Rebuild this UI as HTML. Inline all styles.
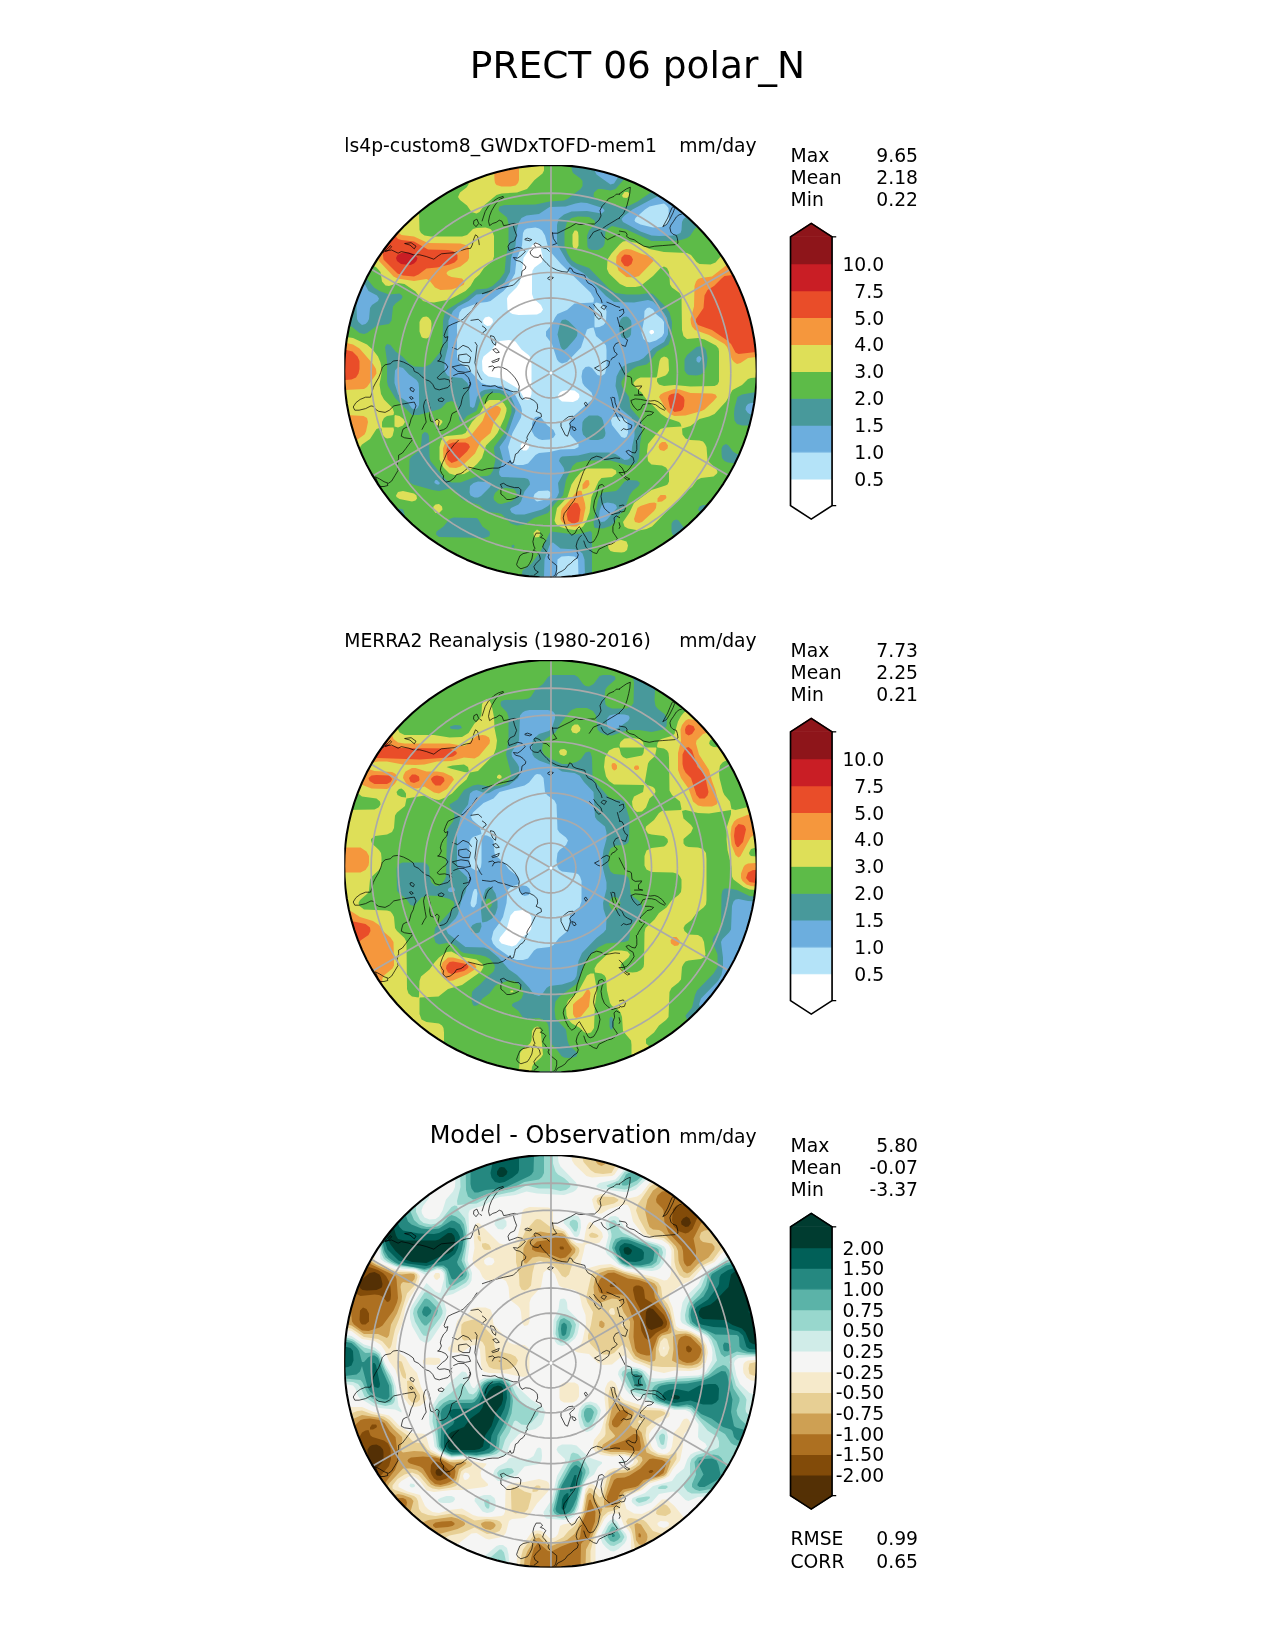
<!DOCTYPE html>
<html><head><meta charset="utf-8"><title>PRECT 06 polar_N</title>
<style>html,body{margin:0;padding:0;background:#fff;}svg{display:block;will-change:transform;}</style>
</head><body>
<svg width="1275" height="1650" viewBox="0 0 612 792" version="1.1"> <defs> <style type="text/css">*{stroke-linejoin: round; stroke-linecap: butt}</style> </defs> <g id="figure_1"> <g id="patch_1"> <path d="M 0 792 L 612 792 L 612 0 L 0 0 z " style="fill: #ffffff"/> </g> <g id="axes_1"> <defs><clipPath id="clipF0"><circle cx="550.48" cy="371.25" r="206.23"/></clipPath></defs><g transform="scale(0.48)"><g clip-path="url(#clipF0)"> <rect x="342.2" y="163.0" width="416.5" height="416.5" fill="#FFFFFF"/> <path fill="#B4E3F8" d="M346.5 166l409.5 0l0 410.5l-411 0l0-410.5l1.5 0zM535.5 242.5l-3 2.5l-9 13l-1.5 15.5l-2.5 9.5l-3 4.5l-8 8l-1.5 3l0.5 11l2.5 3l2.5 1.5l6 1l18.5-0.5l4-2l2-3l-2-4.5l-7.5-6.5l-1.5-4.5l0-19l0.5-4.5l2-3l7.5-5.5l1-4l-3-12.5l-2.5-3l-2 0zM485 317.5l-2 3l0.5 3l3.5 2.5l3.5-0.5l2.5-3.5l-0.5-3l-3.5-2.5l-4 1zM651 330l-1.5 1l0 2l2 1.5l2.5-1.5l0-1.5l-1-1.5l-2 0zM500 341l-3.5 2l-5 7l-8 6.5l-1.5 4.5l0.5 9.5l2 3l4 3l13 2l15.5 9.5l3 3l4.5 8l3.5 1l2-1.5l1.5-4.5l0-31.5l-0.5-4.5l-2.5-3l-7-5.5l-6-8l-6.5-1.5l-9 1zM562.5 391l-2.5 1.5l-2 3l0.5 3l3.5 3l11 0.5l4.5-2l2-3l-0.5-3l-4.5-3.5l-6-0.5l-6 1zM522.5 442.5l-2 3l0.5 3l2 2l3.5 0l2-2l1-3l-3-3.5l-4 0.5z"/> <path fill="#6CAEDE" d="M346.5 166l409.5 0l0 410.5l-177.5 0l-0.5-17l-3.5-3l-6-0.5l-7 0.5l-4 3l-1 17l-211.5 0l0-410.5l1.5 0zM656 205l-6.5 1.5l-4.5 3l-9.5 8.5l-1 2.5l1 1.5l5 2.5l12.5 3l9-0.5l4-2l2.5-3l0.5-3l-0.5-11l-2.5-3l-2-1.5l-8 1.5zM527 228.5l-2.5 1.5l-1.5 3l-1 12.5l-5.5 14l-1.5 14l-7 12.5l-4.5 5l-13 10l-3.5 1l-9 1l-16 6l-2.5 3.5l-2.5 12.5l0 31.5l2 5.5l8 6l14.5 15l5.5 2l14.5 1l7.5 3.5l6.5 6l5.5 11l1 4.5l-1 6.5l-8.5 15.5l-4.5 14l3 14l2.5 3l3.5 1l6 0l5-1.5l7.5-8.5l3.5-2l10.5-1l11-2.5l14-0.5l4-2l0-3l-8.5-9.5l-0.5-4.5l0-8l2.5-4.5l19.5-17.5l1.5-3l-1.5-4.5l-7-6.5l-2-3l-1-6.5l1-6l3-3.5l3.5-0.5l3 1.5l5.5 7l4 1l3.5-2.5l1.5-6l0-17.5l-0.5-4.5l-2.5-3l-7.5-6.5l-2.5-8.5l-3 0.5l-3.5 1.5l-6 18l-14 14.5l-5 1.5l-3-1.5l-2-2.5l-5-15.5l-6-8l0-4.5l5.5-6.5l3.5-7.5l2.5-3.5l9.5-4l7.5-6.5l19-1l0.5-4l-3.5-6l-29.5-28.5l-9.5-11l-3.5-6l-3-11.5l-3-5l-3-2l-3.5-1l-8.5 1zM594.5 303.5l0 23l0.5 1l4.5-0.5l4-2l2.5-3l0.5-11l-1.5-3l-3.5-4l-5-1.5l-2 1zM647 308l-2.5 3l-0.5 9.5l-2.5 12.5l2 6l3 2.5l3 1l6.5-2l6-4l2-3.5l0-8l0-3l-2-3l-6-5l-3-4.5l-3.5-2l-2.5 0.5zM612 417.5l-1 3l1 4.5l9.5 12l3 1l2-1l1.5-4l-0.5-11l-1-2l-3.5-2l-7.5-1.5l-3.5 1zM538.5 491l-4 3l-1 3l1.5 3l2 1.5l11-2.5l3.5-3.5l-0.5-3l-3-2l-9.5 0.5zM535.5 417l3.5-0.5l2 1l6 7.5l6.5 5l2 4.5l-2 3l-4 2l-7.5 0.5l-3.5-1l-4-3l-2.5-4.5l0-8l1.5-4.5l2-2z"/> <path fill="#48999B" d="M346.5 166l247.5 0l0.5 4.5l2 4l14 10l3.5-1l4.5-7l7.5-4.5l1.5-6l58 0l0 6l-2 4.5l-2.5 3l-6.5 3.5l-4.5 8l-17 7.5l-20.5 11l-8.5 6.5l-2.5 3l1.5 3l17.5 9.5l11 4l7.5 0.5l15.5-0.5l6-2.5l1-3l0.5-8l1.5-3l8.5-7l5-7l7.5-5.5l5-7l7.5-5.5l5-7l7.5-5.5l2-4l0-4.5l24.5 0l0 236.5l-5 0.5l-3 1l-2 2.5l-0.5 3l2 3l2 1.5l6.5 1l0 161.5l-171 0l-0.5-17l-2-6l-3-2.5l-3-1.5l-16-1l-7.5-6l-1.5 0.5l-2 2.5l-5 14l-0.5 17l-199 0l0-286.5l6.5 1l3 2l1.5 2.5l1 23.5l1.5 3l3.5 3l3.5-1l2-2l1.5-3l1-11l2-3l6-4l1-2.5l-2-3l-8.5-4.5l-3.5-6.5l-3-2l-17-1l0-115.5l1.5 0zM575.5 203.5l-10 3l-16 0.5l-10.5 7l-12.5 1.5l-5 2.5l-2.5 4l-2 6.5l-1.5 17l-4.5 12.5l-1 14l-5.5 10.5l-5 4.5l-6 4l-6.5 2.5l-10.5 1l-8 6.5l-10.5 5.5l-5 4.5l-4.5 9.5l-0.5 26.5l-3.5 14l0 9.5l1.5 3l2 2.5l3.5 1l10.5 1l5.5 5l1.5 4.5l1 19l3 1.5l1.5-1.5l2.5-9.5l4-5.5l3-1.5l6.5-1l9 0.5l5 2l6.5 5.5l3.5 8l1 6l-6 17.5l-3.5 9.5l-6.5 9l3.5 12.5l-4 12.5l0.5 3l2 2l23 1l3.5 1l1.5 2.5l0.5 3l-5.5 7l-3.5 10l-2.5 3l-7.5 3.5l-1 1.5l1.5 3l4 2l9 0l17.5-5l6-3.5l9-9l2-4.5l-1-9.5l5.5-9.5l1-3l-1-3l-4.5-6.5l1-3l2-1.5l16-1l12.5-3l18.5 0l6.5 1.5l9 6l3.5-0.5l2-1.5l1.5-3l0.5-8l2.5-11l0-12.5l-3-6l-10-8l-2-3l-1-9.5l-3-11l1-9.5l3-6l3.5-4l5-3l11-3l4.5-2.5l9.5-9.5l11-6.5l4-7.5l0-11l-1-5.5l-3-5l-11-11.5l-5-1.5l-14 2.5l-20-0.5l-8-6l-22-22.5l-12.5-7.5l-4.5-5l-10-17l0-19l1.5-6l5.5-4.5l7.5-3l15.5-0.5l14.5 2.5l3-2.5l-0.5-1.5l-1.5-1.5l-15.5-5l-6-0.5l-5.5 1zM698 356.5l-1.5 1.5l0 3l1.5 1.5l1.5 0l1.5-2.5l0.5-2l-2-2l-1.5 0.5zM397.5 367.5l-2.5 3l-0.5 8l0 4.5l3.5 11l2 3l7.5 5l4.5 6.5l3.5 1l2-1.5l1.5-3l0-17.5l-0.5-4.5l-2-3l-7.5-5.5l-6-6.5l-3.5-1l-2 0.5zM434.5 481.5l0 1.5l2.5 1.5l2 0l1-1.5l-3-3l-1.5 0l-1 1.5zM473.5 483l-3.5 3l-0.5 6.5l1 3l4 2l3.5 0l3-1.5l8.5-8.5l2-3l-0.5-1.5l-4-1l-9-0.5l-4.5 1.5zM603.5 503.5l-2 2l-2 5.5l-0.5 8l0.5 2l2 1l3-0.5l3-2.5l9.5-11l-1-3l-2.5-1.5l-6-1l-4 1zM623 317l3.5-0.5l2 1l2.5 3l0.5 3l-0.5 11l-1.5 2.5l-3 1.5l-3.5-0.5l-1.5-1l-2-5.5l0-9.5l1.5-3l2-2zM562 320l3.5-0.5l3 1.5l8 8l1 4l-0.5 3l-2.5 3.5l-7.5 8.5l-3 2l-2-1l-1.5-2.5l-3-12l2.5-11l2-3.5zM589 415.5l9 0l3.5 2l1.5 3l2.5 12.5l-0.5 3l-2 2.5l-5 1.5l-7.5 0l-3.5-1.5l-4-4l-1-4.5l0.5-8l2-3l4.5-3.5z"/> <path fill="#5DBB48" d="M346.5 166l225 0l0.5 4.5l1 2.5l7.5 5.5l2 2.5l0 5l-2 3l-12.5 9.5l-4 2l-14.5 1l-14 3l-31 0.5l-5 1.5l-1 3l0.5 1.5l8 6.5l1.5 6l0 20.5l-2.5 12.5l-1.5 16l-5 7l-7 6.5l-5.5 2.5l-10.5 1l-11 9l-19 11.5l-2 4l-1.5 6.5l-0.5 26.5l-2 4.5l-10 12.5l-6 3l-10.5-0.5l-5-3l-6.5-7l-7-5l-5-6.5l-3.5-1l-2 3l2 14l0 20.5l1 4.5l7.5 12.5l16.5 16.5l6.5 0l20-5.5l3-1.5l5-5.5l5-1.5l3 1.5l3 3.5l1 3.5l0.5 9.5l1.5 3l1.5 0l5-6l9.5-5l4.5-12.5l4.5-4.5l5-1l9 0l5 2.5l3 3l4 8l0 6l-7 20.5l-10.5 14l0 3l1.5 9.5l-2.5 11l-2.5 4l-3.5 1.5l-10.5 0.5l-16 6l-9 0l-5-2.5l-3.5-3.5l-12.5-15.5l-1-4.5l-0.5-20.5l-1.5-3l-3-1l-2.5 2.5l-1 11l-1 3.5l-2 2.5l-6.5 5l-2 3l-0.5 20.5l1.5 3l2.5 1.5l19.5 5.5l6.5 1l10.5-2.5l3.5 0.5l3 2l4.5 7l3.5 2.5l15.5 4.5l7.5 7l11 1l3.5 1l9.5 9.5l6 2l7.5-1l9.5-6.5l14-5l7-9.5l8-8l3-15.5l6.5-14l4-3.5l10.5-2l23.5 0l17.5 5l6-1l3-2l2-4.5l1-14l2-12.5l-0.5-9.5l-1.5-3l-9.5-11l-1.5-11l-6.5-9.5l-1-3l0-3l4-6.5l7-6l4.5-2.5l9.5-2l3-2.5l7.5-10.5l11.5-7l3-8.5l0.5-14l-2.5-9.5l-4-6l-12.5-12.5l-3.5-1l-10.5 1.5l-12.5 0l-11-1.5l-6.5-4.5l-20-20.5l-12.5-4.5l-5-3.5l-4-6.5l-3-8l0-14l2.5-9.5l4.5-4l6.5-1.5l11 0.5l5.5 3.5l0.5 1.5l-0.5 3l-5.5 5.5l-2 5.5l0.5 11l1.5 2l3 1l6 0l5-3l1.5-3l1-12.5l2.5-3l4-2.5l14.5 3.5l25 11.5l21.5 0l8-1l6-2l3-2l5-7.5l7-5l5.5-7.5l7-5l5.5-7.5l7-5l5.5-7.5l8-5.5l5-7l4-2.5l6.5-0.5l0 216.5l-14 2.5l-4.5 2.5l-3 11l-0.5 6l0.5 6.5l2.5 3.5l5 1.5l14 0l0 29l-19-0.5l-4-2.5l-4.5-6l-2.5-1.5l-3 1.5l-1.5 3l0 5l0.5 4.5l2.5 3l3.5 1.5l12.5 1.5l3 2l5.5 7.5l2 1.5l5 0.5l0 66.5l-6.5-0.5l-4-2.5l-5-7l-7.5-5.5l-5-7l-7.5-5.5l-7-8l-3-1l-7.5 0l-3.5 1.5l-1.5 3l1.5 2l6.5 4.5l5 7.5l7.5 5l5 7.5l7.5 5l5 7.5l7.5 5l4.5 7l3 2l5 0.5l0 13.5l-26.5 0l-0.5-4.5l-2-3l-6.5-5l-5-7l-7.5-5.5l-5-7l-7.5-5.5l-5-7l-7.5-5.5l-4.5-6l-2-1l-3 1l-2 3l0 8l1 3l8.5 6.5l5 7.5l7.5 5l5 7.5l7.5 5l2.5 4.5l0.5 6l-117 0l0-40.5l0-3l-1.5-2l-9.5 2.5l-6.5 1l-23-3l-2 1.5l-9 18.5l-9.5 12.5l-8.5 6.5l-1 6l-167 0l0.5-6l1.5-3l9-7l5-7l7.5-5.5l5-7l7.5-5.5l5-7l6.5-5l2-3l0.5-6.5l-1.5-4.5l-3.5-1l-2 1l-4.5 4.5l-7.5 5.5l-5 7l-7.5 5.5l-5 7l-7.5 5.5l-5 7l-4 2.5l-6.5 0.5l0-29l4.5-0.5l2.5-1.5l6-7.5l7.5-5.5l5-7l6.5-5l2-3l0.5-6.5l-1-6l-4-3l-29.5-0.5l0-154l6.5 1l8 6.5l4.5 1l3-1l9.5-7l12.5-2l2.5-3.5l1.5-14l2.5-3l6-4.5l1-2l-0.5-1.5l-2.5-2l-10.5 1l-9.5-3.5l-5.5-3.5l-6-7.5l-4-3l-19-1l0-110l1.5 0zM696.5 347l-9.5 8l-2.5 4.5l0 11l2 3l2 1.5l8 0.5l4.5-1l3.5-3.5l2-5l1-8l-1.5-8l-2.5-3l-2.5-1l-4.5 1zM628.5 480l-4 1.5l-6 7.5l-2.5 2l-13 1.5l-3 3l-2 4.5l-4.5 22l0.5 4.5l1 1.5l8 0.5l7.5-2.5l3-2.5l4.5-7.5l6.5-6.5l5-14l3-4.5l6-5l1.5-3l-3-2.5l-8.5-0.5zM453.5 517.5l-4 1.5l-6 7.5l-7 5l-0.5 3l3 2.5l45 1l5-1.5l1-2l-0.5-3l-7-5l-4.5-7.5l-1.5-1l-23-0.5zM511.5 545.5l0.5 2.5l2.5-1l-0.5-2.5l-2.5 1zM634 166l46.5 0l-0.5 4.5l-1.5 3l-8 6.5l-5 6.5l-3.5 2l-10.5 3.5l-14 9.5l-8 4l-5 1.5l-7.5-1l-17.5-5.5l-5.5-3.5l-0.5-1.5l0.5-3l4-3.5l3.5 0l9 1.5l5-1.5l7.5-8.5l7.5-5.5l2-3l0.5-6l1 0zM499.5 489l6.5-1l8 1l2.5 3.5l0 4.5l-4.5 4l-10.5 3l-3.5-0.5l-4-3.5l-0.5-3l1.5-4l4.5-4z"/> <path fill="#DEDF58" d="M346.5 166l35.5 0l0 4.5l2 4l7.5 5.5l5 7l7.5 5.5l5 7l8.5 7l1.5 4.5l0.5 19l1.5 3l3.5 2.5l6.5 1l31 0l5-1.5l6-6l3.5-1l9-0.5l5 1.5l2 2.5l1.5 4.5l0 20.5l-1.5 4.5l-8.5 7l-4.5 6.5l-5 4.5l-4 7l-5 5l-16 8.5l-15.5 3l-7.5-0.5l-3.5-1l-7.5-9.5l-11-7.5l-6.5-1l-9 3l-3.5-0.5l-3.5-4l-1.5-9.5l-4-4.5l-3.5-2l-28-0.5l0-99l1.5 0zM470 166l74 0l0 4.5l-1.5 3l-8 6.5l-7.5 9l-10 3.5l-15.5 1l-5 1.5l-12 10l-5 7l-3 1.5l-5-1.5l-4.5-6.5l-7-5.5l-2-3l2-4.5l6.5-5l2-3l0.5-18.5l1 0zM624.5 192l3.5 0l1.5 2l-1 3l-2 1l-3.5-0.5l-1-2l2.5-3.5zM751 228l5-0.5l0 150l-5 0.5l-3 1l-6 6l-9.5 5l-6.5 11.5l-11.5 12.5l-5.5 2.5l-9.5 2.5l-9 7l-8.5 2.5l0.5 6l3 4l5 1.5l9 0.5l3.5 1l2 2.5l1.5 3l1 12.5l2 3l7 6.5l1 3l-0.5 1.5l-3.5 3l-12.5 1.5l-4 2l-5 7l-7.5 5.5l-5.5 7.5l-7.5 6.5l-19.5 20l-5.5 2.5l-7.5 1.5l-11-2l-3.5-2l-1.5-4.5l6.5-9.5l4.5-9.5l17.5-13l14-4.5l2-1l1.5-3l0-9.5l-3-4.5l-4-2l-10.5-1l-3.5-3.5l-1-9.5l1-7.5l12.5-15l5-1.5l16-1l-1-3l-1.5-1.5l-12-4l-6-4l-7-7.5l-7.5-7l-5-7l-7-6.5l-1-3l1-1.5l2.5-2.5l3.5-1.5l15.5 0l1-1l2.5-15.5l1.5-3l3-1.5l3 1l1.5 2l0.5 11l-1.5 3l-2 2l-8.5 3l0 3l2 3l5 1.5l10.5-1l16 1.5l24-0.5l3-1.5l1.5-3l0-30l-0.5-3l-2.5-3l-11.5-6l-6.5-1.5l-11 1l-3.5-3l-1.5-6l-0.5-33l-2-4l-7.5-5.5l-2-3l-1-12.5l-2-4l-3-1.5l-3.5 1.5l-7.5 8l-12.5 10l-5 1l-9 0l-6.5-3l-11-10.5l-2-4.5l0.5-9.5l4-6l8.5-9.5l3-2.5l3.5-0.5l10.5 2l12.5 6l14.5 3l23 1l4 2l5.5 7l3 2l11 0.5l5-2l6-7l7.5-5.5l5.5-7.5l7.5-5.5l4.5-6.5l4.5-2.5zM574.5 230.5l2 0l1.5 1.5l0.5 4l0 9.5l-2 4l-2-0.5l-1.5-2l-0.5-3l0-9.5l2-4zM423 317l3.5-0.5l2 1l2.5 3l0.5 3l-0.5 11l-1.5 2.5l-3 1.5l-3.5-0.5l-1.5-1l-2-5.5l0-9.5l1.5-3l2-2zM346.5 337l6.5 1l14 6.5l6 5.5l5 6.5l2.5 6l1.5 8l-2.5 14l1.5 9.5l3 5.5l8.5 8.5l1.5 4.5l-0.5 2.5l-6.5 1l-3 2l-2 4l0 4.5l0.5 1l11 0l0.5 2.5l-1.5 6l-2 2l-3.5 0.5l-2-1l-2.5-3l-1-6l-2-0.5l-3 1l-6.5 10l-8 5.5l-6 8.5l-4.5 2.5l-6.5 0.5l0-119l1.5 0zM489 400l10.5 0l4.5 3.5l2.5 4.5l0 3l-2 7l-7 15l-3.5 4.5l-8 8l-4 12.5l-5 6l-8.5 7.5l-4.5 2.5l-9.5 1l-5-1.5l-6-6l-4-8l0-12.5l1.5-6l2-3.5l3.5-1.5l15.5-1.5l3.5-1.5l6.5-11l7.5-8l5.5-10.5l4-3.5zM395 415l4.5 1l4 3l1.5 3l-2 3.5l-5 2l-3.5-1l0-10.5l0.5-1zM439 419l3 1.5l0.5 1.5l-2 3l-1.5 1l-3.5-1.5l-1.5-2.5l1.5-2l3.5-1zM587 468.5l25 0l4 2l0.5 3l-4.5 3.5l-10.5 1l-3 3.5l-7 15.5l-2 15.5l-3.5 9.5l-3 4.5l-3.5 2.5l-5 1l-7.5-1l-6.5-2l-4.5-3l-1.5-3.5l2.5-12.5l10.5-11l4-12.5l4-6l5.5-6.5l6-3.5zM398 492l5-1l11 2.5l2.5 2l0.5 3l-1.5 2l-3.5 1l-12.5-2.5l-3-2l-0.5-1.5l2-3.5zM435.5 504.5l3.5-0.5l3 2.5l0.5 3l-3.5 3.5l-3.5 0l-2.5-3.5l0.5-3l2-2zM537 529.5l3 2l0 3l-1 2.5l-3.5 0.5l-1.5-1.5l-0.5-3l3.5-3.5zM614 540.5l7.5-0.5l5 1.5l1.5 4l-1 4.5l-2.5 2l-3 0.5l-7.5-0.5l-3.5-1l-2-2.5l-0.5-3l2-3l4-2z"/> <path fill="#F5973D" d="M495 166l24 0l0 14l-1 3l-2.5 2.5l-5 1l-9 0l-5-1.5l-1.5-2l-0.5-3l-0.5-14l1 0zM346.5 185.5l6.5 1l4.5 2.5l4.5 7.5l8 5l4.5 7.5l8 5l4.5 7.5l8 5l4 6.5l2.5 2l12.5 1.5l14 6.5l32.5 0.5l7 2l1.5 3l0 3l0 6.5l-1.5 3l-7 5.5l-11.5 4l-2 1.5l-0.5 1.5l1.5 2l3.5 1.5l10.5 1.5l2.5 3l-0.5 3l-3.5 2l-9 3l-11 0.5l-5.5-2.5l-5.5-7l-3-1.5l-12.5 2l-16.5-2.5l-4-2l-14.5-15.5l-1.5-4.5l-0.5-8l-1.5-3l-7.5-4.5l-5-8l-7.5-4.5l-4-7.5l-3.5-1.5l-3 0l0-34l1.5 0zM623 250l3.5-1l4.5 0.5l11 4.5l9 2.5l2.5 1.5l0 3l-14.5 15l-5 1.5l-7.5-0.5l-8-6.5l-2.5-8l0.5-6l3.5-4.5l3-2zM749.5 261l6.5-0.5l0 96.5l-8 1l-7.5 5l-3.5 1l-3-2l-2-2.5l-5-12.5l-2.5-3l-15.5-9l-14-5l-3-3.5l-1-3l-0.5-4.5l3.5-12.5l0.5-20.5l1.5-4.5l2-2.5l3-1l11-1.5l14-11l9.5-0.5l14-4zM346.5 343l6.5 1.5l6.5 4l13.5 15.5l3 5l0.5 4.5l-2 3l-7.5 10.5l-3 2l-19 1l0-47l1.5 0zM674.5 389l5 0.5l11 3.5l21.5 0.5l3.5 1l1.5 2.5l-3.5 4l-9 8.5l-3 1.5l-16 4.5l-11 0.5l-4.5-2l-3-3l-8-14l1.5-2.5l3.5-2l10.5-3.5zM490.5 406l7.5 0l2.5 2l0.5 1.5l-1.5 4.5l-5.5 8l-3.5 11l-9.5 8l-6 12.5l-11 10.5l-3.5 2.5l-4.5 1.5l-6.5-0.5l-3.5-3.5l-2.5-6l-0.5-9.5l2-5.5l4.5-3.5l16-1l5-2.5l12-15l4.5-12l3.5-3zM346.5 415l17 1l3.5 2l1 4l-2 9.5l-1.5 3l-7 5l-6 8l-6.5 1.5l0-34l1.5 0zM662 442l3.5 0l2.5 3.5l-0.5 3l-3.5 2.5l-4-1l-1.5-3l1-3l2.5-2zM585.5 480.5l1.5-0.5l2 0.5l0.5 4l-2.5 3.5l-4.5 1.5l0-5l3-4zM579.5 490.5l2 0.5l3.5 12.5l0.5 4.5l-1 4.5l-1.5 8l-2 3l-4.5 3l-5 0l-6-2l-3.5-2.5l-1.5-3l0.5-8l1.5-3l7.5-8l6.5-8l3-1.5zM660.5 495l5 0l1 2l-0.5 1.5l-4 3l-4.5 0.5l0-3.5l3-3.5zM649.5 503l5-0.5l2 1l-0.5 4.5l-2 3l-12 11l-3 1l-4-1l-1-3l3.5-11l3-2l9-3z"/> <path fill="#E94D29" d="M346.5 190.5l6.5 2l6 7.5l6.5 5l6 7.5l6.5 5l6 7.5l6.5 5l7.5 9l3.5 1l12.5 1.5l14 8l20 0.5l5 1l4.5 4l0 4.5l-3 3l-5 2l-12.5 3l-10.5 1l-8 6l-4.5 2l-11-1l-5.5-2l-14-14l-1.5-12.5l-2.5-4.5l-6.5-5l-6-8l-8-6l-4.5-6.5l-3-2l-6.5-0.5l0-24l1.5 0zM624.5 254.5l5 0.5l2 1.5l1.5 3l-1.5 4.5l-3.5 2.5l-3.5-0.5l-3.5-5l0.5-3.5l3-3zM753 265.5l3 0l0 52.5l-5.5 1l-1 1.5l0 1.5l1.5 2l5 0.5l0 27.5l-17.5 2l-3-1.5l-4.5-8.5l-3-3l-16-11l-14-5l-2-3l0-3l7.5-11l1-12.5l3-5.5l6.5-4l7.5-7.5l3-2.5l12.5-1.5l9.5-7l6.5-2zM346.5 350l6 1.5l5 5l2 4.5l0 8l-1 4.5l-2.5 4l-4.5 2l-6.5 0.5l0-30l1.5 0zM671.5 394l6.5-1l5.5 4l1 3l-0.5 6.5l-1.5 3l-2 1.5l-6 1l-4.5-4l-2-9.5l1-3l2.5-1.5zM453 442.5l12.5 0l3 1.5l1.5 3l-3 4.5l-10 9.5l-5.5 2l-4-3.5l-1-9.5l1.5-5.5l5-2zM574.5 502.5l3.5 1l2.5 6l-1.5 11l-1 1.5l-3.5 1.5l-3-0.5l-3.5-2.5l-1.5-6.5l2-6l6-5.5z"/> <path fill="#C91E25" d="M401.5 253l7.5-0.5l5 1.5l3.5 4l-1 3l-2.5 2.5l-3.5 1.5l-9.5-1l-4-3l-1-3l1.5-3l4-2z"/> </g><g clip-path="url(#clipF0)"><path fill="none" stroke="#000" stroke-width="0.7" stroke-linejoin="round" d="M382.9 252.7L386.7 249.4 390.5 245.6 391.6 246.9 387.8 250.7 385.1 251.6M385.1 251.0L391.6 250.0 398.1 253.2 401.3 251.6 408.9 253.2 413.3 254.8 419.7 254.8 426.2 256.5 433.8 259.2 438.1 255.9 441.4 253.8 447.9 253.2 454.4 252.7 460.9 250.5 466.3 248.9 470.6 248.3 472.2 245.1 473.9 238.6 475.5 234.8 477.7 236.4 478.7 240.8 479.3 245.1M404.6 243.5L411.1 242.7 416.0 246.2 414.3 248.9 410.0 245.1 404.6 243.5M473.9 220.7L476.9 219.1 478.7 223.4 476.0 226.7 473.5 224.0 473.9 220.7M479.5 224.0L482.0 225.6M482.0 221.3L485.2 211.5 488.5 206.1 493.9 200.7 498.2 198.0 503.1 196.4 503.6 197.5 499.3 199.6 495.0 205.0 491.7 210.5 489.6 215.9 488.5 221.3 489.6 225.6 492.8 223.4 496.1 222.4 499.3 220.2 502.0 221.3 503.6 225.6 506.9 225.1 511.2 224.0 514.5 223.4 517.7 224.5M513.4 225.6L514.5 229.9 516.6 235.4 514.5 240.8 510.1 242.9 508.0 246.2 509.0 250.5 513.4 248.9 517.7 247.3 522.0 248.3 525.3 251.6 520.9 255.9 517.7 258.1 513.4 257.5 515.5 260.2 519.9 261.3 523.1 263.5 525.8 266.7 525.3 268.9 522.0 271.1 521.5 275.4 519.9 278.6 516.6 281.9 513.4 285.1 509.0 286.2 503.6 287.3 499.3 288.4 495.0 289.5 488.5 291.6 482.0 293.8M549.6 251.6L546.9 248.9 542.6 247.8 540.4 245.1 537.2 243.5 535.0 242.9 533.9 244.6 535.6 246.2 532.9 248.9 530.1 251.6 530.7 254.3 533.9 257.0 538.3 257.5 540.4 254.8 541.0 257.0 543.7 260.2 546.9 263.5 549.6 266.2 552.3 267.8 556.7 270.0 562.1 271.6 567.5 272.2 569.7 267.8 571.8 268.9 572.9 271.6 576.1 273.2 580.5 274.3 584.8 275.4 585.9 279.7 588.1 283.0 592.4 285.1 595.6 288.4 596.7 292.7 598.9 296.0 601.0 299.2 602.1 303.0M552.3 232.1L553.4 238.6 556.7 243.5 552.3 245.1M552.3 233.2L557.7 233.2 564.2 229.9 570.7 226.7 576.1 223.4 579.4 224.5 583.7 224.5 590.2 224.0 594.5 224.0 598.9 220.2 601.0 215.9 600.0 210.5 602.1 206.1 605.4 202.9 608.6 198.6 614.0 196.4 616.2 194.2 620.0 194.2M589.1 238.6L593.5 232.1 598.9 229.9 602.1 228.9 606.5 225.6 611.9 222.4 617.3 219.1 620.0 218.0M601.0 232.1L603.2 236.4 607.5 239.7 611.9 237.5 616.2 235.4 620.0 234.3M524.7 239.1L527.4 238.1 531.8 239.7 529.6 240.8 524.7 239.7M547.5 278.1L550.2 276.5 553.4 277.6 550.7 280.3 547.5 278.6M619.0 194.2L623.3 191.0 626.6 188.8 630.3 187.2 629.8 193.1 628.7 198.6 627.1 205.0 625.5 209.4 623.3 213.7 619.0 218.0M619.0 231.0L625.5 232.1 627.1 234.3 626.6 236.4 629.8 238.6 634.1 239.7 638.5 242.9 643.9 246.2 649.3 247.3 654.7 246.2 662.3 245.6 668.8 245.1 675.3 244.6 678.0 242.9 677.4 238.6 676.3 235.4 673.1 234.3 670.9 232.1 669.9 227.8 670.9 225.1 673.6 221.3 676.3 217.0 679.1 214.8 681.8 214.2M662.8 226.7L664.4 224.0 667.7 218.0 669.9 212.6 672.0 207.8 673.1 206.7 674.7 208.3 673.1 212.6 669.9 219.1 666.6 224.5 662.8 226.7M382.9 366.9L385.1 364.8 390.5 363.7 393.2 361.0 398.1 360.4 403.5 362.1 408.9 364.8 413.3 368.0 414.3 371.3 418.7 373.4 421.9 376.7 426.2 379.9 429.5 381.0 432.7 384.3 434.9 388.6 439.2 389.9 443.6 388.6 447.9 387.5 450.6 384.3 449.5 381.0 452.2 377.8M382.4 366.9L380.8 372.4 378.6 377.8 375.4 383.2 373.2 387.5 371.6 394.0 370.5 397.2 365.6 397.2 360.2 399.4 355.9 402.7 353.2 407.0 354.8 410.2 359.1 410.2 365.6 408.6 371.0 405.9 373.7 406.4 375.4 409.2 378.6 411.3 385.1 412.4 389.4 410.2 393.8 405.9 399.2 404.8 404.6 403.7 410.0 402.7 414.3 402.1M414.3 402.1L416.0 405.9 414.3 410.2 413.3 414.6 411.1 418.9 410.0 423.2 408.9 426.5 405.7 427.6 403.0 429.2 401.9 433.0 401.3 436.2 404.6 437.8 410.0 438.6 413.3 438.9M421.9 429.7L424.1 425.4 426.2 422.1 425.2 416.7 424.1 410.2 423.5 405.9 424.6 401.6 426.2 399.4 428.4 401.6 429.5 405.9 430.6 410.2 429.5 415.6 430.6 421.1 433.8 422.1 437.1 418.9 439.2 421.1 438.1 426.5 437.1 429.7 439.2 430.8 443.6 429.7 446.8 427.6 447.9 425.4 450.1 421.1 451.1 416.7 452.2 413.5 456.5 411.3 458.7 409.2 460.9 404.8 462.0 399.4 463.0 396.2 465.2 392.9 467.4 390.8 469.5 387.5 470.6 384.3 469.5 382.1M477.1 302.5L471.7 310.7 467.4 315.0 463.0 319.3 458.7 321.5 452.2 324.2 447.9 326.4 445.7 331.2 444.1 335.6 445.2 337.7 447.9 336.6 446.8 341.0 443.6 344.2 441.4 348.5 440.3 352.9 441.4 356.1 439.2 360.4 437.6 361.0 441.4 361.7 445.7 363.7 447.9 366.9 445.7 370.2 442.5 372.4 439.2 375.6 437.1 377.8 439.2 379.4 444.6 378.8 449.0 379.9 452.2 382.1M470.6 320.4L478.2 319.3 482.0 322.6M452.2 347.5L457.6 349.6 463.0 345.3 468.5 347.5 471.7 351.8M458.7 355.0L466.3 354.0 470.6 357.2 469.5 362.6 463.0 362.6 458.7 360.4 458.7 355.0M452.2 366.9L460.9 364.8 468.5 365.9 470.6 371.3 465.2 372.4 457.6 371.3 452.2 366.9M453.3 375.6L458.7 373.4 464.1 373.4 468.5 377.8 470.6 383.2 468.5 387.5 463.0 388.6M474.9 342.0L477.1 345.3 476.0 354.0 474.9 362.6 477.1 371.3 480.4 377.8 482.0 379.9M410.0 388.0L412.2 387.5 414.3 389.7 413.3 391.8 410.5 390.2 410.0 388.0M409.5 397.2L411.6 396.7 413.3 398.3 411.1 399.4 409.5 397.2M438.1 399.4L441.4 397.8 444.1 399.4 442.5 401.6 438.7 401.0 438.1 399.4M482.0 325.8L485.2 328.0 486.3 330.1 483.1 332.3 482.0 334.5M490.6 335.6L493.9 336.6 496.1 341.0 495.5 345.3 492.8 343.1 490.6 337.7 490.6 335.6M492.8 349.6L496.1 348.5 499.3 352.3 496.1 352.9 492.8 349.6M491.7 361.5L499.3 358.3 498.2 361.0 492.8 362.6 491.7 361.5M488.5 366.9L492.8 365.9 495.0 368.0M492.3 371.3L493.9 368.0 498.2 366.9 502.5 367.5 506.9 369.6 511.2 373.4 515.0 377.8 517.7 382.1 519.3 386.4 518.8 389.7 518.8 391.8 519.9 396.2 522.0 399.4 525.3 397.8 529.6 398.3 533.9 400.5 537.2 403.7 537.7 408.1 536.1 411.3 538.3 412.4 541.0 413.5 541.5 416.7 539.3 417.8 537.2 418.9 535.0 422.1 532.9 426.5 530.7 430.8 528.5 434.0 526.9 437.3 527.4 440.0M482.0 385.3L486.3 385.9 490.6 386.4 495.0 385.6 498.2 387.5 503.6 388.6 506.9 389.7 510.1 390.8 513.4 391.8 518.8 391.8M492.8 391.8L488.5 395.1 486.3 399.4 485.2 403.7M561.0 423.2L564.2 420.0 568.6 416.7 572.9 416.2 574.5 418.9 571.8 421.1 569.7 423.2 570.7 426.5 569.7 429.7 568.6 433.0 567.5 436.2 565.3 435.1 563.2 430.8 561.0 426.5 561.0 423.2M571.8 426.5L575.1 427.6 576.1 429.7 574.0 430.8 572.4 428.6 571.8 426.5M584.3 403.2L585.9 402.1 587.5 404.8 585.9 406.4 584.3 403.2M594.5 368.0L598.9 365.9 602.1 362.6 606.5 360.4 609.7 361.5 608.6 365.9 604.3 369.1 601.0 371.3 597.8 370.2 594.5 368.0M589.1 306.3L593.5 310.7 595.6 316.1 598.9 319.3 602.1 317.2 601.0 312.8 596.7 308.5 593.5 304.2M601.0 307.4L603.2 305.2 606.5 306.3 604.3 309.6 601.0 307.4M606.5 302.0L611.9 304.2 616.2 306.3 620.0 307.4M617.3 317.2L618.4 321.5 620.0 326.9M620.0 342.0L615.7 343.7 613.5 347.5 614.6 351.8 617.3 354.0 615.1 356.7 611.9 358.3 610.8 360.4M610.8 397.2L611.9 401.6 612.9 405.9 614.0 410.2 616.2 414.6 618.4 418.9 620.0 421.1M611.9 397.2L614.6 397.8 615.1 402.7 617.3 408.1 620.0 410.2M619.0 310.7L623.3 309.0 623.9 312.8 621.1 316.1 619.0 317.2M619.0 325.8L622.2 326.9 623.9 330.1 623.3 334.5 625.5 338.8 627.6 339.9 626.6 343.1 625.5 346.4 622.2 345.3 619.0 343.1M619.0 362.6L621.1 366.9 623.3 371.3 625.5 375.6 629.8 376.7 631.4 377.8 632.0 384.3 635.2 386.4 641.7 385.9 640.6 388.0 638.5 389.7 638.5 394.0 642.8 395.1 634.1 395.1M630.9 400.5L635.2 398.9 640.6 399.4 646.0 400.5 650.4 401.0 654.7 400.5 657.9 401.6 662.3 404.8 665.5 409.2 664.4 410.2 660.1 408.1 655.8 404.8 651.5 403.7 647.1 403.7 642.8 404.8 640.6 409.2 637.4 410.2 634.1 407.0 632.0 403.7 630.9 400.5M645.0 411.3L649.3 411.3 653.6 412.4 651.5 414.6 647.1 415.6 643.9 418.9 640.6 422.1 639.5 426.5 641.7 427.6 643.9 425.4 644.4 428.6 642.8 430.8 640.6 434.0 638.5 437.3 637.4 440.0M619.0 413.5L622.2 416.7 624.4 421.1 627.6 423.2 632.0 425.4 630.9 428.6 626.6 429.7 623.3 428.6 621.1 430.8M412.2 440.0L408.9 444.3 405.7 448.7 402.4 453.0 398.6 455.2 398.6 458.4 397.0 464.9 398.1 470.3 394.9 475.7 391.6 481.1 388.4 483.3 384.0 481.7 379.7 479.0 375.4 476.8M375.4 476.8L378.6 484.4 380.8 486.5 384.0 486.5 387.8 485.5 387.3 483.3M458.7 440.0L454.4 444.3 450.1 449.7 446.8 453.0 444.6 458.4 442.5 462.7 440.9 467.1 440.3 470.3 441.9 473.6 443.6 475.7 443.0 479.0 445.7 482.2 450.1 481.1 454.4 477.9 456.5 474.6 460.9 473.6 464.1 471.4 466.3 469.2 468.5 467.1 472.8 468.1 477.1 469.2 482.0 470.3M526.4 440.0L525.3 444.3 523.1 447.6 519.9 449.7 517.7 453.0 515.5 454.1 514.5 458.4 513.4 462.7 511.2 463.3 510.1 460.6 509.0 462.7 506.9 463.3 503.6 466.0 498.2 468.1 492.8 468.1 487.4 468.7 482.0 470.3M500.4 484.4L503.6 483.3 506.9 485.5 510.1 486.5 514.5 487.6 518.8 487.6 520.9 489.8 520.4 494.1 518.8 496.3 514.5 498.4 510.1 499.5 506.9 499.5 503.6 496.3 500.9 494.1 500.9 489.8 502.0 487.6 500.4 484.4M620.0 458.4L615.1 457.9 609.7 458.9 604.3 459.5 601.0 457.3 596.7 456.2 591.3 458.4 589.1 461.6 585.9 467.1 583.7 471.4 581.6 476.8 579.4 483.3 577.2 489.8 576.1 496.3 574.0 500.6 570.7 504.9 567.5 509.3 564.2 513.6 563.2 517.9 565.3 525.5 568.6 532.0 571.8 535.2 575.1 533.1 577.2 528.8 579.4 526.6 582.6 532.0 585.9 537.4 588.1 541.7 590.2 542.8 593.5 541.7 595.6 538.5 597.8 534.2 598.9 529.8 600.0 524.4 598.9 520.1 596.7 515.8 594.5 511.4 593.5 507.1 594.5 500.6 596.7 495.2 597.8 489.8 598.9 485.5 602.1 484.4 604.3 486.5 602.1 490.9 601.0 496.3 602.1 502.8 604.3 508.2 607.5 511.4 611.9 514.7 615.1 513.6 620.0 512.5M620.0 517.9L616.2 515.8 614.0 517.9 614.6 522.3 612.9 526.6 612.9 532.0 615.1 535.2 617.3 538.5 615.1 541.7 611.9 543.9 607.5 545.0 603.2 547.2 598.9 549.3 596.7 553.6 593.5 552.6 590.2 550.4 588.1 549.3 585.9 547.2 584.8 543.9 583.7 540.7M581.6 535.2L579.4 537.4 577.2 541.7 576.1 546.1 577.2 549.3 577.2 552.6 578.3 554.7 577.2 558.0 574.0 560.1 570.7 563.4 567.5 565.6 565.3 568.8 562.1 571.0 557.7 573.1 555.6 576.4M536.1 533.1L540.4 533.1 542.6 535.2 540.4 537.4 543.7 538.5 545.8 540.7 543.7 543.9 542.6 547.2 544.8 549.3 546.9 552.6 549.1 554.7 548.0 556.9 549.1 559.1 551.3 561.2 556.7 565.6 556.7 569.9 555.6 574.2 553.4 576.4M536.1 533.1L533.9 537.4 532.9 541.7 533.9 546.1 535.0 548.2 533.4 550.4 536.1 551.5 539.3 554.7 540.4 559.1 538.3 561.2 536.1 563.4 533.9 566.6 535.0 569.9 538.3 572.0 533.9 575.3M517.7 561.2L519.9 555.8 523.1 553.6 527.4 552.6 530.7 551.5 532.9 553.6 531.8 559.1 529.6 563.4 527.4 566.6 524.2 567.7 520.9 568.8 517.7 566.6 516.6 564.5 517.7 561.2M636.3 440.0L636.8 444.3 636.8 449.7 635.2 453.0 632.0 452.4 628.7 450.3 626.0 451.4 628.7 454.6 633.1 457.3 634.1 461.6 632.0 464.9 629.8 468.1 626.6 471.4 623.3 472.5 619.0 472.5M619.0 464.9L622.2 468.1 624.4 472.5 625.5 476.8 629.8 479.0 627.6 480.0 624.4 477.9 621.1 474.6 619.0 472.5M619.0 506.0L623.3 504.9 625.5 508.2 624.4 511.4 621.1 512.0 619.0 510.4M619.0 522.3L620.1 526.6 619.0 528.8"/></g></g> <g id="patch_2"> <path d="M 264.23 277.2 C 290.48 277.2 315.66 266.76 334.22 248.20 C 352.79 229.63 363.22 204.45 363.22 178.2 C 363.22 151.94 352.79 126.76 334.22 108.19 C 315.66 89.63 290.48 79.2 264.23 79.2 C 237.97 79.2 212.79 89.63 194.23 108.19 C 175.67 126.76 165.24 151.94 165.24 178.2 C 165.24 204.45 175.67 229.63 194.23 248.20 C 212.79 266.76 237.97 277.2 264.23 277.2 L 264.23 277.2 z " clip-path="url(#p30380c0dd8)" style="fill: none"/> </g> <g id="line2d_1"> <path d="M 350.79 179.06 L 350.67 174.54 L 350.31 170.04 L 349.72 165.55 L 348.90 161.11 L 347.84 156.72 L 346.56 152.38 L 345.05 148.12 L 343.32 143.95 L 341.38 139.87 L 339.22 135.90 L 336.86 132.04 L 334.30 128.32 L 331.55 124.73 L 328.61 121.29 L 325.50 118.02 L 322.23 114.91 L 318.79 111.97 L 315.20 109.22 L 311.48 106.66 L 307.63 104.30 L 303.65 102.14 L 299.58 100.20 L 295.40 98.47 L 291.14 96.96 L 286.81 95.67 L 282.41 94.62 L 277.97 93.79 L 273.49 93.20 L 268.98 92.85 L 264.47 92.73 L 259.95 92.85 L 255.44 93.20 L 250.96 93.79 L 246.52 94.62 L 242.12 95.67 L 237.79 96.96 L 233.53 98.47 L 229.36 100.20 L 225.28 102.14 L 221.31 104.30 L 217.45 106.66 L 213.73 109.22 L 210.14 111.97 L 206.71 114.91 L 203.43 118.02 L 200.32 121.29 L 197.38 124.73 L 194.63 128.32 L 192.07 132.04 L 189.71 135.90 L 187.55 139.87 L 185.61 143.95 L 183.88 148.12 L 182.37 152.38 L 181.09 156.72 L 180.03 161.11 L 179.21 165.55 L 178.62 170.04 L 178.26 174.54 L 178.15 179.06 L 178.26 183.58 L 178.62 188.08 L 179.21 192.56 L 180.03 197.01 L 181.09 201.40 L 182.37 205.74 L 183.88 210.00 L 185.61 214.17 L 187.55 218.25 L 189.71 222.22 L 192.07 226.08 L 194.63 229.80 L 197.38 233.39 L 200.32 236.82 L 203.43 240.10 L 206.71 243.21 L 210.14 246.15 L 213.73 248.90 L 217.45 251.46 L 221.31 253.82 L 225.28 255.98 L 229.36 257.92 L 233.53 259.65 L 237.79 261.16 L 242.12 262.44 L 246.52 263.50 L 250.96 264.32 L 255.44 264.91 L 259.95 265.27 L 264.47 265.39 L 268.98 265.27 L 273.49 264.91 L 277.97 264.32 L 282.41 263.50 L 286.81 262.44 L 291.14 261.16 L 295.40 259.65 L 299.58 257.92 L 303.65 255.98 L 307.63 253.82 L 311.48 251.46 L 315.20 248.90 L 318.79 246.15 L 322.23 243.21 L 325.50 240.10 L 328.61 236.82 L 331.55 233.39 L 334.30 229.80 L 336.86 226.08 L 339.22 222.22 L 341.38 218.25 L 343.32 214.17 L 345.05 210.00 L 346.56 205.74 L 347.84 201.40 L 348.90 197.01 L 349.72 192.56 L 350.31 188.08 L 350.67 183.58 L 350.79 179.06 L 350.79 179.06 " clip-path="url(#p5b7d30ce52)" style="fill: none; stroke: #aaaaaa; stroke-width: 0.8; stroke-linecap: square"/> </g> <g id="line2d_2"> <path d="M 337.82 179.06 L 337.72 175.22 L 337.42 171.39 L 336.92 167.58 L 336.22 163.81 L 335.32 160.07 L 334.23 156.39 L 332.95 152.77 L 331.48 149.22 L 329.83 145.75 L 327.99 142.38 L 325.99 139.10 L 323.81 135.94 L 321.47 132.89 L 318.98 129.97 L 316.34 127.18 L 313.55 124.54 L 310.63 122.05 L 307.58 119.71 L 304.42 117.53 L 301.14 115.52 L 297.77 113.69 L 294.30 112.04 L 290.75 110.57 L 287.13 109.29 L 283.45 108.20 L 279.72 107.30 L 275.94 106.60 L 272.13 106.10 L 268.31 105.80 L 264.47 105.70 L 260.63 105.80 L 256.80 106.10 L 252.99 106.60 L 249.21 107.30 L 245.48 108.20 L 241.80 109.29 L 238.18 110.57 L 234.63 112.04 L 231.16 113.69 L 227.79 115.52 L 224.51 117.53 L 221.35 119.71 L 218.30 122.05 L 215.38 124.54 L 212.60 127.18 L 209.95 129.97 L 207.46 132.89 L 205.12 135.94 L 202.94 139.10 L 200.94 142.38 L 199.10 145.75 L 197.45 149.22 L 195.98 152.77 L 194.70 156.39 L 193.61 160.07 L 192.71 163.81 L 192.01 167.58 L 191.51 171.39 L 191.21 175.22 L 191.11 179.06 L 191.21 182.90 L 191.51 186.73 L 192.01 190.54 L 192.71 194.31 L 193.61 198.05 L 194.70 201.73 L 195.98 205.35 L 197.45 208.90 L 199.10 212.37 L 200.94 215.74 L 202.94 219.02 L 205.12 222.18 L 207.46 225.23 L 209.95 228.15 L 212.60 230.93 L 215.38 233.58 L 218.30 236.07 L 221.35 238.41 L 224.51 240.59 L 227.79 242.59 L 231.16 244.43 L 234.63 246.08 L 238.18 247.55 L 241.80 248.83 L 245.48 249.92 L 249.21 250.82 L 252.99 251.52 L 256.80 252.02 L 260.63 252.32 L 264.47 252.42 L 268.31 252.32 L 272.13 252.02 L 275.94 251.52 L 279.72 250.82 L 283.45 249.92 L 287.13 248.83 L 290.75 247.55 L 294.30 246.08 L 297.77 244.43 L 301.14 242.59 L 304.42 240.59 L 307.58 238.41 L 310.63 236.07 L 313.55 233.58 L 316.34 230.93 L 318.98 228.15 L 321.47 225.23 L 323.81 222.18 L 325.99 219.02 L 327.99 215.74 L 329.83 212.37 L 331.48 208.90 L 332.95 205.35 L 334.23 201.73 L 335.32 198.05 L 336.22 194.31 L 336.92 190.54 L 337.42 186.73 L 337.72 182.90 L 337.82 179.06 L 337.82 179.06 " clip-path="url(#p5b7d30ce52)" style="fill: none; stroke: #aaaaaa; stroke-width: 0.8; stroke-linecap: square"/> </g> <g id="line2d_3"> <path d="M 325.16 179.06 L 325.01 174.82 L 324.57 170.61 L 323.83 166.44 L 322.81 162.33 L 321.50 158.30 L 319.91 154.37 L 318.06 150.56 L 315.94 146.89 L 313.57 143.38 L 310.96 140.04 L 308.13 136.89 L 305.08 133.95 L 301.83 131.23 L 298.41 128.74 L 294.81 126.49 L 291.07 124.50 L 287.20 122.78 L 283.22 121.33 L 279.15 120.16 L 275.01 119.28 L 270.81 118.69 L 266.58 118.40 L 262.35 118.40 L 258.12 118.69 L 253.93 119.28 L 249.78 120.16 L 245.71 121.33 L 241.73 122.78 L 237.86 124.50 L 234.12 126.49 L 230.53 128.74 L 227.10 131.23 L 223.85 133.95 L 220.81 136.89 L 217.97 140.04 L 215.36 143.38 L 212.99 146.89 L 210.88 150.56 L 209.02 154.37 L 207.43 158.30 L 206.12 162.33 L 205.10 166.44 L 204.36 170.61 L 203.92 174.82 L 203.77 179.06 L 203.92 183.29 L 204.36 187.51 L 205.10 191.68 L 206.12 195.79 L 207.43 199.82 L 209.02 203.75 L 210.88 207.56 L 212.99 211.22 L 215.36 214.74 L 217.97 218.08 L 220.81 221.22 L 223.85 224.17 L 227.10 226.89 L 230.53 229.38 L 234.12 231.63 L 237.86 233.61 L 241.73 235.34 L 245.71 236.79 L 249.78 237.95 L 253.93 238.84 L 258.12 239.43 L 262.35 239.72 L 266.58 239.72 L 270.81 239.43 L 275.01 238.84 L 279.15 237.95 L 283.22 236.79 L 287.20 235.34 L 291.07 233.61 L 294.81 231.63 L 298.41 229.38 L 301.83 226.89 L 305.08 224.17 L 308.13 221.22 L 310.96 218.08 L 313.57 214.74 L 315.94 211.22 L 318.06 207.56 L 319.91 203.75 L 321.50 199.82 L 322.81 195.79 L 323.83 191.68 L 324.57 187.51 L 325.01 183.29 L 325.16 179.06 L 325.16 179.06 " clip-path="url(#p5b7d30ce52)" style="fill: none; stroke: #aaaaaa; stroke-width: 0.8; stroke-linecap: square"/> </g> <g id="line2d_4"> <path d="M 312.74 179.06 L 312.62 175.69 L 312.27 172.34 L 311.68 169.02 L 310.87 165.75 L 309.83 162.55 L 308.57 159.42 L 307.09 156.39 L 305.40 153.48 L 303.52 150.68 L 301.45 148.03 L 299.19 145.52 L 296.77 143.18 L 294.19 141.02 L 291.46 139.04 L 288.60 137.25 L 285.63 135.67 L 282.55 134.30 L 279.38 133.14 L 276.14 132.22 L 272.85 131.51 L 269.51 131.05 L 266.15 130.81 L 262.78 130.81 L 259.42 131.05 L 256.08 131.51 L 252.79 132.22 L 249.55 133.14 L 246.38 134.30 L 243.30 135.67 L 240.33 137.25 L 237.47 139.04 L 234.75 141.02 L 232.16 143.18 L 229.74 145.52 L 227.49 148.03 L 225.41 150.68 L 223.53 153.48 L 221.84 156.39 L 220.37 159.42 L 219.10 162.55 L 218.06 165.75 L 217.25 169.02 L 216.66 172.34 L 216.31 175.69 L 216.19 179.06 L 216.31 182.43 L 216.66 185.78 L 217.25 189.10 L 218.06 192.37 L 219.10 195.57 L 220.37 198.70 L 221.84 201.72 L 223.53 204.64 L 225.41 207.44 L 227.49 210.09 L 229.74 212.60 L 232.16 214.94 L 234.75 217.10 L 237.47 219.08 L 240.33 220.87 L 243.30 222.45 L 246.38 223.82 L 249.55 224.97 L 252.79 225.90 L 256.08 226.60 L 259.42 227.07 L 262.78 227.31 L 266.15 227.31 L 269.51 227.07 L 272.85 226.60 L 276.14 225.90 L 279.38 224.97 L 282.55 223.82 L 285.63 222.45 L 288.60 220.87 L 291.46 219.08 L 294.19 217.10 L 296.77 214.94 L 299.19 212.60 L 301.45 210.09 L 303.52 207.44 L 305.40 204.64 L 307.09 201.72 L 308.57 198.70 L 309.83 195.57 L 310.87 192.37 L 311.68 189.10 L 312.27 185.78 L 312.62 182.43 L 312.74 179.06 L 312.74 179.06 " clip-path="url(#p5b7d30ce52)" style="fill: none; stroke: #aaaaaa; stroke-width: 0.8; stroke-linecap: square"/> </g> <g id="line2d_5"> <path d="M 300.51 179.06 L 300.37 175.92 L 299.96 172.80 L 299.28 169.73 L 298.33 166.73 L 297.13 163.83 L 295.68 161.04 L 293.99 158.38 L 292.08 155.89 L 289.95 153.57 L 287.63 151.45 L 285.14 149.53 L 282.49 147.84 L 279.70 146.39 L 276.79 145.19 L 273.79 144.24 L 270.72 143.56 L 267.61 143.15 L 264.47 143.01 L 261.32 143.15 L 258.21 143.56 L 255.14 144.24 L 252.14 145.19 L 249.23 146.39 L 246.44 147.84 L 243.79 149.53 L 241.30 151.45 L 238.98 153.57 L 236.86 155.89 L 234.94 158.38 L 233.25 161.04 L 231.80 163.83 L 230.60 166.73 L 229.65 169.73 L 228.97 172.80 L 228.56 175.92 L 228.42 179.06 L 228.56 182.20 L 228.97 185.32 L 229.65 188.39 L 230.60 191.39 L 231.80 194.29 L 233.25 197.08 L 234.94 199.73 L 236.86 202.23 L 238.98 204.55 L 241.30 206.67 L 243.79 208.59 L 246.44 210.28 L 249.23 211.73 L 252.14 212.93 L 255.14 213.88 L 258.21 214.56 L 261.32 214.97 L 264.47 215.10 L 267.61 214.97 L 270.72 214.56 L 273.79 213.88 L 276.79 212.93 L 279.70 211.73 L 282.49 210.28 L 285.14 208.59 L 287.63 206.67 L 289.95 204.55 L 292.08 202.23 L 293.99 199.73 L 295.68 197.08 L 297.13 194.29 L 298.33 191.39 L 299.28 188.39 L 299.96 185.32 L 300.37 182.20 L 300.51 179.06 L 300.51 179.06 " clip-path="url(#p5b7d30ce52)" style="fill: none; stroke: #aaaaaa; stroke-width: 0.8; stroke-linecap: square"/> </g> <g id="line2d_6"> <path d="M 288.42 179.06 L 288.29 176.56 L 287.89 174.08 L 287.25 171.66 L 286.35 169.32 L 285.21 167.08 L 283.84 164.98 L 282.27 163.03 L 280.49 161.26 L 278.54 159.68 L 276.44 158.31 L 274.21 157.18 L 271.87 156.28 L 269.45 155.63 L 266.97 155.24 L 264.47 155.11 L 261.96 155.24 L 259.49 155.63 L 257.06 156.28 L 254.72 157.18 L 252.49 158.31 L 250.39 159.68 L 248.44 161.26 L 246.67 163.03 L 245.09 164.98 L 243.72 167.08 L 242.58 169.32 L 241.69 171.66 L 241.04 174.08 L 240.65 176.56 L 240.51 179.06 L 240.65 181.56 L 241.04 184.04 L 241.69 186.46 L 242.58 188.80 L 243.72 191.04 L 245.09 193.14 L 246.67 195.09 L 248.44 196.86 L 250.39 198.44 L 252.49 199.80 L 254.72 200.94 L 257.06 201.84 L 259.49 202.49 L 261.96 202.88 L 264.47 203.01 L 266.97 202.88 L 269.45 202.49 L 271.87 201.84 L 274.21 200.94 L 276.44 199.80 L 278.54 198.44 L 280.49 196.86 L 282.27 195.09 L 283.84 193.14 L 285.21 191.04 L 286.35 188.80 L 287.25 186.46 L 287.89 184.04 L 288.29 181.56 L 288.42 179.06 L 288.42 179.06 " clip-path="url(#p5b7d30ce52)" style="fill: none; stroke: #aaaaaa; stroke-width: 0.8; stroke-linecap: square"/> </g> <g id="line2d_7"> <path d="M 276.42 179.06 L 276.30 177.40 L 275.96 175.76 L 275.39 174.20 L 274.60 172.72 L 273.62 171.38 L 272.46 170.18 L 271.15 169.15 L 269.71 168.31 L 268.16 167.69 L 266.54 167.29 L 264.88 167.11 L 263.22 167.17 L 261.57 167.46 L 259.99 167.98 L 258.49 168.71 L 257.11 169.64 L 255.87 170.75 L 254.80 172.03 L 253.91 173.45 L 253.23 174.97 L 252.77 176.57 L 252.54 178.23 L 252.54 179.89 L 252.77 181.54 L 253.23 183.15 L 253.91 184.67 L 254.80 186.09 L 255.87 187.36 L 257.11 188.48 L 258.49 189.41 L 259.99 190.14 L 261.57 190.66 L 263.22 190.95 L 264.88 191.01 L 266.54 190.83 L 268.16 190.43 L 269.71 189.80 L 271.15 188.97 L 272.46 187.94 L 273.62 186.74 L 274.60 185.39 L 275.39 183.92 L 275.96 182.35 L 276.30 180.72 L 276.42 179.06 L 276.42 179.06 " clip-path="url(#p5b7d30ce52)" style="fill: none; stroke: #aaaaaa; stroke-width: 0.8; stroke-linecap: square"/> </g> <g id="line2d_8"> <path d="M 264.47 179.83 L 264.47 283.01 " clip-path="url(#p5b7d30ce52)" style="fill: none; stroke: #aaaaaa; stroke-width: 0.8"/> </g> <g id="line2d_9"> <path d="M 265.13 179.44 L 354.48 231.03 " clip-path="url(#p5b7d30ce52)" style="fill: none; stroke: #aaaaaa; stroke-width: 0.8"/> </g> <g id="line2d_10"> <path d="M 265.13 178.68 L 354.48 127.08 " clip-path="url(#p5b7d30ce52)" style="fill: none; stroke: #aaaaaa; stroke-width: 0.8"/> </g> <g id="line2d_11"> <path d="M 264.47 178.29 L 264.47 75.11 " clip-path="url(#p5b7d30ce52)" style="fill: none; stroke: #aaaaaa; stroke-width: 0.8"/> </g> <g id="line2d_12"> <path d="M 263.80 178.68 L 174.45 127.08 " clip-path="url(#p5b7d30ce52)" style="fill: none; stroke: #aaaaaa; stroke-width: 0.8"/> </g> <g id="line2d_13"> <path d="M 263.80 179.44 L 174.45 231.03 " clip-path="url(#p5b7d30ce52)" style="fill: none; stroke: #aaaaaa; stroke-width: 0.8"/> </g> <g id="line2d_14"> <path d="M 363.22 178.2 L 363.08 173.01 L 362.67 167.85 L 362.00 162.71 L 361.05 157.61 L 359.84 152.57 L 358.37 147.60 L 356.64 142.72 L 354.66 137.93 L 352.43 133.25 L 349.95 128.7 L 347.25 124.28 L 344.31 120.00 L 341.16 115.89 L 337.79 111.95 L 334.22 108.19 L 330.46 104.62 L 326.52 101.26 L 322.41 98.10 L 318.14 95.17 L 313.72 92.46 L 309.17 89.99 L 304.49 87.75 L 299.70 85.77 L 294.82 84.04 L 289.85 82.57 L 284.81 81.36 L 279.71 80.41 L 274.57 79.74 L 269.41 79.33 L 264.23 79.2 L 259.05 79.33 L 253.88 79.74 L 248.74 80.41 L 243.64 81.36 L 238.61 82.57 L 233.64 84.04 L 228.75 85.77 L 223.96 87.75 L 219.29 89.99 L 214.73 92.46 L 210.31 95.17 L 206.04 98.10 L 201.93 101.26 L 197.99 104.62 L 194.23 108.19 L 190.66 111.95 L 187.30 115.89 L 184.14 120.00 L 181.21 124.28 L 178.50 128.7 L 176.02 133.25 L 173.79 137.93 L 171.81 142.72 L 170.08 147.60 L 168.61 152.57 L 167.40 157.61 L 166.45 162.71 L 165.78 167.85 L 165.37 173.01 L 165.24 178.2 L 165.37 183.38 L 165.78 188.54 L 166.45 193.68 L 167.40 198.78 L 168.61 203.82 L 170.08 208.79 L 171.81 213.67 L 173.79 218.46 L 176.02 223.14 L 178.50 227.7 L 181.21 232.11 L 184.14 236.39 L 187.30 240.50 L 190.66 244.44 L 194.23 248.20 L 197.99 251.77 L 201.93 255.13 L 206.04 258.29 L 210.31 261.22 L 214.73 263.93 L 219.29 266.40 L 223.96 268.64 L 228.75 270.62 L 233.64 272.35 L 238.61 273.82 L 243.64 275.03 L 248.74 275.98 L 253.88 276.65 L 259.05 277.06 L 264.23 277.2 L 269.41 277.06 L 274.57 276.65 L 279.71 275.98 L 284.81 275.03 L 289.85 273.82 L 294.82 272.35 L 299.70 270.62 L 304.49 268.64 L 309.17 266.40 L 313.72 263.93 L 318.14 261.22 L 322.41 258.29 L 326.52 255.13 L 330.46 251.77 L 334.22 248.20 L 337.79 244.44 L 341.16 240.50 L 344.31 236.39 L 347.25 232.11 L 349.95 227.7 L 352.43 223.14 L 354.66 218.46 L 356.64 213.67 L 358.37 208.79 L 359.84 203.82 L 361.05 198.78 L 362.00 193.68 L 362.67 188.54 L 363.08 183.38 L 363.22 178.2 L 363.22 178.2 " clip-path="url(#p30380c0dd8)" style="fill: none; stroke: #000000; stroke-linecap: square"/> </g> <g id="patch_3"> <path d="M 264.47 179.68 C 264.63 179.68 264.79 179.62 264.91 179.50 C 265.02 179.38 265.09 179.22 265.09 179.06 C 265.09 178.89 265.02 178.73 264.91 178.62 C 264.79 178.50 264.63 178.44 264.47 178.44 C 264.30 178.44 264.14 178.50 264.02 178.62 C 263.91 178.73 263.84 178.89 263.84 179.06 C 263.84 179.22 263.91 179.38 264.02 179.50 C 264.14 179.62 264.30 179.68 264.47 179.68 z " clip-path="url(#p30380c0dd8)" style="fill: #ffffff"/> </g> <g id="text_1"> <text style="font-size: 9px; font-family: 'DejaVu Sans', 'Liberation Sans', sans-serif; text-anchor: start" x="165.24" y="73.2" transform="rotate(-0 165.24 73.2)">ls4p-custom8_GWDxTOFD-mem1</text> </g> <g id="text_2"> <text style="font-size: 9px; font-family: 'DejaVu Sans', 'Liberation Sans', sans-serif; text-anchor: end" x="363.22" y="73.2" transform="rotate(-0 363.22 73.2)">mm/day</text> </g> </g> <g id="axes_2"> <g id="patch_4"> <path d="M 379.44 242.71 L 399.39 242.71 L 399.39 113.68 L 379.44 113.68 z " style="fill: #ffffff; stroke: #ffffff; stroke-width: 0.6"/> </g> <g id="patch_5"> <path d="M 379.44 242.71 L 389.41 249.16 L 399.39 242.71 z" style="fill: #ffffff; stroke: #ffffff; stroke-width: 0.6"/> </g> <g id="patch_6"> <path d="M 379.44 113.68 L 389.41 107.23 L 399.39 113.68 z" style="fill: #8e151a; stroke: #8e151a; stroke-width: 0.6"/> </g> <g id="QuadMesh_1"> <path d="M 379.44 242.71 L 399.39 242.71 L 399.39 229.80 L 379.44 229.80 L 379.44 242.71 " clip-path="url(#p6d5c730205)" style="fill: #ffffff; stroke: #ffffff; stroke-width: 0.6"/> <path d="M 379.44 229.80 L 399.39 229.80 L 399.39 216.90 L 379.44 216.90 L 379.44 229.80 " clip-path="url(#p6d5c730205)" style="fill: #b4e3f8; stroke: #b4e3f8; stroke-width: 0.6"/> <path d="M 379.44 216.90 L 399.39 216.90 L 399.39 204.00 L 379.44 204.00 L 379.44 216.90 " clip-path="url(#p6d5c730205)" style="fill: #6caede; stroke: #6caede; stroke-width: 0.6"/> <path d="M 379.44 204.00 L 399.39 204.00 L 399.39 191.10 L 379.44 191.10 L 379.44 204.00 " clip-path="url(#p6d5c730205)" style="fill: #48999b; stroke: #48999b; stroke-width: 0.6"/> <path d="M 379.44 191.10 L 399.39 191.10 L 399.39 178.2 L 379.44 178.2 L 379.44 191.10 " clip-path="url(#p6d5c730205)" style="fill: #5dbb48; stroke: #5dbb48; stroke-width: 0.6"/> <path d="M 379.44 178.2 L 399.39 178.2 L 399.39 165.29 L 379.44 165.29 L 379.44 178.2 " clip-path="url(#p6d5c730205)" style="fill: #dedf58; stroke: #dedf58; stroke-width: 0.6"/> <path d="M 379.44 165.29 L 399.39 165.29 L 399.39 152.39 L 379.44 152.39 L 379.44 165.29 " clip-path="url(#p6d5c730205)" style="fill: #f5973d; stroke: #f5973d; stroke-width: 0.6"/> <path d="M 379.44 152.39 L 399.39 152.39 L 399.39 139.49 L 379.44 139.49 L 379.44 152.39 " clip-path="url(#p6d5c730205)" style="fill: #e94d29; stroke: #e94d29; stroke-width: 0.6"/> <path d="M 379.44 139.49 L 399.39 139.49 L 399.39 126.59 L 379.44 126.59 L 379.44 139.49 " clip-path="url(#p6d5c730205)" style="fill: #c91e25; stroke: #c91e25; stroke-width: 0.6"/> <path d="M 379.44 126.59 L 399.39 126.59 L 399.39 113.68 L 379.44 113.68 L 379.44 126.59 " clip-path="url(#p6d5c730205)" style="fill: #8e151a; stroke: #8e151a; stroke-width: 0.6"/> </g> <g id="matplotlib.axis_1"/> <g id="matplotlib.axis_2"> <g id="ytick_1"> <g id="line2d_15"/> <g id="text_3"> <text style="font-size: 9px; font-family: 'DejaVu Sans', 'Liberation Sans', sans-serif; text-anchor: end" x="424.39" y="233.22" transform="rotate(-0 424.39 233.22)"> 0.5</text> </g> </g> <g id="ytick_2"> <g id="line2d_16"/> <g id="text_4"> <text style="font-size: 9px; font-family: 'DejaVu Sans', 'Liberation Sans', sans-serif; text-anchor: end" x="424.39" y="220.32" transform="rotate(-0 424.39 220.32)"> 1.0</text> </g> </g> <g id="ytick_3"> <g id="line2d_17"/> <g id="text_5"> <text style="font-size: 9px; font-family: 'DejaVu Sans', 'Liberation Sans', sans-serif; text-anchor: end" x="424.39" y="207.42" transform="rotate(-0 424.39 207.42)"> 1.5</text> </g> </g> <g id="ytick_4"> <g id="line2d_18"/> <g id="text_6"> <text style="font-size: 9px; font-family: 'DejaVu Sans', 'Liberation Sans', sans-serif; text-anchor: end" x="424.39" y="194.52" transform="rotate(-0 424.39 194.52)"> 2.0</text> </g> </g> <g id="ytick_5"> <g id="line2d_19"/> <g id="text_7"> <text style="font-size: 9px; font-family: 'DejaVu Sans', 'Liberation Sans', sans-serif; text-anchor: end" x="424.39" y="181.61" transform="rotate(-0 424.39 181.61)"> 3.0</text> </g> </g> <g id="ytick_6"> <g id="line2d_20"/> <g id="text_8"> <text style="font-size: 9px; font-family: 'DejaVu Sans', 'Liberation Sans', sans-serif; text-anchor: end" x="424.39" y="168.71" transform="rotate(-0 424.39 168.71)"> 4.0</text> </g> </g> <g id="ytick_7"> <g id="line2d_21"/> <g id="text_9"> <text style="font-size: 9px; font-family: 'DejaVu Sans', 'Liberation Sans', sans-serif; text-anchor: end" x="424.39" y="155.81" transform="rotate(-0 424.39 155.81)"> 5.0</text> </g> </g> <g id="ytick_8"> <g id="line2d_22"/> <g id="text_10"> <text style="font-size: 9px; font-family: 'DejaVu Sans', 'Liberation Sans', sans-serif; text-anchor: end" x="424.39" y="142.91" transform="rotate(-0 424.39 142.91)"> 7.5</text> </g> </g> <g id="ytick_9"> <g id="line2d_23"/> <g id="text_11"> <text style="font-size: 9px; font-family: 'DejaVu Sans', 'Liberation Sans', sans-serif; text-anchor: end" x="424.39" y="130.00" transform="rotate(-0 424.39 130.00)">10.0</text> </g> </g> <g id="ytick_10"> <g id="line2d_24"> <defs> <path id="m7389b9bb77" d="M 0 0 L 2 0 " style="stroke: #000000; stroke-width: 0.6"/> </defs> <g> <use href="#m7389b9bb77" x="399.39" y="242.71" style="stroke: #000000; stroke-width: 0.6"/> </g> </g> </g> <g id="ytick_11"> <g id="line2d_25"> <g> <use href="#m7389b9bb77" x="399.39" y="113.68" style="stroke: #000000; stroke-width: 0.6"/> </g> </g> </g> </g> <g id="LineCollection_1"/> <g id="patch_7"> <path d="M 379.44 242.71 L 389.41 249.16 L 399.39 242.71 L 399.39 113.68 L 389.41 107.23 L 379.44 113.68 L 379.44 242.71 z " style="fill: none; stroke: #000000; stroke-width: 0.8; stroke-linejoin: miter; stroke-linecap: square"/> </g> </g> <g id="axes_3"> <defs><clipPath id="clipF1"><circle cx="550.48" cy="866.25" r="206.23"/></clipPath></defs><g transform="scale(0.48)"><g clip-path="url(#clipF1)"> <rect x="342.2" y="658.0" width="416.5" height="416.5" fill="#FFFFFF"/> <path fill="#B4E3F8" d="M346.5 661l409.5 0l0 410.5l-411 0l0-410.5l1.5 0zM514.5 911l-4 4.5l-4 14l-6.5 8l-1 3l2.5 3l10.5 3l4-1.5l6-7.5l6.5-5l2.5-3l0.5-3l0-9.5l-3-4.5l-5.5-2.5l-8.5 1z"/> <path fill="#6CAEDE" d="M346.5 661l409.5 0l0 410.5l-411 0l0-410.5l1.5 0zM535 775l-6 7.5l-4.5 3l-25 6.5l-6 6.5l-10 4.5l-10.5 9.5l-2 4.5l1.5 3l7.5 6.5l1.5 7.5l-8.5 3l-2 2l-1.5 3l0 20.5l2 5.5l5 3l3-1.5l1.5-2.5l0.5-4.5l0-26.5l1-1l4.5 0.5l4 2l2.5 3l1 12.5l1.5 3l8 6.5l5 7l7 5.5l2.5 3l0.5 6l-8.5 3l-3 3.5l-1 12.5l-3.5 14l-2.5 4.5l-7 9.5l-2 8l1.5 4.5l3.5 4l15.5 11l5 1.5l6 0l5-1.5l6-8l3-2l12.5-1.5l4-2l5.5-7l8.5-7l1.5-3l1-12.5l2-3l7.5-5.5l2-5.5l0-20.5l-1.5-4.5l-2-2.5l-3.5-1l-12.5-1.5l-3-2l-1.5-2.5l-1-6l1-8l2-3l6.5-5l2-4.5l-2-3l-6.5-5l-2-3l-1-25l-2-4l-7.5-5.5l-2-3l-1.5-14l-3-3.5l-3.5-0.5l-2 1zM474.5 889l-1.5 3l-2.5 11l0.5 3l2 1.5l1.5-0.5l2-3.5l1-10l-1-4.5l-2 0zM520 885l6.5 1l3 2.5l1 3.5l-2 3l-4 1l-3-1.5l-2-4l0-4.5l0.5-1z"/> <path fill="#48999B" d="M346.5 661l409.5 0l0 240.5l-8-0.5l-9.5-2l-3 0.5l-2 2l-1.5 4.5l-1 23.5l-2 3l-6.5 6.5l-1.5 3l2 15.5l0 9.5l-1.5 8l-3.5 6l-17 17.5l-2 6l2 4.5l8 10.5l7.5 5.5l5 7l7.5 5.5l5.5 7.5l7.5 5.5l4.5 6.5l3.5 2l6 1l0 11.5l-411 0l0-410.5l1.5 0zM525 711l-2.5 1.5l-2.5 3l-1 25l-1.5 3l-4.5 6.5l-1.5 3l0.5 3.5l5.5 7.5l1.5 3l0 8l-1 3l-9 7l-14 4.5l-6 3.5l-3.5 0.5l-9-3.5l-3.5 1l-3 2.5l-2 11l-6 8l-5 18.5l0 33l2 5.5l8 7.5l1 4l-2.5 11l-4 8l-3.5 14l-2.5 4.5l-8 8l-1.5 3l2 4l17.5 13.5l18.5 0.5l5 2l9.5 8l10.5 12l8 5.5l6 6l6 6.5l5 7l5 1.5l3-1.5l4.5-6.5l3-2l12.5-1.5l9.5-3l3-2l2-3.5l2-15l3.5-8l14.5-15l7-5.5l2.5-3l0.5-11l-3-9.5l-0.5-6l3.5-14l0-6.5l-3.5-14l-0.5-11l1-7.5l3-11l0-6.5l-1.5-6l-8-6.5l-2-3l-1.5-25l-9.5-10l-4.5-6.5l-5-2.5l-12.5-1.5l-9.5-6l-13.5-5l-4.5-3l-2-3l-1-9.5l2-6l5.5-5l9.5-3l3-2l3.5-10.5l0-4.5l-2-2.5l-5-1.5l-18.5 0l-4.5 1zM609.5 715.5l-2.5 3l0 6.5l1 3l4 2l6-2l10-7l1.5-2.5l0-1.5l-1-1.5l-4-1l-9-0.5l-6 1.5zM450 887.5l-2 1.5l0 2l1.5 1l4 0l1.5-1.5l-0.5-2l-1.5-1.5l-3 0.5zM489 887l3 1l3.5 5.5l2 8l0 6l-2 6.5l-3.5 4.5l-5 3l-4.5 1l-0.5-1l-1-10.5l0.5-9.5l4-12l3.5-2.5zM476.5 923l4.5-0.5l0.5 4l-2 5.5l-1.5 1l-3.5 0.5l-3.5-2.5l-0.5-3l2-3l4-2z"/> <path fill="#5DBB48" d="M346.5 661l275 0l0 4.5l1.5 3l6.5 4l3 3.5l1.5 6.5l-0.5 20.5l-2.5 3.5l-4.5 2l-14.5 0l-4.5-2l-2-2l-1-8l1-7.5l2.5-3l7.5-6.5l-0.5-3l-4.5-1.5l-7.5 0l-3.5 1l-6 8l-4.5 2.5l-3.5-0.5l-2.5-2l-5-7l-3.5-2l-23 0l-3.5 2l-5 7l-7.5 5.5l-4.5 7l-2.5 2l-5.5 1l-18.5 0.5l-3 1l-1 2l0.5 3l6 6.5l1.5 4.5l0 22l-2.5 15.5l5 19l-1 6l-4 4l-6.5 2l-10.5 1l-11-2l-5 1l-9 4.5l-6.5 9.5l-8 5l0 1.5l4.5 6.5l0.5 4.5l-1.5 4.5l-6 8l-1 47l-2 4.5l-3 3l-2 1.5l-3.5 0.5l-4-3.5l-1.5-4.5l-1-11l-2-3l-2.5-1.5l-22 0l-4.5 2l-1.5 4l0.5 22l2 3l7 5l4.5 6.5l3.5 1l7.5-8.5l6.5-2l11 0.5l10.5 3l4 2.5l1 3l-2 4.5l-17.5 19l-1 9.5l1.5 5l3.5 2l7.5-1.5l5 0.5l4.5 2.5l5 5.5l3 1.5l15.5 2l6 1.5l4.5 2.5l4 5l1 3l-1.5 4.5l-7.5 6.5l-5.5 6l-6 5l-2.5 3l-0.5 8l1.5 5l1.5 1l3.5-1l4.5-6.5l7-5l5.5-7.5l3-2l11-3.5l5 0.5l3 1.5l4.5 5l2 6l-2 5l-3 2.5l-5 2l-1.5 1.5l0 1.5l6.5 5l4 6l2 2l14.5-1l6 2.5l2.5 3l1 3l1 12.5l1.5 4.5l5 5l5.5 7.5l2.5 1.5l4.5 0.5l4.5-0.5l3.5-1l1-3.5l-8.5-8l-1.5-4.5l-1.5-11l-10.5-11l-1-9.5l1-7.5l4-5l17-12.5l2.5-4.5l5.5-17l3.5-5l10-10l8-4l18.5-1.5l4-1.5l1-3l1-11l2.5-3l6-4.5l2.5-3.5l0.5-9.5l-2.5-4.5l-6.5-5l-2.5-3l-1-12.5l-1.5-4l-3.5-2l-10.5-1l-3.5-2.5l-2-6l0-11l2-6l5-3l9-0.5l3.5-2l1-2.5l0.5-22l-5-16.5l-3-2l-7.5-0.5l-5-2l-14.5-16.5l-2-4.5l-0.5-19l-1.5-5l-1.5-1l-3.5 1l-4.5 6.5l-4.5 3l-8 2l-6.5 0l-14-6.5l-4-3l-2-4.5l1-8l2.5-3l10-6.5l5-9l8.5-11l2.5-2.5l5-2l10.5 0l6 3l3 4.5l1.5 14l3 3l5.5 2.5l6 0.5l16-5.5l11 0l12.5 2l11.5-2.5l3.5-3l0.5-8l-2.5-4.5l-6.5-5l-2.5-3l-1-6l0.5-9.5l2.5-4.5l8-5.5l5-7l7.5-5.5l1-2.5l0.5-4.5l76.5 0l0 235.5l-6.5-0.5l-12.5-6l-7.5-1.5l-5 0l-2 2l-1 4.5l-0.5 31.5l-1 3l-6.5 7.5l-1 3.5l0.5 3l4.5 11l0 12.5l-4 6.5l-16.5 17l-2 4.5l-3 12.5l-6.5 8l1 3l7 5l4.5 7l7.5 5.5l5 7l7.5 5.5l5 7l8 5.5l2.5 4.5l0.5 6l-389 0l0-410.5l1.5 0zM455 725l-5 1.5l0 1.5l1.5 1l7 0.5l3.5-1.5l-1.5-2.5l-5.5-0.5zM609.5 1018.5l0 8l1 3l1.5 0l1.5-3l0-6.5l-1.5-3l-1.5 0l-1 1.5zM612 897.5l2-0.5l3 0.5l2.5 2.5l1 3l-1 4.5l-4 3l-3.5-0.5l-3-5l0.5-3.5l2.5-4zM487 899l2-0.5l1.5 1l1.5 3.5l-0.5 3l-2.5 3l-2 0l-1.5-3l0-4l1.5-3z"/> <path fill="#DEDF58" d="M732.5 661l23.5 0l0 40l-5 0.5l-2 1.5l-4 6l-8.5 6.5l-5.5 7.5l-7 5l-5.5 7.5l-8.5 5l-1 3l1.5 2l3 1.5l8 0.5l4.5-1l3.5-2l5-7l7.5-5.5l5-7l4-2l5-0.5l0 37.5l-26.5 0l-4.5 1l-2.5 1.5l-2.5 3l-1 6l0.5 6.5l3.5 14l1.5 3l5.5 6.5l1.5 7.5l4 1l12.5-3l8-0.5l0 41l-5 1.5l-2 4l0.5 1.5l1.5 1.5l5 0.5l0 33.5l-6.5-0.5l-6-2.5l-10-7.5l-1.5-3l-0.5-9.5l-4-17l-1-11l0.5-12.5l4-12.5l0-4l-22 3.5l-11-0.5l-12.5-3l-3.5 1l1.5 7.5l7.5 6.5l2 3l-2 4.5l-7.5 6.5l0 4.5l2 2.5l3 1l9.5 0.5l5 1.5l3 4l0.5 6l0 41l-0.5 4.5l-2.5 3l-7 5.5l-5 7l-6.5 5l-1.5 3l1 3l4 3.5l9.5 0.5l4 2.5l2 4.5l1.5 12.5l-1 2.5l-3.5 2l-12.5 1.5l-3 1l-2 2.5l-1.5 3l-1 12.5l-2.5 3l-7 5.5l-2 4l-1 25l-2.5 3l-7 5.5l-5 7l-8 6.5l0 4.5l7.5 6.5l2.5 3l0.5 18.5l-25 0l0-26.5l-0.5-4.5l-8-9.5l-1-14l-1.5-4.5l-3-3.5l-5.5-3l-2-3l-3-12.5l-1-12.5l-1.5-2.5l-3-2l-6.5-1l-0.5-4l2.5-4.5l12-11.5l5-2l7.5 0l6 1l2.5 3l-1.5 3l-7.5 6.5l-0.5 3l2 3l4 2l6 0.5l4.5-0.5l4-2l2.5-3l0.5-3l0.5-31.5l1-4.5l9-8.5l4.5-6.5l7.5-5.5l5-7l7-5.5l2.5-3l0.5-4.5l0-8l-1.5-3l-2-2.5l-5-1.5l-21.5-0.5l-5-2.5l-2-4l0-9.5l2-5.5l5-2.5l12.5-1.5l2-1.5l2-3l-0.5-3l-3.5-3l-12.5-1.5l-3.5-1l-2.5-4l0.5-3l8-6.5l5-7l3-2l19-1l0.5-1l-1.5-7.5l-8-6.5l-2.5-4.5l-0.5-33l-0.5-4.5l-1.5-2.5l-3-2l-6.5-1l-0.5-1l0.5-3l1.5-3l2.5-1.5l10-3l3-2l3.5-12.5l3-5.5l3-3.5l8-5.5l5-7l7.5-5.5l5-7l7.5-5.5l5-7l7.5-5.5l2-4l0-4.5l1 0zM346.5 681.5l5 0.5l4.5 2.5l6 8.5l8 5.5l4.5 7l8 5.5l4.5 7l8 5.5l4.5 9l5 2.5l29.5 0l15.5 2.5l12.5-0.5l6.5-4l6-9.5l5.5-5l1.5-4.5l0.5-9.5l2-4l3-1.5l2 0.5l2.5 5l2.5 12.5l0.5 11l2.5 12.5l-1 8l-2.5 6.5l-15.5 16l-8 1.5l-3.5 7l-7.5 6.5l-7 7.5l-5.5 3.5l-7.5 3l-3.5-0.5l-11-4l-18 3l-1.5 7.5l-8 6.5l-2 3l-1 12.5l-2 4l-5 2.5l-12 1.5l-4 3l0 1.5l1 3l7 6.5l2 3l0.5 4.5l0 8l-2 4l-7.5 7l-2 3l-1 11l-1.5 3l-7.5 6.5l-1.5 3l1 3l4.5 3.5l23 1l3.5 1l2 2.5l1.5 3l1 11l2 3l7.5 7l2 4l0.5 47l1.5 4.5l3.5 3l6.5 1l0.5-1l0.5-15.5l1.5-4.5l8.5-7l5-7l4.5-5l7.5-5.5l5-0.5l9 5l16 3l6 4.5l1 3l-2.5 4.5l-19 13.5l-14 4l-9.5 7.5l-18.5 1l-0.5 1l0 15.5l2 5.5l5 2.5l12.5 1.5l3 2l1.5 2.5l0.5 4.5l0 39l-99 0l0-261.5l29.5-0.5l4-2l2-3l-0.5-3l-3.5-3l-14.5-2l-9-7l-8-1l0-107l1.5 0zM452.5 765.5l-6 1.5l4 1.5l13.5 3.5l4.5 0.5l0.5-1l-1-4.5l-4-2.5l-11.5 1zM399 789l-2.5 3l1 3l4 2l4.5 0.5l0-4l-2-3l-2.5-2l-2.5 0.5zM574.5 724.5l3.5 0l2.5 3.5l-0.5 3l-3.5 2.5l-4-1l-1.5-3l1-3l2.5-2zM624.5 738.5l8-0.5l7 1l3.5 3l1 4.5l-0.5 1l-23.5 0l-0.5-2.5l1-3l4-3.5zM614 748l4.5-0.5l1 1l1.5 6l2 2.5l3.5 1.5l15.5-3l1.5-2.5l0.5-4.5l1-1l11 0l0.5 1l-1.5 7.5l-5.5 5l-1.5 2.5l-3.5 20.5l8.5 3l2 2l0.5 3l-2 3l-4 3.5l-3.5 9l-4 4l-5 0.5l-3-2.5l-1.5-3.5l-0.5-4.5l2-5l9-4.5l1-6l-0.5-1l-29.5-0.5l-5-3.5l-3-4.5l-2-9.5l1-9.5l4-7l5-2.5zM560.5 749.5l3.5-0.5l2 1l1 1.5l-0.5 3l-2.5 1.5l-4-1.5l-1-3l1.5-2zM498 775l1.5-0.5l2 1.5l0 2l-2 1l-2.5-1l0-1.5l1-1.5zM590.5 973.5l3.5 0l3 17l-2 14l-1 23.5l-3 4.5l-4 1l-3-1.5l-4-4l-8-4.5l-3.5-3.5l-2-4.5l-0.5-8l1-4.5l1.5-3l9.5-8l9-16.5l3.5-2zM510.5 990.5l2.5 0l0.5 1.5l-3 0.5l0-2zM534 1028l3-1.5l2 0.5l1.5 2.5l2.5 25l-2 3l-7.5 6.5l-1.5 3l-0.5 4.5l-12.5 0l1-18.5l2-3l8-6.5l1.5-3l0.5-9.5l2-3z"/> <path fill="#F5973D" d="M751 673l5-0.5l0 21.5l-6.5 0.5l-4.5 2.5l-5.5 7.5l-7 5l-5.5 7.5l-7 5l-6.5 8.5l-10.5 3.5l-6.5 6.5l-0.5 3l3 11l10 15.5l3 11l3.5 9.5l2.5 11l-1.5 3l-4.5 2l-9 0l-5-1l-5-4l-4.5-13l-7.5-10.5l-3-8l0-17l3-12.5l-0.5-11l1.5-4.5l3.5-4.5l3-1.5l11 2l4-1l6-7.5l7.5-5.5l5-7l7.5-5.5l5-7l7.5-5.5l4.5-6.5l4.5-2.5zM346.5 688.5l3 0.5l2.5 1.5l4 6l8 5.5l6 8.5l7 5l5.5 7.5l6.5 4l1.5 2.5l3 9.5l4.5 3.5l6.5 1l45 0l14.5 2.5l3-1.5l9.5-8.5l6-1l3 0.5l3.5 2l1 3l-0.5 3l-10.5 12.5l-4.5 2.5l-10.5-1l-12.5 3.5l-14.5 0.5l-12.5 3l-9 0.5l-12.5-0.5l-16-3l-9 0l-5 1l-4.5 3l0 2.5l1.5 1.5l4.5 1.5l17.5 1l3 1.5l2.5 3l0 3l-2.5 4l-3 3l-5 2.5l-15.5-0.5l-14-5.5l-12.5-1.5l0-93l1.5 0zM612 763.5l2-0.5l1.5 0.5l1.5 2l0 3l-1.5 1.5l-1.5 0.5l-2-2l-0.5-3l0.5-2zM635.5 765.5l2.5 0l1 1.5l0 2l-2 1l-1.5 0l-1.5-1.5l0-1.5l1.5-1.5zM412 768l3.5 0l11 3.5l10.5 0l6.5 1l8.5 4l2 3l-7 9.5l-8 4.5l-5-1l-9.5-6l-7.5 2l-5-0.5l-5.5-4l-3.5-6l0.5-3l2-3.5l6.5-3.5zM751 813.5l5 0l0 21.5l-3 0.5l-2.5 2l-10 18.5l-2 1.5l-3-2.5l-4-10l-1-11l1-7.5l2.5-5l3-2.5l14-5.5zM346.5 847.5l14 0l6 4l2.5 4.5l0 6.5l-0.5 3l-3 4.5l-5 2.5l-15.5 0l0-25l1.5 0zM748 863.5l8-0.5l0 23.5l-5-0.5l-4.5-1.5l-4-3.5l-1.5-3l0-4.5l2.5-6.5l1.5-2l3-1.5zM346.5 910l5 1.5l8.5 5.5l13 4l6 4l5 7l6.5 5.5l3 4.5l0.5 19l0 4.5l-1.5 3l-8 6.5l-2 3l-1 12.5l-2 4l-8 6l-5 7l-7.5 5.5l-5.5 7l-4 2l-4.5 0.5l0-112.5l1.5 0zM673 937l3.5 0l3 3.5l0 3l-1.5 2l-3.5 0.5l-3.5-2.5l-0.5-3l2.5-3.5zM448 957.5l5 0l17 4.5l4.5 2l2 3l-2.5 3l-7 4.5l-14 6l-5 0.5l-3-1.5l-2.5-3l-2-8l2-6l5.5-5zM587 989.5l2 0l1.5 3.5l-1.5 13.5l-8 10l-4.5 1.5l-2-1l-1.5-3l0-9.5l3-3l6.5-5l4.5-7z"/> <path fill="#E94D29" d="M346.5 707l5 0.5l4.5 2.5l4.5 7l8 5.5l4.5 7l8 5.5l4.5 7l5 3.5l12.5 2.5l46.5 0.5l6.5 3l1 1.5l-1 1.5l-3 2l-5 1l-28 2l-42-1.5l-6.5 0.5l-11 4l-15.5 0.5l0-56l1.5 0zM688.5 724.5l5 1.5l1.5 3.5l-3 4.5l-3.5 1.5l-3-2l-0.5-4l1-3l2.5-2zM685.5 748l3-1l3.5 3l5.5 17l5.5 5.5l2.5 5.5l3 14l-1 3.5l-3 3l-5 0l-3-3.5l-5.5-17l-5.5-5.5l-2-4l-1-4.5l0-9.5l3-6.5zM376.5 775l12.5 0.5l2.5 2.5l0.5 1.5l-1.5 2.5l-3.5 2l-12.5 0l-5-3l-1-3l3-2.5l5-0.5zM412 774.5l3.5 0l3.5 2l0.5 3l-0.5 1.5l-5 2l-3.5-1l-1.5-4l3-3.5zM434 776l3-0.5l5 1l2 1.5l0.5 3l-4 4.5l-5 0l-3-3l-1.5-3l0.5-1.5l2.5-2zM738.5 824l5 1l1.5 1.5l1 3l-3 12.5l-4.5 5l-1.5 0l-2-3.5l-1-7.5l1-8l3.5-4zM753 870l3 0l0 13l-6.5-1l-3.5-4l2-5.5l5-2.5zM346.5 920l19 4l4.5 3.5l0.5 3.5l-2 4l-8 5.5l-5.5 8l-3.5 1.5l-6.5 0.5l0-30.5l1.5 0zM449.5 962l3.5-0.5l11 2l4 2l0.5 1.5l-1 1.5l-3.5 2.5l-12.5 3l-3.5-1.5l-2-4l0.5-3l3-3.5z"/> </g><g clip-path="url(#clipF1)"><path fill="none" stroke="#000" stroke-width="0.7" stroke-linejoin="round" d="M382.9 747.7L386.7 744.4 390.5 740.6 391.6 741.9 387.8 745.7 385.1 746.6M385.1 746.0L391.6 745.0 398.1 748.2 401.3 746.6 408.9 748.2 413.3 749.8 419.7 749.8 426.2 751.5 433.8 754.2 438.1 750.9 441.4 748.8 447.9 748.2 454.4 747.7 460.9 745.5 466.3 743.9 470.6 743.3 472.2 740.1 473.9 733.6 475.5 729.8 477.7 731.4 478.7 735.8 479.3 740.1M404.6 738.5L411.1 737.7 416.0 741.2 414.3 743.9 410.0 740.1 404.6 738.5M473.9 715.7L476.9 714.1 478.7 718.4 476.0 721.7 473.5 719.0 473.9 715.7M479.5 719.0L482.0 720.6M482.0 716.3L485.2 706.5 488.5 701.1 493.9 695.7 498.2 693.0 503.1 691.4 503.6 692.5 499.3 694.6 495.0 700.0 491.7 705.5 489.6 710.9 488.5 716.3 489.6 720.6 492.8 718.4 496.1 717.4 499.3 715.2 502.0 716.3 503.6 720.6 506.9 720.1 511.2 719.0 514.5 718.4 517.7 719.5M513.4 720.6L514.5 724.9 516.6 730.4 514.5 735.8 510.1 737.9 508.0 741.2 509.0 745.5 513.4 743.9 517.7 742.3 522.0 743.3 525.3 746.6 520.9 750.9 517.7 753.1 513.4 752.5 515.5 755.2 519.9 756.3 523.1 758.5 525.8 761.7 525.3 763.9 522.0 766.1 521.5 770.4 519.9 773.6 516.6 776.9 513.4 780.1 509.0 781.2 503.6 782.3 499.3 783.4 495.0 784.5 488.5 786.6 482.0 788.8M549.6 746.6L546.9 743.9 542.6 742.8 540.4 740.1 537.2 738.5 535.0 737.9 533.9 739.6 535.6 741.2 532.9 743.9 530.1 746.6 530.7 749.3 533.9 752.0 538.3 752.5 540.4 749.8 541.0 752.0 543.7 755.2 546.9 758.5 549.6 761.2 552.3 762.8 556.7 765.0 562.1 766.6 567.5 767.2 569.7 762.8 571.8 763.9 572.9 766.6 576.1 768.2 580.5 769.3 584.8 770.4 585.9 774.7 588.1 778.0 592.4 780.1 595.6 783.4 596.7 787.7 598.9 791.0 601.0 794.2 602.1 798.0M552.3 727.1L553.4 733.6 556.7 738.5 552.3 740.1M552.3 728.2L557.7 728.2 564.2 724.9 570.7 721.7 576.1 718.4 579.4 719.5 583.7 719.5 590.2 719.0 594.5 719.0 598.9 715.2 601.0 710.9 600.0 705.5 602.1 701.1 605.4 697.9 608.6 693.6 614.0 691.4 616.2 689.2 620.0 689.2M589.1 733.6L593.5 727.1 598.9 724.9 602.1 723.9 606.5 720.6 611.9 717.4 617.3 714.1 620.0 713.0M601.0 727.1L603.2 731.4 607.5 734.7 611.9 732.5 616.2 730.4 620.0 729.3M524.7 734.1L527.4 733.1 531.8 734.7 529.6 735.8 524.7 734.7M547.5 773.1L550.2 771.5 553.4 772.6 550.7 775.3 547.5 773.6M619.0 689.2L623.3 686.0 626.6 683.8 630.3 682.2 629.8 688.1 628.7 693.6 627.1 700.0 625.5 704.4 623.3 708.7 619.0 713.0M619.0 726.0L625.5 727.1 627.1 729.3 626.6 731.4 629.8 733.6 634.1 734.7 638.5 737.9 643.9 741.2 649.3 742.3 654.7 741.2 662.3 740.6 668.8 740.1 675.3 739.6 678.0 737.9 677.4 733.6 676.3 730.4 673.1 729.3 670.9 727.1 669.9 722.8 670.9 720.1 673.6 716.3 676.3 712.0 679.1 709.8 681.8 709.2M662.8 721.7L664.4 719.0 667.7 713.0 669.9 707.6 672.0 702.8 673.1 701.7 674.7 703.3 673.1 707.6 669.9 714.1 666.6 719.5 662.8 721.7M382.9 861.9L385.1 859.8 390.5 858.7 393.2 856.0 398.1 855.4 403.5 857.1 408.9 859.8 413.3 863.0 414.3 866.3 418.7 868.4 421.9 871.7 426.2 874.9 429.5 876.0 432.7 879.3 434.9 883.6 439.2 884.9 443.6 883.6 447.9 882.5 450.6 879.3 449.5 876.0 452.2 872.8M382.4 861.9L380.8 867.4 378.6 872.8 375.4 878.2 373.2 882.5 371.6 889.0 370.5 892.2 365.6 892.2 360.2 894.4 355.9 897.7 353.2 902.0 354.8 905.2 359.1 905.2 365.6 903.6 371.0 900.9 373.7 901.4 375.4 904.2 378.6 906.3 385.1 907.4 389.4 905.2 393.8 900.9 399.2 899.8 404.6 898.7 410.0 897.7 414.3 897.1M414.3 897.1L416.0 900.9 414.3 905.2 413.3 909.6 411.1 913.9 410.0 918.2 408.9 921.5 405.7 922.6 403.0 924.2 401.9 928.0 401.3 931.2 404.6 932.8 410.0 933.6 413.3 933.9M421.9 924.7L424.1 920.4 426.2 917.1 425.2 911.7 424.1 905.2 423.5 900.9 424.6 896.6 426.2 894.4 428.4 896.6 429.5 900.9 430.6 905.2 429.5 910.6 430.6 916.1 433.8 917.1 437.1 913.9 439.2 916.1 438.1 921.5 437.1 924.7 439.2 925.8 443.6 924.7 446.8 922.6 447.9 920.4 450.1 916.1 451.1 911.7 452.2 908.5 456.5 906.3 458.7 904.2 460.9 899.8 462.0 894.4 463.0 891.2 465.2 887.9 467.4 885.8 469.5 882.5 470.6 879.3 469.5 877.1M477.1 797.5L471.7 805.7 467.4 810.0 463.0 814.3 458.7 816.5 452.2 819.2 447.9 821.4 445.7 826.2 444.1 830.6 445.2 832.7 447.9 831.6 446.8 836.0 443.6 839.2 441.4 843.5 440.3 847.9 441.4 851.1 439.2 855.4 437.6 856.0 441.4 856.7 445.7 858.7 447.9 861.9 445.7 865.2 442.5 867.4 439.2 870.6 437.1 872.8 439.2 874.4 444.6 873.8 449.0 874.9 452.2 877.1M470.6 815.4L478.2 814.3 482.0 817.6M452.2 842.5L457.6 844.6 463.0 840.3 468.5 842.5 471.7 846.8M458.7 850.0L466.3 849.0 470.6 852.2 469.5 857.6 463.0 857.6 458.7 855.4 458.7 850.0M452.2 861.9L460.9 859.8 468.5 860.9 470.6 866.3 465.2 867.4 457.6 866.3 452.2 861.9M453.3 870.6L458.7 868.4 464.1 868.4 468.5 872.8 470.6 878.2 468.5 882.5 463.0 883.6M474.9 837.0L477.1 840.3 476.0 849.0 474.9 857.6 477.1 866.3 480.4 872.8 482.0 874.9M410.0 883.0L412.2 882.5 414.3 884.7 413.3 886.8 410.5 885.2 410.0 883.0M409.5 892.2L411.6 891.7 413.3 893.3 411.1 894.4 409.5 892.2M438.1 894.4L441.4 892.8 444.1 894.4 442.5 896.6 438.7 896.0 438.1 894.4M482.0 820.8L485.2 823.0 486.3 825.1 483.1 827.3 482.0 829.5M490.6 830.6L493.9 831.6 496.1 836.0 495.5 840.3 492.8 838.1 490.6 832.7 490.6 830.6M492.8 844.6L496.1 843.5 499.3 847.3 496.1 847.9 492.8 844.6M491.7 856.5L499.3 853.3 498.2 856.0 492.8 857.6 491.7 856.5M488.5 861.9L492.8 860.9 495.0 863.0M492.3 866.3L493.9 863.0 498.2 861.9 502.5 862.5 506.9 864.6 511.2 868.4 515.0 872.8 517.7 877.1 519.3 881.4 518.8 884.7 518.8 886.8 519.9 891.2 522.0 894.4 525.3 892.8 529.6 893.3 533.9 895.5 537.2 898.7 537.7 903.1 536.1 906.3 538.3 907.4 541.0 908.5 541.5 911.7 539.3 912.8 537.2 913.9 535.0 917.1 532.9 921.5 530.7 925.8 528.5 929.0 526.9 932.3 527.4 935.0M482.0 880.3L486.3 880.9 490.6 881.4 495.0 880.6 498.2 882.5 503.6 883.6 506.9 884.7 510.1 885.8 513.4 886.8 518.8 886.8M492.8 886.8L488.5 890.1 486.3 894.4 485.2 898.7M561.0 918.2L564.2 915.0 568.6 911.7 572.9 911.2 574.5 913.9 571.8 916.1 569.7 918.2 570.7 921.5 569.7 924.7 568.6 928.0 567.5 931.2 565.3 930.1 563.2 925.8 561.0 921.5 561.0 918.2M571.8 921.5L575.1 922.6 576.1 924.7 574.0 925.8 572.4 923.6 571.8 921.5M584.3 898.2L585.9 897.1 587.5 899.8 585.9 901.4 584.3 898.2M594.5 863.0L598.9 860.9 602.1 857.6 606.5 855.4 609.7 856.5 608.6 860.9 604.3 864.1 601.0 866.3 597.8 865.2 594.5 863.0M589.1 801.3L593.5 805.7 595.6 811.1 598.9 814.3 602.1 812.2 601.0 807.8 596.7 803.5 593.5 799.2M601.0 802.4L603.2 800.2 606.5 801.3 604.3 804.6 601.0 802.4M606.5 797.0L611.9 799.2 616.2 801.3 620.0 802.4M617.3 812.2L618.4 816.5 620.0 821.9M620.0 837.0L615.7 838.7 613.5 842.5 614.6 846.8 617.3 849.0 615.1 851.7 611.9 853.3 610.8 855.4M610.8 892.2L611.9 896.6 612.9 900.9 614.0 905.2 616.2 909.6 618.4 913.9 620.0 916.1M611.9 892.2L614.6 892.8 615.1 897.7 617.3 903.1 620.0 905.2M619.0 805.7L623.3 804.0 623.9 807.8 621.1 811.1 619.0 812.2M619.0 820.8L622.2 821.9 623.9 825.1 623.3 829.5 625.5 833.8 627.6 834.9 626.6 838.1 625.5 841.4 622.2 840.3 619.0 838.1M619.0 857.6L621.1 861.9 623.3 866.3 625.5 870.6 629.8 871.7 631.4 872.8 632.0 879.3 635.2 881.4 641.7 880.9 640.6 883.0 638.5 884.7 638.5 889.0 642.8 890.1 634.1 890.1M630.9 895.5L635.2 893.9 640.6 894.4 646.0 895.5 650.4 896.0 654.7 895.5 657.9 896.6 662.3 899.8 665.5 904.2 664.4 905.2 660.1 903.1 655.8 899.8 651.5 898.7 647.1 898.7 642.8 899.8 640.6 904.2 637.4 905.2 634.1 902.0 632.0 898.7 630.9 895.5M645.0 906.3L649.3 906.3 653.6 907.4 651.5 909.6 647.1 910.6 643.9 913.9 640.6 917.1 639.5 921.5 641.7 922.6 643.9 920.4 644.4 923.6 642.8 925.8 640.6 929.0 638.5 932.3 637.4 935.0M619.0 908.5L622.2 911.7 624.4 916.1 627.6 918.2 632.0 920.4 630.9 923.6 626.6 924.7 623.3 923.6 621.1 925.8M412.2 935.0L408.9 939.3 405.7 943.7 402.4 948.0 398.6 950.2 398.6 953.4 397.0 959.9 398.1 965.3 394.9 970.7 391.6 976.1 388.4 978.3 384.0 976.7 379.7 974.0 375.4 971.8M375.4 971.8L378.6 979.4 380.8 981.5 384.0 981.5 387.8 980.5 387.3 978.3M458.7 935.0L454.4 939.3 450.1 944.7 446.8 948.0 444.6 953.4 442.5 957.7 440.9 962.1 440.3 965.3 441.9 968.6 443.6 970.7 443.0 974.0 445.7 977.2 450.1 976.1 454.4 972.9 456.5 969.6 460.9 968.6 464.1 966.4 466.3 964.2 468.5 962.1 472.8 963.1 477.1 964.2 482.0 965.3M526.4 935.0L525.3 939.3 523.1 942.6 519.9 944.7 517.7 948.0 515.5 949.1 514.5 953.4 513.4 957.7 511.2 958.3 510.1 955.6 509.0 957.7 506.9 958.3 503.6 961.0 498.2 963.1 492.8 963.1 487.4 963.7 482.0 965.3M500.4 979.4L503.6 978.3 506.9 980.5 510.1 981.5 514.5 982.6 518.8 982.6 520.9 984.8 520.4 989.1 518.8 991.3 514.5 993.4 510.1 994.5 506.9 994.5 503.6 991.3 500.9 989.1 500.9 984.8 502.0 982.6 500.4 979.4M620.0 953.4L615.1 952.9 609.7 953.9 604.3 954.5 601.0 952.3 596.7 951.2 591.3 953.4 589.1 956.6 585.9 962.1 583.7 966.4 581.6 971.8 579.4 978.3 577.2 984.8 576.1 991.3 574.0 995.6 570.7 999.9 567.5 1004.3 564.2 1008.6 563.2 1012.9 565.3 1020.5 568.6 1027.0 571.8 1030.2 575.1 1028.1 577.2 1023.8 579.4 1021.6 582.6 1027.0 585.9 1032.4 588.1 1036.7 590.2 1037.8 593.5 1036.7 595.6 1033.5 597.8 1029.2 598.9 1024.8 600.0 1019.4 598.9 1015.1 596.7 1010.8 594.5 1006.4 593.5 1002.1 594.5 995.6 596.7 990.2 597.8 984.8 598.9 980.5 602.1 979.4 604.3 981.5 602.1 985.9 601.0 991.3 602.1 997.8 604.3 1003.2 607.5 1006.4 611.9 1009.7 615.1 1008.6 620.0 1007.5M620.0 1012.9L616.2 1010.8 614.0 1012.9 614.6 1017.3 612.9 1021.6 612.9 1027.0 615.1 1030.2 617.3 1033.5 615.1 1036.7 611.9 1038.9 607.5 1040.0 603.2 1042.2 598.9 1044.3 596.7 1048.6 593.5 1047.6 590.2 1045.4 588.1 1044.3 585.9 1042.2 584.8 1038.9 583.7 1035.7M581.6 1030.2L579.4 1032.4 577.2 1036.7 576.1 1041.1 577.2 1044.3 577.2 1047.6 578.3 1049.7 577.2 1053.0 574.0 1055.1 570.7 1058.4 567.5 1060.6 565.3 1063.8 562.1 1066.0 557.7 1068.1 555.6 1071.4M536.1 1028.1L540.4 1028.1 542.6 1030.2 540.4 1032.4 543.7 1033.5 545.8 1035.7 543.7 1038.9 542.6 1042.2 544.8 1044.3 546.9 1047.6 549.1 1049.7 548.0 1051.9 549.1 1054.1 551.3 1056.2 556.7 1060.6 556.7 1064.9 555.6 1069.2 553.4 1071.4M536.1 1028.1L533.9 1032.4 532.9 1036.7 533.9 1041.1 535.0 1043.2 533.4 1045.4 536.1 1046.5 539.3 1049.7 540.4 1054.1 538.3 1056.2 536.1 1058.4 533.9 1061.6 535.0 1064.9 538.3 1067.0 533.9 1070.3M517.7 1056.2L519.9 1050.8 523.1 1048.6 527.4 1047.6 530.7 1046.5 532.9 1048.6 531.8 1054.1 529.6 1058.4 527.4 1061.6 524.2 1062.7 520.9 1063.8 517.7 1061.6 516.6 1059.5 517.7 1056.2M636.3 935.0L636.8 939.3 636.8 944.7 635.2 948.0 632.0 947.4 628.7 945.3 626.0 946.4 628.7 949.6 633.1 952.3 634.1 956.6 632.0 959.9 629.8 963.1 626.6 966.4 623.3 967.5 619.0 967.5M619.0 959.9L622.2 963.1 624.4 967.5 625.5 971.8 629.8 974.0 627.6 975.0 624.4 972.9 621.1 969.6 619.0 967.5M619.0 1001.0L623.3 999.9 625.5 1003.2 624.4 1006.4 621.1 1007.0 619.0 1005.4M619.0 1017.3L620.1 1021.6 619.0 1023.8"/></g></g> <g id="patch_8"> <path d="M 264.23 514.8 C 290.48 514.8 315.66 504.36 334.22 485.80 C 352.79 467.23 363.22 442.05 363.22 415.8 C 363.22 389.54 352.79 364.36 334.22 345.79 C 315.66 327.23 290.48 316.8 264.23 316.8 C 237.97 316.8 212.79 327.23 194.23 345.79 C 175.67 364.36 165.24 389.54 165.24 415.8 C 165.24 442.05 175.67 467.23 194.23 485.80 C 212.79 504.36 237.97 514.8 264.23 514.8 L 264.23 514.8 z " clip-path="url(#p254148b0d5)" style="fill: none"/> </g> <g id="line2d_26"> <path d="M 350.79 416.66 L 350.67 412.14 L 350.31 407.64 L 349.72 403.15 L 348.90 398.71 L 347.84 394.32 L 346.56 389.98 L 345.05 385.72 L 343.32 381.55 L 341.38 377.47 L 339.22 373.50 L 336.86 369.64 L 334.30 365.92 L 331.55 362.33 L 328.61 358.89 L 325.50 355.62 L 322.23 352.51 L 318.79 349.57 L 315.20 346.82 L 311.48 344.26 L 307.63 341.90 L 303.65 339.74 L 299.58 337.80 L 295.40 336.07 L 291.14 334.56 L 286.81 333.27 L 282.41 332.22 L 277.97 331.39 L 273.49 330.80 L 268.98 330.45 L 264.47 330.33 L 259.95 330.45 L 255.44 330.80 L 250.96 331.39 L 246.52 332.22 L 242.12 333.27 L 237.79 334.56 L 233.53 336.07 L 229.36 337.80 L 225.28 339.74 L 221.31 341.90 L 217.45 344.26 L 213.73 346.82 L 210.14 349.57 L 206.71 352.51 L 203.43 355.62 L 200.32 358.89 L 197.38 362.33 L 194.63 365.92 L 192.07 369.64 L 189.71 373.50 L 187.55 377.47 L 185.61 381.55 L 183.88 385.72 L 182.37 389.98 L 181.09 394.32 L 180.03 398.71 L 179.21 403.15 L 178.62 407.64 L 178.26 412.14 L 178.15 416.66 L 178.26 421.18 L 178.62 425.68 L 179.21 430.16 L 180.03 434.61 L 181.09 439.00 L 182.37 443.34 L 183.88 447.60 L 185.61 451.77 L 187.55 455.85 L 189.71 459.82 L 192.07 463.68 L 194.63 467.40 L 197.38 470.99 L 200.32 474.42 L 203.43 477.70 L 206.71 480.81 L 210.14 483.75 L 213.73 486.50 L 217.45 489.06 L 221.31 491.42 L 225.28 493.58 L 229.36 495.52 L 233.53 497.25 L 237.79 498.76 L 242.12 500.04 L 246.52 501.10 L 250.96 501.92 L 255.44 502.51 L 259.95 502.87 L 264.47 502.99 L 268.98 502.87 L 273.49 502.51 L 277.97 501.92 L 282.41 501.10 L 286.81 500.04 L 291.14 498.76 L 295.40 497.25 L 299.58 495.52 L 303.65 493.58 L 307.63 491.42 L 311.48 489.06 L 315.20 486.50 L 318.79 483.75 L 322.23 480.81 L 325.50 477.70 L 328.61 474.42 L 331.55 470.99 L 334.30 467.40 L 336.86 463.68 L 339.22 459.82 L 341.38 455.85 L 343.32 451.77 L 345.05 447.60 L 346.56 443.34 L 347.84 439.00 L 348.90 434.61 L 349.72 430.16 L 350.31 425.68 L 350.67 421.18 L 350.79 416.66 L 350.79 416.66 " clip-path="url(#pfb6401b332)" style="fill: none; stroke: #aaaaaa; stroke-width: 0.8; stroke-linecap: square"/> </g> <g id="line2d_27"> <path d="M 337.82 416.66 L 337.72 412.82 L 337.42 408.99 L 336.92 405.18 L 336.22 401.41 L 335.32 397.67 L 334.23 393.99 L 332.95 390.37 L 331.48 386.82 L 329.83 383.35 L 327.99 379.98 L 325.99 376.70 L 323.81 373.54 L 321.47 370.49 L 318.98 367.57 L 316.34 364.78 L 313.55 362.14 L 310.63 359.65 L 307.58 357.31 L 304.42 355.13 L 301.14 353.12 L 297.77 351.29 L 294.30 349.64 L 290.75 348.17 L 287.13 346.89 L 283.45 345.80 L 279.72 344.90 L 275.94 344.20 L 272.13 343.70 L 268.31 343.40 L 264.47 343.30 L 260.63 343.40 L 256.80 343.70 L 252.99 344.20 L 249.21 344.90 L 245.48 345.80 L 241.80 346.89 L 238.18 348.17 L 234.63 349.64 L 231.16 351.29 L 227.79 353.12 L 224.51 355.13 L 221.35 357.31 L 218.30 359.65 L 215.38 362.14 L 212.60 364.78 L 209.95 367.57 L 207.46 370.49 L 205.12 373.54 L 202.94 376.70 L 200.94 379.98 L 199.10 383.35 L 197.45 386.82 L 195.98 390.37 L 194.70 393.99 L 193.61 397.67 L 192.71 401.41 L 192.01 405.18 L 191.51 408.99 L 191.21 412.82 L 191.11 416.66 L 191.21 420.50 L 191.51 424.33 L 192.01 428.14 L 192.71 431.91 L 193.61 435.65 L 194.70 439.33 L 195.98 442.95 L 197.45 446.50 L 199.10 449.97 L 200.94 453.34 L 202.94 456.62 L 205.12 459.78 L 207.46 462.83 L 209.95 465.75 L 212.60 468.53 L 215.38 471.18 L 218.30 473.67 L 221.35 476.01 L 224.51 478.19 L 227.79 480.19 L 231.16 482.03 L 234.63 483.68 L 238.18 485.15 L 241.80 486.43 L 245.48 487.52 L 249.21 488.42 L 252.99 489.12 L 256.80 489.62 L 260.63 489.92 L 264.47 490.02 L 268.31 489.92 L 272.13 489.62 L 275.94 489.12 L 279.72 488.42 L 283.45 487.52 L 287.13 486.43 L 290.75 485.15 L 294.30 483.68 L 297.77 482.03 L 301.14 480.19 L 304.42 478.19 L 307.58 476.01 L 310.63 473.67 L 313.55 471.18 L 316.34 468.53 L 318.98 465.75 L 321.47 462.83 L 323.81 459.78 L 325.99 456.62 L 327.99 453.34 L 329.83 449.97 L 331.48 446.50 L 332.95 442.95 L 334.23 439.33 L 335.32 435.65 L 336.22 431.91 L 336.92 428.14 L 337.42 424.33 L 337.72 420.50 L 337.82 416.66 L 337.82 416.66 " clip-path="url(#pfb6401b332)" style="fill: none; stroke: #aaaaaa; stroke-width: 0.8; stroke-linecap: square"/> </g> <g id="line2d_28"> <path d="M 325.16 416.66 L 325.01 412.42 L 324.57 408.21 L 323.83 404.04 L 322.81 399.93 L 321.50 395.90 L 319.91 391.97 L 318.06 388.16 L 315.94 384.49 L 313.57 380.98 L 310.96 377.64 L 308.13 374.49 L 305.08 371.55 L 301.83 368.83 L 298.41 366.34 L 294.81 364.09 L 291.07 362.10 L 287.20 360.38 L 283.22 358.93 L 279.15 357.76 L 275.01 356.88 L 270.81 356.29 L 266.58 356.00 L 262.35 356.00 L 258.12 356.29 L 253.93 356.88 L 249.78 357.76 L 245.71 358.93 L 241.73 360.38 L 237.86 362.10 L 234.12 364.09 L 230.53 366.34 L 227.10 368.83 L 223.85 371.55 L 220.81 374.49 L 217.97 377.64 L 215.36 380.98 L 212.99 384.49 L 210.88 388.16 L 209.02 391.97 L 207.43 395.90 L 206.12 399.93 L 205.10 404.04 L 204.36 408.21 L 203.92 412.42 L 203.77 416.66 L 203.92 420.89 L 204.36 425.11 L 205.10 429.28 L 206.12 433.39 L 207.43 437.42 L 209.02 441.35 L 210.88 445.16 L 212.99 448.82 L 215.36 452.34 L 217.97 455.68 L 220.81 458.82 L 223.85 461.77 L 227.10 464.49 L 230.53 466.98 L 234.12 469.23 L 237.86 471.21 L 241.73 472.94 L 245.71 474.39 L 249.78 475.55 L 253.93 476.44 L 258.12 477.03 L 262.35 477.32 L 266.58 477.32 L 270.81 477.03 L 275.01 476.44 L 279.15 475.55 L 283.22 474.39 L 287.20 472.94 L 291.07 471.21 L 294.81 469.23 L 298.41 466.98 L 301.83 464.49 L 305.08 461.77 L 308.13 458.82 L 310.96 455.68 L 313.57 452.34 L 315.94 448.82 L 318.06 445.16 L 319.91 441.35 L 321.50 437.42 L 322.81 433.39 L 323.83 429.28 L 324.57 425.11 L 325.01 420.89 L 325.16 416.66 L 325.16 416.66 " clip-path="url(#pfb6401b332)" style="fill: none; stroke: #aaaaaa; stroke-width: 0.8; stroke-linecap: square"/> </g> <g id="line2d_29"> <path d="M 312.74 416.66 L 312.62 413.29 L 312.27 409.94 L 311.68 406.62 L 310.87 403.35 L 309.83 400.15 L 308.57 397.02 L 307.09 393.99 L 305.40 391.08 L 303.52 388.28 L 301.45 385.63 L 299.19 383.12 L 296.77 380.78 L 294.19 378.62 L 291.46 376.64 L 288.60 374.85 L 285.63 373.27 L 282.55 371.90 L 279.38 370.74 L 276.14 369.82 L 272.85 369.11 L 269.51 368.65 L 266.15 368.41 L 262.78 368.41 L 259.42 368.65 L 256.08 369.11 L 252.79 369.82 L 249.55 370.74 L 246.38 371.90 L 243.30 373.27 L 240.33 374.85 L 237.47 376.64 L 234.75 378.62 L 232.16 380.78 L 229.74 383.12 L 227.49 385.63 L 225.41 388.28 L 223.53 391.08 L 221.84 393.99 L 220.37 397.02 L 219.10 400.15 L 218.06 403.35 L 217.25 406.62 L 216.66 409.94 L 216.31 413.29 L 216.19 416.66 L 216.31 420.03 L 216.66 423.38 L 217.25 426.70 L 218.06 429.97 L 219.10 433.17 L 220.37 436.30 L 221.84 439.32 L 223.53 442.24 L 225.41 445.04 L 227.49 447.69 L 229.74 450.20 L 232.16 452.54 L 234.75 454.70 L 237.47 456.68 L 240.33 458.47 L 243.30 460.05 L 246.38 461.42 L 249.55 462.57 L 252.79 463.50 L 256.08 464.20 L 259.42 464.67 L 262.78 464.91 L 266.15 464.91 L 269.51 464.67 L 272.85 464.20 L 276.14 463.50 L 279.38 462.57 L 282.55 461.42 L 285.63 460.05 L 288.60 458.47 L 291.46 456.68 L 294.19 454.70 L 296.77 452.54 L 299.19 450.20 L 301.45 447.69 L 303.52 445.04 L 305.40 442.24 L 307.09 439.32 L 308.57 436.30 L 309.83 433.17 L 310.87 429.97 L 311.68 426.70 L 312.27 423.38 L 312.62 420.03 L 312.74 416.66 L 312.74 416.66 " clip-path="url(#pfb6401b332)" style="fill: none; stroke: #aaaaaa; stroke-width: 0.8; stroke-linecap: square"/> </g> <g id="line2d_30"> <path d="M 300.51 416.66 L 300.37 413.52 L 299.96 410.40 L 299.28 407.33 L 298.33 404.33 L 297.13 401.43 L 295.68 398.64 L 293.99 395.98 L 292.08 393.49 L 289.95 391.17 L 287.63 389.05 L 285.14 387.13 L 282.49 385.44 L 279.70 383.99 L 276.79 382.79 L 273.79 381.84 L 270.72 381.16 L 267.61 380.75 L 264.47 380.61 L 261.32 380.75 L 258.21 381.16 L 255.14 381.84 L 252.14 382.79 L 249.23 383.99 L 246.44 385.44 L 243.79 387.13 L 241.30 389.05 L 238.98 391.17 L 236.86 393.49 L 234.94 395.98 L 233.25 398.64 L 231.80 401.43 L 230.60 404.33 L 229.65 407.33 L 228.97 410.40 L 228.56 413.52 L 228.42 416.66 L 228.56 419.80 L 228.97 422.92 L 229.65 425.99 L 230.60 428.99 L 231.80 431.89 L 233.25 434.68 L 234.94 437.33 L 236.86 439.83 L 238.98 442.15 L 241.30 444.27 L 243.79 446.19 L 246.44 447.88 L 249.23 449.33 L 252.14 450.53 L 255.14 451.48 L 258.21 452.16 L 261.32 452.57 L 264.47 452.70 L 267.61 452.57 L 270.72 452.16 L 273.79 451.48 L 276.79 450.53 L 279.70 449.33 L 282.49 447.88 L 285.14 446.19 L 287.63 444.27 L 289.95 442.15 L 292.08 439.83 L 293.99 437.33 L 295.68 434.68 L 297.13 431.89 L 298.33 428.99 L 299.28 425.99 L 299.96 422.92 L 300.37 419.80 L 300.51 416.66 L 300.51 416.66 " clip-path="url(#pfb6401b332)" style="fill: none; stroke: #aaaaaa; stroke-width: 0.8; stroke-linecap: square"/> </g> <g id="line2d_31"> <path d="M 288.42 416.66 L 288.29 414.16 L 287.89 411.68 L 287.25 409.26 L 286.35 406.92 L 285.21 404.68 L 283.84 402.58 L 282.27 400.63 L 280.49 398.86 L 278.54 397.28 L 276.44 395.91 L 274.21 394.78 L 271.87 393.88 L 269.45 393.23 L 266.97 392.84 L 264.47 392.71 L 261.96 392.84 L 259.49 393.23 L 257.06 393.88 L 254.72 394.78 L 252.49 395.91 L 250.39 397.28 L 248.44 398.86 L 246.67 400.63 L 245.09 402.58 L 243.72 404.68 L 242.58 406.92 L 241.69 409.26 L 241.04 411.68 L 240.65 414.16 L 240.51 416.66 L 240.65 419.16 L 241.04 421.64 L 241.69 424.06 L 242.58 426.40 L 243.72 428.64 L 245.09 430.74 L 246.67 432.69 L 248.44 434.46 L 250.39 436.04 L 252.49 437.40 L 254.72 438.54 L 257.06 439.44 L 259.49 440.09 L 261.96 440.48 L 264.47 440.61 L 266.97 440.48 L 269.45 440.09 L 271.87 439.44 L 274.21 438.54 L 276.44 437.40 L 278.54 436.04 L 280.49 434.46 L 282.27 432.69 L 283.84 430.74 L 285.21 428.64 L 286.35 426.40 L 287.25 424.06 L 287.89 421.64 L 288.29 419.16 L 288.42 416.66 L 288.42 416.66 " clip-path="url(#pfb6401b332)" style="fill: none; stroke: #aaaaaa; stroke-width: 0.8; stroke-linecap: square"/> </g> <g id="line2d_32"> <path d="M 276.42 416.66 L 276.30 415.00 L 275.96 413.36 L 275.39 411.80 L 274.60 410.32 L 273.62 408.98 L 272.46 407.78 L 271.15 406.75 L 269.71 405.91 L 268.16 405.29 L 266.54 404.89 L 264.88 404.71 L 263.22 404.77 L 261.57 405.06 L 259.99 405.58 L 258.49 406.31 L 257.11 407.24 L 255.87 408.35 L 254.80 409.63 L 253.91 411.05 L 253.23 412.57 L 252.77 414.17 L 252.54 415.83 L 252.54 417.49 L 252.77 419.14 L 253.23 420.75 L 253.91 422.27 L 254.80 423.69 L 255.87 424.96 L 257.11 426.08 L 258.49 427.01 L 259.99 427.74 L 261.57 428.26 L 263.22 428.55 L 264.88 428.61 L 266.54 428.43 L 268.16 428.03 L 269.71 427.40 L 271.15 426.57 L 272.46 425.54 L 273.62 424.34 L 274.60 422.99 L 275.39 421.52 L 275.96 419.95 L 276.30 418.32 L 276.42 416.66 L 276.42 416.66 " clip-path="url(#pfb6401b332)" style="fill: none; stroke: #aaaaaa; stroke-width: 0.8; stroke-linecap: square"/> </g> <g id="line2d_33"> <path d="M 264.47 417.43 L 264.47 520.61 " clip-path="url(#pfb6401b332)" style="fill: none; stroke: #aaaaaa; stroke-width: 0.8"/> </g> <g id="line2d_34"> <path d="M 265.13 417.04 L 354.48 468.63 " clip-path="url(#pfb6401b332)" style="fill: none; stroke: #aaaaaa; stroke-width: 0.8"/> </g> <g id="line2d_35"> <path d="M 265.13 416.28 L 354.48 364.68 " clip-path="url(#pfb6401b332)" style="fill: none; stroke: #aaaaaa; stroke-width: 0.8"/> </g> <g id="line2d_36"> <path d="M 264.47 415.89 L 264.47 312.71 " clip-path="url(#pfb6401b332)" style="fill: none; stroke: #aaaaaa; stroke-width: 0.8"/> </g> <g id="line2d_37"> <path d="M 263.80 416.28 L 174.45 364.68 " clip-path="url(#pfb6401b332)" style="fill: none; stroke: #aaaaaa; stroke-width: 0.8"/> </g> <g id="line2d_38"> <path d="M 263.80 417.04 L 174.45 468.63 " clip-path="url(#pfb6401b332)" style="fill: none; stroke: #aaaaaa; stroke-width: 0.8"/> </g> <g id="line2d_39"> <path d="M 363.22 415.8 L 363.08 410.61 L 362.67 405.45 L 362.00 400.31 L 361.05 395.21 L 359.84 390.17 L 358.37 385.20 L 356.64 380.32 L 354.66 375.53 L 352.43 370.85 L 349.95 366.3 L 347.25 361.88 L 344.31 357.60 L 341.16 353.49 L 337.79 349.55 L 334.22 345.79 L 330.46 342.22 L 326.52 338.86 L 322.41 335.70 L 318.14 332.77 L 313.72 330.06 L 309.17 327.59 L 304.49 325.35 L 299.70 323.37 L 294.82 321.64 L 289.85 320.17 L 284.81 318.96 L 279.71 318.01 L 274.57 317.34 L 269.41 316.93 L 264.23 316.8 L 259.05 316.93 L 253.88 317.34 L 248.74 318.01 L 243.64 318.96 L 238.61 320.17 L 233.64 321.64 L 228.75 323.37 L 223.96 325.35 L 219.29 327.59 L 214.73 330.06 L 210.31 332.77 L 206.04 335.70 L 201.93 338.86 L 197.99 342.22 L 194.23 345.79 L 190.66 349.55 L 187.30 353.49 L 184.14 357.60 L 181.21 361.88 L 178.50 366.3 L 176.02 370.85 L 173.79 375.53 L 171.81 380.32 L 170.08 385.20 L 168.61 390.17 L 167.40 395.21 L 166.45 400.31 L 165.78 405.45 L 165.37 410.61 L 165.24 415.8 L 165.37 420.98 L 165.78 426.14 L 166.45 431.28 L 167.40 436.38 L 168.61 441.42 L 170.08 446.39 L 171.81 451.27 L 173.79 456.06 L 176.02 460.74 L 178.50 465.3 L 181.21 469.71 L 184.14 473.99 L 187.30 478.10 L 190.66 482.04 L 194.23 485.80 L 197.99 489.37 L 201.93 492.73 L 206.04 495.89 L 210.31 498.82 L 214.73 501.53 L 219.29 504.00 L 223.96 506.24 L 228.75 508.22 L 233.64 509.95 L 238.61 511.42 L 243.64 512.63 L 248.74 513.58 L 253.88 514.25 L 259.05 514.66 L 264.23 514.8 L 269.41 514.66 L 274.57 514.25 L 279.71 513.58 L 284.81 512.63 L 289.85 511.42 L 294.82 509.95 L 299.70 508.22 L 304.49 506.24 L 309.17 504.00 L 313.72 501.53 L 318.14 498.82 L 322.41 495.89 L 326.52 492.73 L 330.46 489.37 L 334.22 485.80 L 337.79 482.04 L 341.16 478.10 L 344.31 473.99 L 347.25 469.71 L 349.95 465.3 L 352.43 460.74 L 354.66 456.06 L 356.64 451.27 L 358.37 446.39 L 359.84 441.42 L 361.05 436.38 L 362.00 431.28 L 362.67 426.14 L 363.08 420.98 L 363.22 415.8 L 363.22 415.8 " clip-path="url(#p254148b0d5)" style="fill: none; stroke: #000000; stroke-linecap: square"/> </g> <g id="patch_9"> <path d="M 264.47 417.28 C 264.63 417.28 264.79 417.22 264.91 417.10 C 265.02 416.98 265.09 416.82 265.09 416.66 C 265.09 416.49 265.02 416.33 264.91 416.22 C 264.79 416.10 264.63 416.04 264.47 416.04 C 264.30 416.04 264.14 416.10 264.02 416.22 C 263.91 416.33 263.84 416.49 263.84 416.66 C 263.84 416.82 263.91 416.98 264.02 417.10 C 264.14 417.22 264.30 417.28 264.47 417.28 z " clip-path="url(#p254148b0d5)" style="fill: #ffffff"/> </g> <g id="text_12"> <text style="font-size: 9px; font-family: 'DejaVu Sans', 'Liberation Sans', sans-serif; text-anchor: start" x="165.24" y="310.8" transform="rotate(-0 165.24 310.8)">MERRA2 Reanalysis (1980-2016)</text> </g> <g id="text_13"> <text style="font-size: 9px; font-family: 'DejaVu Sans', 'Liberation Sans', sans-serif; text-anchor: end" x="363.22" y="310.8" transform="rotate(-0 363.22 310.8)">mm/day</text> </g> </g> <g id="axes_4"> <g id="patch_10"> <path d="M 379.44 480.31 L 399.39 480.31 L 399.39 351.28 L 379.44 351.28 z " style="fill: #ffffff; stroke: #ffffff; stroke-width: 0.6"/> </g> <g id="patch_11"> <path d="M 379.44 480.31 L 389.41 486.76 L 399.39 480.31 z" style="fill: #ffffff; stroke: #ffffff; stroke-width: 0.6"/> </g> <g id="patch_12"> <path d="M 379.44 351.28 L 389.41 344.83 L 399.39 351.28 z" style="fill: #8e151a; stroke: #8e151a; stroke-width: 0.6"/> </g> <g id="QuadMesh_2"> <path d="M 379.44 480.31 L 399.39 480.31 L 399.39 467.40 L 379.44 467.40 L 379.44 480.31 " clip-path="url(#p558d03f585)" style="fill: #ffffff; stroke: #ffffff; stroke-width: 0.6"/> <path d="M 379.44 467.40 L 399.39 467.40 L 399.39 454.50 L 379.44 454.50 L 379.44 467.40 " clip-path="url(#p558d03f585)" style="fill: #b4e3f8; stroke: #b4e3f8; stroke-width: 0.6"/> <path d="M 379.44 454.50 L 399.39 454.50 L 399.39 441.60 L 379.44 441.60 L 379.44 454.50 " clip-path="url(#p558d03f585)" style="fill: #6caede; stroke: #6caede; stroke-width: 0.6"/> <path d="M 379.44 441.60 L 399.39 441.60 L 399.39 428.70 L 379.44 428.70 L 379.44 441.60 " clip-path="url(#p558d03f585)" style="fill: #48999b; stroke: #48999b; stroke-width: 0.6"/> <path d="M 379.44 428.70 L 399.39 428.70 L 399.39 415.8 L 379.44 415.8 L 379.44 428.70 " clip-path="url(#p558d03f585)" style="fill: #5dbb48; stroke: #5dbb48; stroke-width: 0.6"/> <path d="M 379.44 415.8 L 399.39 415.8 L 399.39 402.89 L 379.44 402.89 L 379.44 415.8 " clip-path="url(#p558d03f585)" style="fill: #dedf58; stroke: #dedf58; stroke-width: 0.6"/> <path d="M 379.44 402.89 L 399.39 402.89 L 399.39 389.99 L 379.44 389.99 L 379.44 402.89 " clip-path="url(#p558d03f585)" style="fill: #f5973d; stroke: #f5973d; stroke-width: 0.6"/> <path d="M 379.44 389.99 L 399.39 389.99 L 399.39 377.09 L 379.44 377.09 L 379.44 389.99 " clip-path="url(#p558d03f585)" style="fill: #e94d29; stroke: #e94d29; stroke-width: 0.6"/> <path d="M 379.44 377.09 L 399.39 377.09 L 399.39 364.19 L 379.44 364.19 L 379.44 377.09 " clip-path="url(#p558d03f585)" style="fill: #c91e25; stroke: #c91e25; stroke-width: 0.6"/> <path d="M 379.44 364.19 L 399.39 364.19 L 399.39 351.28 L 379.44 351.28 L 379.44 364.19 " clip-path="url(#p558d03f585)" style="fill: #8e151a; stroke: #8e151a; stroke-width: 0.6"/> </g> <g id="matplotlib.axis_3"/> <g id="matplotlib.axis_4"> <g id="ytick_12"> <g id="line2d_40"/> <g id="text_14"> <text style="font-size: 9px; font-family: 'DejaVu Sans', 'Liberation Sans', sans-serif; text-anchor: end" x="424.39" y="470.82" transform="rotate(-0 424.39 470.82)"> 0.5</text> </g> </g> <g id="ytick_13"> <g id="line2d_41"/> <g id="text_15"> <text style="font-size: 9px; font-family: 'DejaVu Sans', 'Liberation Sans', sans-serif; text-anchor: end" x="424.39" y="457.92" transform="rotate(-0 424.39 457.92)"> 1.0</text> </g> </g> <g id="ytick_14"> <g id="line2d_42"/> <g id="text_16"> <text style="font-size: 9px; font-family: 'DejaVu Sans', 'Liberation Sans', sans-serif; text-anchor: end" x="424.39" y="445.02" transform="rotate(-0 424.39 445.02)"> 1.5</text> </g> </g> <g id="ytick_15"> <g id="line2d_43"/> <g id="text_17"> <text style="font-size: 9px; font-family: 'DejaVu Sans', 'Liberation Sans', sans-serif; text-anchor: end" x="424.39" y="432.12" transform="rotate(-0 424.39 432.12)"> 2.0</text> </g> </g> <g id="ytick_16"> <g id="line2d_44"/> <g id="text_18"> <text style="font-size: 9px; font-family: 'DejaVu Sans', 'Liberation Sans', sans-serif; text-anchor: end" x="424.39" y="419.21" transform="rotate(-0 424.39 419.21)"> 3.0</text> </g> </g> <g id="ytick_17"> <g id="line2d_45"/> <g id="text_19"> <text style="font-size: 9px; font-family: 'DejaVu Sans', 'Liberation Sans', sans-serif; text-anchor: end" x="424.39" y="406.31" transform="rotate(-0 424.39 406.31)"> 4.0</text> </g> </g> <g id="ytick_18"> <g id="line2d_46"/> <g id="text_20"> <text style="font-size: 9px; font-family: 'DejaVu Sans', 'Liberation Sans', sans-serif; text-anchor: end" x="424.39" y="393.41" transform="rotate(-0 424.39 393.41)"> 5.0</text> </g> </g> <g id="ytick_19"> <g id="line2d_47"/> <g id="text_21"> <text style="font-size: 9px; font-family: 'DejaVu Sans', 'Liberation Sans', sans-serif; text-anchor: end" x="424.39" y="380.51" transform="rotate(-0 424.39 380.51)"> 7.5</text> </g> </g> <g id="ytick_20"> <g id="line2d_48"/> <g id="text_22"> <text style="font-size: 9px; font-family: 'DejaVu Sans', 'Liberation Sans', sans-serif; text-anchor: end" x="424.39" y="367.60" transform="rotate(-0 424.39 367.60)">10.0</text> </g> </g> <g id="ytick_21"> <g id="line2d_49"> <g> <use href="#m7389b9bb77" x="399.39" y="480.31" style="stroke: #000000; stroke-width: 0.6"/> </g> </g> </g> <g id="ytick_22"> <g id="line2d_50"> <g> <use href="#m7389b9bb77" x="399.39" y="351.28" style="stroke: #000000; stroke-width: 0.6"/> </g> </g> </g> </g> <g id="LineCollection_2"/> <g id="patch_13"> <path d="M 379.44 480.31 L 389.41 486.76 L 399.39 480.31 L 399.39 351.28 L 389.41 344.83 L 379.44 351.28 L 379.44 480.31 z " style="fill: none; stroke: #000000; stroke-width: 0.8; stroke-linejoin: miter; stroke-linecap: square"/> </g> </g> <g id="axes_5"> <defs><clipPath id="clipF2"><circle cx="550.48" cy="1361.25" r="206.23"/></clipPath></defs><g transform="scale(0.48)"><g clip-path="url(#clipF2)"> <rect x="342.2" y="1153.0" width="416.5" height="416.5" fill="#543005"/> <path fill="#824b09" d="M346.5 1156l409.5 0l0 410.5l-411 0l0-410.5l1.5 0zM686.5 1216.5l-3.5 2l-2 3l0.5 3l4 2.5l3-0.5l2.5-3.5l-1.5-4.5l-3-2zM369.5 1273l-9.5 8l-1 4.5l1.5 3l2 1.5l4.5 0.5l9.5-0.5l4.5-2l1-1l0.5-3l-1.5-6.5l-1.5-3l-5-2.5l-5 1zM647.5 1309l-1.5 3l-0.5 8l0.5 4.5l2 4l3.5 1.5l10.5-4l1.5-3l-1.5-3.5l-9-10.5l-3.5-1l-2 1zM372 1445l-2.5 1.5l-2 3l0 11l2.5 6l4.5 2l4-2l4-4.5l1-3l0-6.5l-0.5-3l-2.5-3l-4-2l-4.5 0.5zM438.5 1468.5l-2.5 1.5l-0.5 3l1.5 2.5l3.5 0.5l2-1.5l0.5-1.5l-1.5-3l-3-1.5z"/> <path fill="#ad7021" d="M346.5 1156l385 0l0 4.5l-2 4l-8 6l-5 7l-7.5 5.5l-5 7l-7.5 5.5l-5.5 7l-4 2l-10.5 1l-3.5 3.5l-1 11l1.5 6l4.5 5l7.5 2.5l3-1l4-3.5l4.5-10.5l6-6.5l4-6l6.5-5l6.5-8.5l6-4l6.5-8.5l8-5.5l4.5-7l4.5-2.5l6.5-0.5l0 402l-411 0l0-52.5l6.5-2l5.5-8l7-4.5l5.5-8l7-4.5l4-11l8.5-10l2-7l-0.5-10.5l-2.5-5l-4-3l-11.5-3.5l-2-1.5l-2-5.5l-3 0.5l-3.5 2l-4.5 8l-2.5 3l-3.5 1.5l-6.5 0.5l0-165.5l4.5 1l2 1.5l3.5 9l2.5 3l3 1.5l14-1.5l4.5 0.5l3.5 1.5l4.5 5.5l2-0.5l1.5-2l0.5-4.5l-0.5-8l-1-4.5l-3.5-6.5l-3-3l-5-3l-10.5-3.5l-3.5-5l-3.5-2l-15.5 0l0-103.5l1.5 0zM560 1246.5l-0.5 1.5l1 1.5l3 0l0.5-1.5l-1-1.5l-3 0zM611.5 1282.5l-2 3l1 1.5l5 0l1-1.5l-0.5-1.5l-2-2l-2.5 0.5zM636 1285.5l-2.5 1.5l-0.5 3l2 9.5l5 9.5l0.5 15.5l1 6.5l3.5 7l3 2l1.5-0.5l6.5-6.5l9.5-5.5l1.5-3l0-3l-3-6.5l-7-7.5l-4-4l-8-5l-1-8.5l-1.5-3l-3.5-1.5l-3 0zM363 1307.5l-3 3l-0.5 9.5l1 3l1.5 1.5l3.5 0l3.5-3l0-8l-2.5-4.5l-3.5-1.5zM686.5 1346.5l-0.5 1.5l0.5 3l2 1.5l2-0.5l1.5-2.5l-0.5-1.5l-3-2.5l-2 1zM372 1424.5l-2 3l0 2l3 0l3.5-2l0.5-1.5l-1-1.5l-4 0zM433 1462l-2 3l-0.5 6.5l1 3l2.5 4l3 2l3.5 0l6-2l3-2.5l1-1.5l-0.5-3l-8-8l-5-2l-4 0.5zM650.5 1470l-2 1.5l1 1.5l2 0l2-1.5l-1-1.5l-2 0z"/> <path fill="#cea053" d="M346.5 1156l358 0l-0.5 4.5l-1 2.5l-8 5.5l-5 7.5l-7.5 5l-4.5 7l-3.5 2l-12.5 1.5l-4.5 4l-1.5 4l0.5 3l5.5 5.5l1.5 2.5l1 12.5l4 9.5l13 14l1.5 4.5l0.5 9.5l1 3l2.5 3l3.5-1l5.5-6.5l0-8l-2.5-12.5l7.5-15l8-5l4.5-8l8-4.5l4.5-8l8-4.5l4.5-8l8-4.5l3.5-6.5l2-1.5l4-0.5l0 394l-175.5 0l0.5-22.5l1.5-2l4.5-2.5l2-2l6-16l0.5-9.5l-5-12.5l-1.5 0.5l-2.5 12l-4.5 11l-2 14l-2 3l-17 6.5l-9.5 5l-3.5-0.5l-7.5-6.5l-3.5-0.5l-3 4l-1 3l-2.5 9.5l-1 6l-174 0l0.5-6l2-3l8-6.5l5.5-7.5l7-5l5.5-7.5l7-5l5.5-7.5l7-5l2-3l1.5-8l-1-3l-3-1.5l-5 0l-6 6l-6.5 4.5l-5 6.5l-7.5 6l-5 6.5l-7.5 6l-6 8l-3 1.5l-6.5 1l0-24.5l6.5-0.5l3-1.5l7-8.5l7-5l5.5-7.5l7-5l5.5-10.5l8.5-11l3.5-9.5l-3-23.5l-6-6l-5-8l-5-3l-9.5-1.5l-6 0.5l-3.5 1l-6 5.5l-3.5 10l-2.5 1.5l-3.5 0.5l0-130.5l3 0.5l3 3l1 11l2 3l8 6l6.5 0.5l11-3.5l3-2l11-15l3.5-8l1-4.5l-1.5-19l-1-3l-24-11.5l-7.5-9l-5-1l-14 0l0-98.5l1.5 0zM559.5 1235.5l-11.5 4.5l-11 1.5l-5 5l0 3l3.5 2l14 2.5l11 4.5l5-1l5-5l1.5-3l-8-12.5l-4.5-1.5zM608 1273l-5 3l-3.5 4l-2 5.5l1 4.5l1 2.5l3.5 2l18.5 0l3.5 2l9 25l-0.5 15.5l1.5 11l2 4l3.5 2l6 1.5l3 0l2-2l6-16.5l3-3l7-3l2-3.5l0.5-6l-3-8l-12-15.5l-2-11l-3-3l-11-4l-11-1.5l-14-6l-6 0.5zM681 1337l-2.5 3l-1 6.5l0.5 7.5l1 5l3.5 2.5l4.5 1.5l5-0.5l4-2l3-3l2-5l0.5-3l-1.5-3l-9.5-9.5l-5-1.5l-4.5 1.5zM620 1410.5l-3 2.5l-5 8l0 3.5l2 2.5l3 0.5l2-1.5l9-11l0-3l-1.5-1.5l-3.5-0.5l-3 0.5zM633.5 1434l-9 6.5l-12.5 4.5l-2 1.5l0 1.5l4 1.5l25 1.5l1.5-1.5l0.5-3l-1.5-9.5l-2.5-3l-3.5 0zM411 1457.5l-2.5 1.5l-1 1.5l0.5 1.5l2 1.5l10 3l3 2l6.5 10.5l5.5 5l5.5 1l6-1.5l5-2.5l3-3.5l1-6l-1-4.5l-14-8l-5-1.5l-12.5-1l-12 1zM649.5 1459l-9 9.5l-11 7l-5 2l-7.5 0.5l-3 2l-7 16.5l0 4.5l2 2.5l3 1l3.5-1l1.5-2.5l3-8.5l3-3l12.5-2.5l3-1.5l5-5.5l15.5-4l4.5-3l2.5-8l-0.5-3l-3.5-2l-9-1.5l-3.5 0.5zM442 1521.5l-6.5 1l-2.5 2l0 1.5l2.5 2l12.5-1l4.5-1l2-1.5l0-1.5l-3-2l-9.5 0.5zM638.5 1534l0 3l2 0.5l0.5-2l-0.5-1.5l-1.5-1l-0.5 1z"/> <path fill="#e7cf94" d="M346.5 1156l248 0l1.5 6l2 2.5l3.5 1.5l3-1.5l1.5-2.5l0.5-6l81 0l-0.5 7.5l-2 5l-2.5 2.5l-6.5 3.5l-4.5 8l-3 1.5l-10.5 3l-5 3.5l-5.5 9l-2.5 11l2.5 11l2 5.5l3.5 2.5l6 0.5l3 1.5l14 15l2 4.5l0.5 9.5l1 3.5l4 7.5l3.5 2l3.5-1.5l7.5-8l10.5-6.5l6-8l0-3l-2.5-3l-9-1.5l-2.5-2l-1-3l1.5-4.5l3.5-2l7.5-1l3.5-1l6.5-8.5l7.5-5.5l5-7l7.5-5.5l5-7l4-2l5-0.5l0 374l-170.5 0l0.5-17l4.5-8.5l12-32l-4.5-4.5l-4.5-8.5l-3-3l-1.5 0l-2 2.5l-3 18l-6.5 15.5l-3 5l-7.5 6l-15.5 6l-5-1.5l-7.5-7l-3.5 1l-8 12.5l-3 8l-0.5 7.5l-117 0l0-4.5l2-4l8-6l5-7l12-9.5l23.5-6.5l6-3l1.5-1.5l0-1.5l-1.5-1.5l-6-3l-6-1.5l-23 3l-7.5 3l-4.5 4.5l-7.5 5.5l-5 7l-7.5 5.5l-5 7l-7.5 5.5l-2 4l0 4.5l-21 0l1.5-6l7.5-5l5-7.5l7.5-5l5-7.5l7.5-5l5-7.5l7.5-5l2.5-4.5l3.5-12.5l-2.5-3l-8-3l-5-1l-4.5 1.5l-12.5 8.5l-4.5 7.5l-8 5l-4.5 7.5l-8 5l-3.5 6.5l-3 2l-4.5 1l0-15.5l9.5-0.5l4.5-2.5l4.5-8l8-4.5l4.5-8l8-5l5-11l14-15l7.5 0l6.5 1.5l4.5 3l9.5 11.5l4.5 2l5 0.5l9-2l5-2.5l2-3.5l2.5-10l7.5-5.5l-1-1.5l-3.5-0.5l-7.5 1l-5-0.5l-10.5-5l-9.5-2.5l-6.5-3l-9-0.5l-11 1.5l-1.5-1l-1-3.5l2-8l-0.5-3l-8.5-8l-6.5-7.5l-6-3.5l-19-3l-12.5 5.5l-4.5 0.5l0-97l6.5 1.5l12.5 8.5l14 0l9 4l2-2.5l2-11l6-11l4.5-12.5l0.5-4.5l-1.5-9.5l0.5-3l2-2l6 1l3-1l2.5-3l0.5-3l-1-2l-3.5-0.5l-9 1l-3.5-0.5l-21.5-9l-5-3l-3.5-6l-4-3.5l-19-0.5l0-96l1.5 0zM536 1232.5l-8 7.5l-4.5 8l-0.5 11l1.5 4.5l2 0l6-6l6.5-1l9 1.5l12.5 6l3.5 0.5l11-12l0.5-3l-0.5-1.5l-5-5l-4.5-7.5l-3.5-2.5l-14 0l-7.5-1.5l-4.5 1zM608 1270l-8.5 3l-4 4.5l-2 9.5l1 11l2 3l3 2l12.5-4.5l5 0.5l2.5 2l4 11l6.5 9.5l0 4.5l-1.5 11l4 14l3 5l5 3l9 3l5-1l1-2l0.5-11l3-9.5l3-3l8-2l1.5-1l0-3.5l0-7.5l-1.5-6.5l-4-7.5l-7.5-9.5l-1.5-11l-2.5-3.5l-6.5-3l-20-5.5l-14-5l-6 0zM599.5 1321.5l-0.5 4.5l2.5 2l1.5 0l1.5-2l0-3l-3-2.5l-2 1zM679.5 1334l-5 1l-1.5 1.5l0.5 13l-1.5 11l5.5 3l8 2l6.5 0l6-2l3-3l2.5-8l0-4.5l-2.5-4.5l-4.5-5l-6-4l-5-1l-6 0.5zM498.5 1360.5l0.5 1.5l3 0l-0.5-2l-3 0.5zM613 1402.5l-4.5 22l1 4.5l5.5 6.5l-0.5 1.5l-11.5 7.5l-1.5 3.5l3 2.5l6 1.5l14 0l8 1.5l8 3l1.5 1l0.5 3l-3 4.5l-7 5l-6 2.5l-12.5 1l-3 2.5l-7 23.5l0 6.5l1 1.5l2.5 0l6.5-0.5l3-1.5l2-3l3-7.5l2.5-3l13-3.5l9-7.5l17.5-5.5l2.5-2.5l4-11l0-1.5l-2-1.5l-12.5-2.5l-9.5-4l-5-20l-2.5-2.5l-6.5-2.5l-2.5-3l0.5-3l3.5-8l-1-3l-5-3l-9.5-3l-4.5-3l-1 1zM485 1521.5l-3.5 1.5l-0.5 1.5l1.5 2.5l3 2l5 1l3-1.5l2-2.5l0-1.5l-2-2l-3-1l-5.5 0zM634.5 1524.5l1.5 15.5l3 4.5l3 0.5l3-1.5l2-3.5l0.5-3l-0.5-3l-6-9.5l-4-1.5l-2.5 1.5z"/> <path fill="#f6eacb" d="M346.5 1156l235.5 0l1.5 6l7 8l4.5 3l8 1l8.5-1l4.5-8l4-2.5l16-2l2-1.5l1-3l45.5 0l-0.5 6l-1.5 3l-9.5 7.5l-4.5 7l-4.5 2.5l-11 2.5l-3.5 2.5l-11.5 17l-2 6.5l3 8l8.5 15.5l4 2l12.5 2l7.5 7l2.5 4.5l0.5 12.5l1.5 6.5l3.5 6.5l4.5 3l5-0.5l11-11l12.5-6l12-16.5l5-4.5l5-7l7.5-5.5l4.5-6.5l3.5-2l6-1l0 144.5l-6.5 1.5l-1 5l1 5.5l3.5 1.5l3 0.5l0 190.5l-74.5 0l0-4.5l-1.5-3l-8-6.5l-2-3l-1-11l-2-3l-14-4.5l-6.5-8.5l-3-2.5l-12.5-2l-3 0.5l-2 3l1.5 3l3.5 4.5l1.5 5l3 17l0.5 15.5l-45.5 0l0-15.5l3.5-14l9-20.5l5-4.5l9-2.5l3-2l2.5-9.5l4-4.5l12.5-3.5l9-8l14-4l4-2l10.5-17l0-7l-8 3.5l-9.5-0.5l-8-4l-2.5-3l-1.5-4.5l-1.5-8l1-8l9.5-8.5l8-4l1.5-1.5l-1-1.5l-4-1.5l-18.5-0.5l-19-7.5l-4-3l-4-9.5l-3-3l-2.5 3l-1.5 6.5l1 14l-3.5 14l0 9.5l-1 2.5l-6.5 6l-1.5 5.5l2.5 3l5.5 2l7.5 1.5l12.5-0.5l7.5 2l3.5 1.5l2.5 3l0 1.5l-2.5 3l-9 5l-12.5 0.5l-5 2.5l-1.5 3l-4.5 17.5l-1.5 3l-2 1l-7.5-9l-3-0.5l-3.5 6.5l-2.5 16l-3 8l-5.5 7.5l-6 5l-5 6l-7.5 4l-4.5 1.5l-3.5-1l-7.5-7.5l-3.5-0.5l-3 1.5l-11 14.5l-2.5 9.5l-0.5 7.5l-80 0l0.5-7.5l3.5-11l0.5-8l2-3l3-1.5l12.5-2.5l12.5-5.5l12.5 6.5l6.5-0.5l6-2.5l2-3.5l0.5-3l-2-3l-3.5-1.5l-9.5-1l-12.5 1.5l-10.5-5.5l-5-1l-7.5-0.5l-16 2.5l-7.5-1l-6.5-2.5l-2.5-3.5l-1-8l-1.5-3l-2.5-2l-19-6l-2.5-1.5l0-3l5-6.5l7-4.5l7.5-2l6.5 2.5l9.5 11l4.5 2.5l6.5 1l12.5-2l4.5-1.5l2-2l3-12.5l3-2.5l6.5-2.5l1.5-1.5l0-1.5l-4.5-3l-3.5-1l-14.5 1l-18-8l-4-3l-4.5-6l-7.5-1l-3.5-2l-4.5-5l-11-8l-7-7.5l-5.5-3.5l-12.5-2.5l-9.5-3.5l-4.5 0.5l-8 3l-4.5 0.5l0-87l6.5 1l12.5 8.5l14 2l4.5 2.5l6.5 7.5l1.5-1.5l1-2.5l3.5-15.5l4.5-11.5l7.5-24.5l7.5-8l3-8l-0.5-3l-3-2l-16-0.5l-7.5-2.5l-14-6l-4-3l-2.5-8l-3-2.5l-6.5-1l-15.5 0l0-93l1.5 0zM600.5 1196.5l-3 1.5l-1 3l1.5 3.5l3.5 2l12.5-3l4-2.5l0.5-1.5l-4.5-2.5l-13.5-0.5zM535 1220l-9.5 11l-9.5 20l0 11l3 12.5l0.5 11l2 4l3 1l3.5-1.5l3-3.5l1.5-12.5l2-8l2-3l4-1l12.5 4.5l4.5 4l4.5 6.5l3.5 1.5l3.5-3l4-12.5l5-6.5l1.5-4.5l-0.5-3l-7.5-6l-7.5-10.5l-13-4l-10.5-8l-3.5-0.5l-2 1zM589.5 1234l-0.5 1.5l1.5 2l4.5 0.5l3-1l0.5-1.5l-2-1.5l-4.5-1.5l-2.5 1.5zM477.5 1237l0.5 2l1.5 2l1.5 0.5l-0.5-4.5l-1-1l-1.5-0.5l-0.5 1.5zM482 1243.5l0 3l2 3l3 0.5l3.5-0.5l0.5-1.5l-2-3.5l-3.5-1.5l-3.5 0.5zM601 1268.5l-6 2.5l-3.5 3.5l-5.5 23.5l1.5 4.5l5.5 9.5l-2 12.5l-3 11l0 3l2 5l7 7.5l6 3.5l7.5 0l3.5-1.5l7.5-7.5l1.5-0.5l3.5 2.5l7.5 11.5l17.5 7l10.5 1l12.5 0l14 1.5l8-1l4.5-2.5l3-4.5l1.5-6.5l0-4.5l-1-4.5l-4.5-6.5l-7-4.5l-6-2.5l-9-0.5l-3.5-2l-4.5-19.5l-2.5-5.5l-5-6l-1.5-11l-3-4.5l-6.5-3.5l-28.5-7.5l-11-4.5l-11 1.5zM471 1320l-7 2l-2.5 2.5l-0.5 8l1 6l2 2l1.5 0l11-1.5l6 3l2.5 4.5l1 14l3 6.5l4.5 2l9.5 1l8-1.5l5-3.5l2-4.5l-2.5-4l-5-2.5l-11-2.5l-3.5-2l-1.5-3l-1-9.5l-9.5-10l-4.5-6.5l-3-1.5l-5.5 1zM398 1360.5l-0.5 1.5l4 13l1.5 2.5l3 1.5l0-4.5l-3.5-11l-1-2l-3.5-1zM407 1381l1 17l4 4.5l5 0l3-3l0-4.5l-8-13l-3-1.5l-2 0.5zM536.5 1485.5l-4 3l0 3.5l4.5-0.5l3.5-3l0-2l-1.5-1l-2.5 0zM513.5 1487l-2 1.5l-0.5 3l0.5 19l1 1.5l3 1.5l9-1l3.5-3.5l3-11l0.5-4.5l-7-2l-7.5-4.5l-3.5 0zM663.5 1504l-3 2l-4 4.5l-0.5 3l2 1.5l7.5 1l4.5-2.5l1-1.5l-1-3l-3-3.5l-3.5-1.5zM610.5 1308.5l1.5-0.5l2 0.5l0.5 2l0.5 3l-1 1.5l-3.5-0.5l-1.5-2.5l0-1.5l1.5-2zM621.5 1323l1.5-0.5l1.5 1.5l0 1.5l-1.5 1.5l-1.5-1l0-3zM664 1338l2.5 0.5l1 1.5l2 8l-2 6l-3.5 3l-3.5-1.5l-2-6l2-8l3.5-3.5zM639 1420.5l1.5-0.5l1.5 1.5l0 1.5l-3 0.5l-1-2l1-1z"/> <path fill="#f5f5f4" d="M346.5 1156l225 0l0.5 4.5l2.5 4l12 11.5l5.5 1.5l20-1.5l2.5-1.5l4-6l3-2.5l18.5-4l2-2l0.5-4l39 0l0 4.5l-1.5 3l-8.5 7l-5.5 7l-4 2.5l-9 1.5l-3.5 1.5l-8 10.5l-4.5 3l-9 2l-13-3.5l-13.5-1l-6.5 1.5l-3 4l2 8l2.5 5l1.5 1l3.5 0l7.5-4.5l14-4l3.5-0.5l1.5 1l2 3.5l3 12.5l9.5 12.5l7 4l12.5 2l6.5 4.5l2 3.5l1 3l-0.5 22l-1 3.5l-3 3.5l-3 0.5l-9.5-3.5l-30-6.5l-14-6.5l-11 1l-12.5 3.5l-3-1l-2.5-2.5l-0.5-3l2.5-9.5l1.5-7.5l2-1l9.5-0.5l3-1l3.5-5.5l-1-4.5l-2.5-3l-9-7.5l-1.5 0.5l-2 3l-2 8.5l-1 8l-1.5 1.5l-6-0.5l-4-3l-7-9.5l-11.5-6l-1-3l0-11l-1.5-2l-3.5-1l-18.5-0.5l-5.5 2l-2 3l-1 11l-3.5 14l-3.5 5.5l-3.5 2l-6 0l-5-1l-20-20l-1.5-0.5l-1.5 0.5l-2 3l-1 7.5l1 14l-2 11l0.5 3l1.5 3.5l5 5l3 6.5l3 3l5 0.5l11-2l4.5 2.5l2.5 6l1 11l2 3l6.5 5l2 2.5l1 3.5l1 11l2.5 3l3.5-1l1.5-3.5l0-19l1.5-4.5l10-11l2.5-14.5l3-2.5l5 0.5l3.5 4l4 11l3 2l12.5 2.5l3.5 2.5l2 4l2 9.5l3.5 9l0.5 9.5l-3.5 16l-1.5 3.5l-6.5 5.5l0.5 1.5l3 1.5l11 1.5l9 9l5 2l9-0.5l9.5-8l3-1l9 6.5l10 3.5l11 5.5l9.5 2l10.5-2.5l16 0.5l9-1.5l3.5-2.5l3-5l2-9.5l-1.5-7.5l-5-8l-11-6l-11-2.5l-3.5-2.5l-3.5-18.5l-4-9.5l1.5-4.5l11-8.5l11-5l8.5-10l4.5-3.5l9.5-4.5l6.5-8l3.5-3l3.5-1l28-2.5l0 112.5l-8 0.5l-3 1.5l-1.5 2l-0.5 4.5l0.5 4.5l3 4.5l4.5 3l5 0.5l0 185.5l-26.5 0l-0.5-4.5l-2-3l-6.5-5l-5-7l-7.5-5.5l-5-7l-7.5-5.5l-5-7l-7.5-5.5l-8.5-10.5l-7.5-6.5l-5 0l-10.5 10l-9.5 4.5l-8-0.5l-7.5-4.5l-2-6.5l0-3l2-3l15.5-6.5l7.5-6.5l14.5-4.5l5-3l4-7l7-8.5l2.5-12.5l1.5-14l6.5-6.5l1-3l-3-5l-1.5-1l-3 0.5l-2 2.5l-2.5 5l-5.5 6l-2 14l-2 4.5l-3 2.5l-3 0.5l-6.5-1.5l-4-3l-2-3l-2.5-8l0-4.5l2.5-4l6-6l11.5-7.5l1-3l-1-1.5l-6-3l-16.5-2l-22-7l-3.5-3.5l-5.5-13.5l-3.5-2.5l-1.5 0l-3 2.5l-2.5 5.5l-0.5 9.5l1.5 14l-4 15.5l-2 5l-6 7.5l-1.5 8l3.5 4.5l5.5 2.5l10.5 1.5l12.5-1l5 1.5l4.5 3.5l-1 3l-6.5 4.5l-12.5 0l-6.5 2.5l-3 4l-2 11l-1 2.5l-2 1.5l-6-5l-3-0.5l-1.5 0.5l-3.5 4.5l-4 21.5l-3.5 7.5l-5 4.5l-10 2l-3 1.5l-2 8l-2.5 3l-2.5 1l-3.5 0l-5.5-5.5l-3.5-2l-5 0l-4.5 2.5l-4.5 6.5l-6 5.5l-2 3l-1.5 8l-0.5 10.5l-71 0l0.5-4.5l1.5-4.5l9-12.5l15-11.5l5-0.5l9 5.5l3.5 1l10.5-2l4.5-2l2-3l3-11.5l3-2l12.5-1l5-3l7.5-11.5l11-12l1.5-4l0-2.5l-1-2.5l-2-1.5l-7.5-2l-14.5 3l-10.5 1l-5 2l-2.5 2l-1 3l-0.5 22l-1.5 3l-2 1l-11 1l-12.5-0.5l-5-1.5l-11-6.5l-12.5 1.5l-10.5 3l-6.5-1l-4.5-3l-3-3l-5-11l-12.5-3.5l-9-4.5l0-3l3-3l7.5-4.5l5 0l6 4.5l6.5 9.5l7.5 1.5l17.5-2l10.5 0l22.5-3l3.5-1.5l0-1.5l-6.5-6.5l-1-4.5l1-3l4.5-5l0.5-1.5l-8.5-1l-12.5-4l-12.5 1l-5-0.5l-17.5-9.5l-1.5-3l-2.5-9.5l-2-3l-3-0.5l-7.5 0l-3.5-1l-11-6.5l-7-7.5l-3.5-3l-15.5-3.5l-11.5-5l-17 0l0-77l6.5 1l10.5 8l12.5 2l6.5 4l4 6l4 10l6.5 9l8.5 28l5 7l5 2l6-1l4.5-3.5l2-4.5l-5.5-11l-4-14l-6.5-7l-5-8.5l-7.5-5.5l-2-4l1.5-12.5l5-12.5l3-15.5l4-9.5l8.5-12.5l2-9.5l-2.5-3l-3-1.5l-18-1.5l-19.5-8l-2-1.5l-0.5-3l0-11.5l-1-7.5l-8-4.5l-4-8l-8.5-4.5l-4.5-8l-3.5-1l0-56.5l1.5 0zM435.5 1273l-2 3l1.5 3l2 1l3-2.5l0-3l-1-1.5l-3.5 0zM476.5 1307.5l-3.5 1l-5 5l-7.5 4l-3 3l-1.5 4l-1 14l-2 4l-5 5.5l0.5 3l4.5 1.5l9 0l9.5-7l5-0.5l1.5 1.5l2 3l1 15.5l1.5 5l1.5 1.5l5 1.5l17 0.5l17 3.5l4-1l2-3l0.5-3l0-17.5l-1-4.5l-4-3l-10.5-0.5l-5-2l-6.5-8.5l-9-9.5l-1.5-11l-1.5-4l-5-2l-9 0zM428.5 1357.5l-4 1l-1.5 2l0 2.5l1.5 1.5l11 0.5l3.5-1l1.5-2l0-2.5l-1.5-1.5l-10.5-0.5zM565 1382.5l-3.5 1.5l-2 3l0 11l1 2.5l3.5 2l9 0l3.5-2l2.5-4l0-9.5l-1-2.5l-3.5-2l-9.5 0zM489 1257l4.5 1.5l1 3.5l-2.5 3l-5 0.5l-2.5-2l-0.5-3l1.5-2l3.5-1.5zM664 1346.5l0.5 1.5l-0.5 2l-1-2l1-1.5zM465.5 1472.5l3 1l1.5 2.5l-2 3l-2.5 1l-1.5-0.5l-1-3.5l1-2.5l1.5-1zM612 1513.5l5 0l3 1.5l3.5 9.5l5.5 6.5l1.5 3l0.5 6l-0.5 26.5l-35 0l0-26.5l1-5.5l8-15.5l4-4l3.5-1.5zM660.5 1521l6.5 0.5l2 1.5l-0.5 3l-4.5 2l-5-1.5l-1.5-2l0-1.5l3-2z"/> <path fill="#d0ece8" d="M346.5 1156l58 0l0.5 6l1.5 3l8 6.5l5.5 7.5l7 5l2 3l0 11l-6 8l-1.5 4.5l0.5 3l2.5 4l5 2l6-0.5l3.5-2.5l3.5-6l3.5-11l7-8l2-4.5l0.5-9.5l-1-4.5l-9.5-8.5l-1.5-4l-0.5-4.5l115 0l0.5 6l2 4.5l15.5 16l2 4.5l-2 3l-3 2l-9 3l-27-1.5l-10.5-2l-11 3.5l-16 2l-6.5 2.5l-9 6l-11 3l-3.5 2l-1 3l1 31.5l-2 15.5l4.5 12.5l-0.5 7.5l-2 3.5l-3.5 3l-13 7l-9.5 2.5l0 3l3 11l-1.5 8.5l-14 21l-3 2.5l-3.5 0l-4.5-2.5l-8-14l-2-7.5l0-8l2-5l14.5-22.5l9 8.5l3.5 1.5l1.5-0.5l3.5-13.5l-0.5-6l-3-3l-3.5-0.5l-5.5 2l-5 4l-11-6l-14-1l-6.5-2l-10.5-4.5l-4-3l-2.5-20.5l-1.5-3l-7.5-4.5l-5-8l-7.5-4.5l-5-8l-6.5-1.5l0-53l1.5 0zM649.5 1156l26.5 0l-0.5 3l-2.5 2.5l-6 3.5l-5 8l-9 2l-3.5 1.5l-14 13l-6 2l-5 0.5l-23-3l-5-2l0-1.5l3-2.5l16-3.5l9-10l22-4.5l2.5-3l0.5-6zM568.5 1216.5l4.5-1l3.5 0l2 1l2 3.5l0.5 7.5l-1.5 6.5l-1.5 2.5l-1.5 0.5l-2-0.5l-5-7.5l-6-6l0.5-3.5l4.5-3zM610.5 1216.5l5-0.5l3 1.5l6 10l9.5 8l8 3.5l17 5l5 2.5l2 3l0 4.5l-2 9l-3.5 5l-3.5 2l-5.5 1l-25-2.5l-7.5-3.5l-12-11l-2-4.5l3.5-14l-3-12.5l1.5-3l3.5-3.5zM498 1217.5l5 0l3.5 4l0 4.5l-3.5 3.5l-5-0.5l-3.5-4.5l0.5-4l3-3zM745 1252.5l11-1.5l0 105.5l-17.5 1.5l-3.5 2.5l-1 3l2.5 12.5l3.5 8l9.5 9l6.5 1.5l0 138.5l-6.5-0.5l-4.5-2.5l-4.5-7l-8-5.5l-4.5-7l-8-5.5l-5-7l-3-2l-14 1l-9.5 4l-3-1l-7.5-7.5l-5-1l-14 2.5l-7.5 8.5l-9.5 3.5l-5 0.5l-4.5-3.5l-1-2l1-3l12.5-5l8-7l19-5l4.5-6.5l7.5-6l3.5-9.5l3-4.5l3.5-2l10-3l3-3l-1.5-3l-6-4l-1.5-2.5l0.5-12.5l-8.5-12.5l-4.5-2l-11 0l-20-6l-14-6.5l-11-3.5l-3.5-4l-8-15.5l0.5-3l1.5-2.5l3-2.5l3.5-1l14 3l5 3l6 6.5l3 0.5l9.5 0l12.5-2l21.5-1l5-1.5l3-2.5l6-11l0.5-8l-1-6l-3.5-8l-3-3l-23-12.5l-1.5-3l0-6.5l2-11l3.5-6l12.5-12.5l4.5-9.5l3-3.5l11-6l9-8l9.5-0.5l9.5-4zM560.5 1299l3.5-0.5l1.5 1l1.5 3l0.5 6.5l9.5 9.5l2.5 6l-2 9.5l-2.5 4.5l-6.5 5.5l-6.5 2l-4.5-1.5l-2.5-3l-2-7.5l0.5-14l5-11l1-8l1-2zM346.5 1335l5 1l12.5 8.5l10.5 3l6 5l5 12l7.5 13l3 9.5l2.5 19l3 4.5l0 2l-6.5-3l-15.5-1.5l-6.5-2l-13.5-8l-2-3l-2-6.5l-2.5-3l-8-1.5l0-49l1.5 0zM462 1371.5l3.5 0.5l1.5 2l4 11.5l2 2.5l1.5 0l5-7.5l4.5-2.5l15.5-1.5l5 0.5l4.5 2l22 20.5l12 8l1.5 3l0.5 3l-1.5 6.5l-2 4.5l-6 4.5l-12.5 3l-4.5 2.5l-8 9l-2 4.5l-1 6l-2 2l-27.5 2.5l-14-2l-12.5 1l-5-1.5l-8-5l-4-4.5l-1.5-11l-3.5-11l-0.5-8l0.5-6l9.5-16l9.5-10.5l13.5-12.5zM585.5 1402.5l5-1l6 2l3 3.5l1.5 3.5l-1.5 6l-4 9.5l-3.5 4l-5 2l-3-1l-3.5-3.5l-1.5-4.5l-1-8l1.5-6.5l3-4l3-2zM662 1429l2.5 0l2 2l1.5 6l-1.5 9.5l-1 2l-3.5 1l-4-3l-3-9.5l2.5-4.5l4.5-3.5zM562 1444.5l9.5 0l5 1l12.5 12l13 4.5l0 1.5l-4 3.5l-4 7.5l-7 5l-2 3l-2.5 7.5l-4 19l-4 7l-4 2.5l-6.5 1.5l-17.5-1.5l-2.5-2l-0.5-4.5l8-12l5.5-24l8-14l0-3l-7-6.5l-1.5-3l1.5-3l4-2zM539 1447.5l1.5 0.5l1 1.5l0.5 6.5l-0.5 4.5l-2.5 3.5l-14.5 2.5l-7.5 9l-14 5.5l-5 0l-3.5-3.5l-1.5-3l1.5-4.5l3.5-3.5l8.5-4.5l2.5-3.5l3-1l12.5 2l5-1l4-2.5l3.5-7.5l2-1zM621.5 1460.5l3.5 0l1 1.5l-3 1l-3.5-1l2-1.5zM410.5 1483.5l3.5 0.5l1 1.5l-0.5 1.5l-2.5 0.5l-1.5-0.5l-1-1.5l1-2zM484 1495l6.5 0l4 3l1 3l0 6.5l-1.5 3l-2 1.5l-5 1l-4.5-1.5l-8-10.5l0.5-3l9-3zM446.5 1496l5 0l3 1.5l0.5 2l-2 2.5l-3.5 1l-6 0l-3.5-0.5l-2-1.5l0-1.5l2.5-1.5l6-2zM610.5 1520l3.5-1l3 2.5l3.5 6l5.5 6.5l1 3l-0.5 3l-2 3.5l-6 5.5l-4.5 2.5l-3.5-0.5l-4.5-3.5l-3.5-4l-2-5l1.5-6l5.5-9.5l3-3zM496.5 1546l3-1l3.5 0l4 3l1.5 6l1 12.5l-29 0l0.5-6l2-3l13.5-11.5z"/> <path fill="#98d7cd" d="M346.5 1156l35.5 0l0 4.5l2 4l7.5 5.5l5 7l7.5 5.5l5 7l8.5 7l0.5 3l-2 8l0 4.5l4 8l3.5 3l7.5 1.5l7.5-1.5l13-16l3-1.5l2.5 0.5l1.5 4.5l6.5 8l2 9l0.5 12.5l-3 20.5l5 14l-1 4.5l-2.5 3.5l-11.5 7l-5 1l-1.5-0.5l-2-3l-0.5-12.5l-1-3l-2.5-2.5l-5-1l-9 4l-3.5 0l-9-3.5l-19-2.5l-8.5-4l-4-3l-2.5-5l-2-15.5l-1.5-3.5l-8-5.5l-4.5-7l-8-5.5l-6-8l-6.5-1.5l0-51.5l1.5 0zM449.5 1156l103.5 0l0 7.5l2.5 8l2.5 3l6 3.5l4.5 4l2 3.5l-0.5 1.5l-4 3l-5.5 1l-11-2.5l-10.5 0l-12.5-3l-12.5 6l-23.5 5l-14 7l-19 1.5l-0.5-4l3.5-14l-0.5-14l-2.5-6l-8-5.5l-1-5.5l1 0zM631 1170l9.5-1l4 1l2.5 1.5l0.5 1.5l-2 3l-8.5 8.5l-7.5 4l-5 1l-17-2.5l-1-1.5l12-5l6-8.5l6.5-2zM573 1219.5l3.5 1l1.5 2.5l0 4.5l-1.5 4l-2 0l-5-7l0.5-3l3-2zM610.5 1221l3.5-1l2 1.5l4 8.5l3 3l12 5.5l22.5 7l4 2.5l1.5 4.5l-2 8l-2 3.5l-6 4l-8 0.5l-18.5-1.5l-7-3.5l-10.5-14l0-3l2.5-9.5l0-3l-2.5-9.5l1.5-3.5zM751 1252.5l5 0l0 103l-19-0.5l-6 4l-1.5 3l6.5 23.5l9 11l1.5 3l-1 9.5l0.5 3l3.5 4l6.5 1.5l0 111.5l-5-0.5l-3-1.5l-5.5-7l-7-5.5l-5.5-7l-7-5.5l-7.5-9l-3.5-0.5l-12.5 1l-8 0l-4-2l-3.5-4.5l-0.5-3l6.5-9.5l0-11l1.5-4.5l5-4l14.5-4l7-3l1-1.5l0-5l-1.5-4.5l-10-6.5l-17-21l-3.5-1l-12.5 0l-17-5l-5-2.5l-7.5-5.5l-12.5-4l-4.5-4.5l-6.5-12.5l1-3l4-2.5l10.5 0l5.5 2.5l7 10l3.5 0.5l21.5-3l23.5-1.5l5-1.5l5-3l9-12.5l-2.5-12.5l-3-8l-3.5-4.5l-17-9.5l-4-3l-1.5-3l-0.5-5l2-9l3-6.5l11-12.5l5-12.5l2.5-3l17.5-11l9.5-1.5l9-5l6.5-1.5zM424.5 1292.5l3.5-0.5l3 2.5l9 9.5l2.5 6.5l0 3l-2 4l-14 18.5l-3-0.5l-2-2.5l-6.5-11.5l-2-8l1-5l10.5-16zM560.5 1315l3.5-1l4.5 2l5 4l2.5 4.5l-1.5 8l-2 4.5l-4 3.5l-4.5 2l-3.5 0l-2.5-2.5l-2.5-6l1-12.5l4-6.5zM346.5 1337.5l6.5 2l11 8l10.5 3l5 3.5l6 14.5l5 8l3 9l1.5 14l-1 3l-2 2l-6.5 1.5l-11-2.5l-10-7l-4-9.5l-2.5-3l-5-2l-8-0.5l0-44l1.5 0zM487 1379l12.5-1l5 0.5l4 2.5l3.5 4.5l3.5 8l4.5 7l6.5 5l10.5 4.5l2 2l-1 3l-7 8l-4.5 2l-5-0.5l-4.5-3.5l-1.5-0.5l-1.5 1l-4.5 11l-4.5 7.5l-3 9.5l-5.5 4.5l-7.5 2l-12.5 1.5l-12.5-2l-12.5 1l-6.5-2.5l-6-4.5l-2-3l-1.5-12.5l-3-12.5l0.5-9.5l2-4.5l4-6l11.5-8l10-10l1.5 0l2 1l5 9l4 1l3.5-3l4.5-9l6-3.5zM585.5 1405.5l3.5-1l3 0.5l3.5 2.5l2 3l0 3l-3.5 8l-2 3.5l-3 2.5l-3.5-0.5l-1.5-1.5l-3-9l0.5-6l4-5zM662 1433.5l2 0.5l1 1.5l0 3l-1 6l-2 0.5l-1.5-1.5l-1.5-5l0.5-3l2.5-2zM573 1452.5l5 1.5l7.5 8l3.5 6.5l0.5 4.5l-6.5 11l-5.5 22l-3 7l-3 2.5l-4.5 2l-5 1l-4.5-1l-6-2.5l-1.5-1.5l-0.5-3l4-9.5l5-20l10.5-19l2-8l2-1.5zM507.5 1468l4.5 0.5l2 3l-1 1.5l-10 4.5l-3.5 0l-1.5-1.5l-1-3l2.5-3l8-2zM662 1485.5l4.5 0l1.5 1.5l-2.5 2l-6.5 0l-1-0.5l0.5-1.5l3.5-1.5zM646.5 1496.5l3 0l0.5 1.5l-4 3l-7 2l-3-2l-0.5-1.5l2-1.5l9-1.5zM485.5 1499.5l2.5 0l1.5 1.5l0 5l-0.5 2.5l-2 0l-2-2.5l-1-5l1.5-1.5zM612 1522.5l3.5 1l7.5 10.5l1.5 3l-3 5l-7.5 4l-3.5-0.5l-3-2.5l-2.5-3l-1.5-3l1-3l4-8l3.5-3.5zM499.5 1549.5l2 0l2.5 3l1.5 6.5l0.5 7.5l-20.5 0l1.5-6l12.5-11z"/> <path fill="#5bb3a8" d="M346.5 1156l14.5 0l1.5 6l7.5 5l5 7.5l7.5 5l5 7.5l7.5 5l5 7.5l7.5 5l6.5 15.5l5 4.5l7.5 2.5l10.5-0.5l4.5-2l6.5-7.5l3.5-2l4.5 1.5l5 3.5l3 4.5l2 11l-1 11l-3.5 14l5.5 12.5l-0.5 3l-2 3l-10 6l-3 1l-2.5-2l-2.5-12.5l-1.5-2.5l-3-2l-5-0.5l-12.5 4l-9-3l-17.5-2.5l-6.5-3l-6-4.5l-2.5-5l-2.5-14l-2-4.5l-7-5l-6-8l-8-6l-4.5-6.5l-3.5-1.5l-4.5-0.5l0-50.5l1.5 0zM465.5 1156l78.5 0l0 17l-2 4l-3 2.5l-14.5 2.5l-14 7l-22 4.5l-12 5.5l-3.5 0.5l-5-3l-2-6.5l-0.5-34zM634 1171.5l5-0.5l3 1.5l0.5 2l-0.5 1.5l-5 4.5l-10.5 5l-4 0l-1-1.5l4.5-9.5l2.5-1.5l5.5-1.5zM621.5 1237l6.5 0.5l28.5 10.5l2 1.5l0.5 3l-2.5 9.5l-5 3.5l-9.5 1.5l-14-1l-6.5-2.5l-4-4.5l-5.5-11l1-4.5l2.5-4.5l6-2zM749.5 1254l6.5-0.5l0 100.5l-9.5-0.5l-9.5-2l-12.5 5.5l-3.5-3l-4.5-12.5l-5.5-6l-5-4l-12-5.5l-4-3l-1.5-6.5l0.5-7.5l3-6.5l7.5-7l4-5.5l2.5-5l2-9l2-3l16-10l11-2l7.5-5l5-2zM424.5 1299l2-0.5l3 1.5l7 7.5l1.5 3l-1.5 4.5l-10 10.5l-2 0l-3-3l-3.5-6l-1-4.5l1-3l6.5-10zM564 1318l6 3.5l2 4.5l-2.5 9.5l-2.5 3l-3 1.5l-3.5-1l-1.5-2l-1-8l1.5-7.5l1-2l3.5-1.5zM346.5 1339.5l5 1.5l3 1.5l9.5 9.5l1.5 1l7.5-0.5l3.5 1.5l2 2l13 29.5l1 11l-0.5 3l-1.5 2.5l-3.5 1l-4-0.5l-6.5-2l-5-2.5l-4-4.5l-5-11l-2-2.5l-15.5-1.5l0-39l1.5 0zM723 1365l3 1l3 4l4.5 18.5l6 9.5l0 3l-3 9.5l1 4.5l3 4.5l4.5 4l4.5 2l6.5 0.5l0 20.5l-15.5 0l-6.5-1.5l-3-2l-6-9l-11-6.5l-13-9.5l-9-10l-5-1.5l-9 0.5l-6.5-1l-15.5-5l-2-1.5l-2-3l0.5-8l2.5-3l3-1.5l9-2l21.5-1l14.5-2.5l6-3.5l8-7l6-3zM631 1371.5l6-0.5l5 3l4.5 11.5l-0.5 3l-2.5 1.5l-4.5 0.5l-3.5-0.5l-3.5-3l-6-12.5l2-2.5l3-0.5zM496.5 1379l6.5 0.5l6 4.5l2 4.5l2 12.5l-1.5 12.5l-5.5 14l-6 9.5l-1 9.5l-1 3l-6 4l-15.5 2.5l-12.5-1l-12.5 0.5l-9-4.5l-3.5-4.5l-2.5-25l0-9.5l2.5-4.5l4.5-4.5l6-3l23.5-0.5l3.5-3l5-11l2.5-3l5-2l7.5-1.5zM585.5 1409l1.5-1l3.5 0l1.5 1l2 3l-2 6.5l-3 4l-2 0l-1.5-2l-1.5-4.5l0-4l1.5-3zM704.5 1456l9-1.5l5 1l3 2.5l4.5 8l3.5 1.5l26.5 0l0 57.5l-4-0.5l-2-1.5l-3.5-6.5l-8-4.5l-4.5-8l-8-4.5l-6-9.5l-6.5-1.5l-14 2.5l-4.5-1.5l-3-2.5l0-3l4-9.5l-1.5-12.5l3.5-4.5l6.5-1.5zM576.5 1460l3 1.5l3 3.5l3 5l0 3l-4 11l-5 20.5l-2.5 6l-3 3l-5.5 2.5l-6.5 0l-4.5-2.5l-1.5-3l6-24l11-20.5l3-4l3.5-2zM612 1526.5l2 0.5l1.5 1.5l4 5.5l1 3l-2.5 3l-4 2l-3.5-1l-3-4l1-4.5l3.5-6zM498 1559.5l1.5 0l1 1l1 6l-7 0l1-4.5l2.5-2.5z"/> <path fill="#258880" d="M346.5 1156l9 0l0.5 6l2 3l8 6.5l5.5 7.5l7 5l5.5 7.5l7 5l5.5 7.5l7 5l4.5 12.5l3.5 3l10 4l9.5 1l8-1l12.5-8l3 0.5l5.5 3.5l3 6.5l1 7.5l-2.5 12.5l-4.5 11l1 3l5 6.5l0.5 3l-1 1.5l-3.5 2l-6 1.5l-1.5-1l-4-10l-4-3l-6.5 0l-12.5 3.5l-25-4.5l-5-2.5l-6-4.5l-4-6.5l-3-14l-2-3.5l-7.5-6l-5-6.5l-7.5-6l-6-7.5l-4-2l-4.5 0l0-49.5l1.5 0zM471.5 1156l62.5 0l-0.5 15.5l-2 3l-2 1.5l-22 10.5l-6 2l-16 1.5l-7.5 2.5l-3.5 0l-3-4l-1-4.5l0-28l1 0zM621.5 1239.5l6.5 0l25 9.5l1.5 3.5l-1.5 8l-3.5 3l-9 2l-12.5-0.5l-5-2l-4-4l-4.5-11l2.5-5.5l4.5-3zM748 1255.5l8-1l0 98l-8-0.5l-6-2.5l-2.5-3l-0.5-9.5l-2-2l-21.5-0.5l-18.5-8.5l-5-4.5l-1.5-6.5l0.5-4.5l1.5-4.5l3-3.5l8-6l4.5-8l3-12.5l1-2l14-8.5l11-2.5l11-7.5zM424.5 1306.5l3.5 0l3.5 4l-1 3l-4 3.5l-3.5-2l-1-3l1-3l1.5-2.5zM564 1322.5l2.5 2l0.5 3l-1 6.5l-2 2l-2-0.5l-0.5-1.5l-0.5-5l0.5-4.5l2.5-2zM346.5 1342l5 1l5.5 5l2 3l3 11l2 0l4-4.5l3.5-2l3 0l3.5 2.5l4.5 13l6.5 14.5l0.5 11l-2 3l-3.5 0l-7.5-2.5l-6.5-5.5l-2.5-4.5l-5.5-21l-2 5.5l-3.5 3l-11.5 1.5l0-34l1.5 0zM724.5 1342.5l3.5 0.5l3 3.5l-0.5 3l-2.5 2l-3.5-0.5l-1-1.5l-0.5-4.5l1.5-2.5zM721.5 1371l4 0.5l2 4.5l2 12.5l3 11l-1.5 12.5l3 14l2 1.5l9 2.5l11 1.5l0 9.5l-14 0l-5-1l-3-3l-1.5-6l-1.5-1.5l-8-2.5l-11.5-8.5l-10.5-4.5l-9-8.5l-5-1l-9 1.5l-5-0.5l-13-4.5l-4-3l-0.5-3l1-5l2-3l3-1.5l8.5-1.5l17-0.5l16-3l7-3l11.5-6.5zM634 1374l3 0l3 2l1.5 8l-1 2.5l-3.5 0.5l-2.5-3l-2.5-8l2-2zM493.5 1381l8-0.5l5.5 3.5l2.5 4.5l1 9.5l-0.5 8l-2 7.5l-4.5 11l-6 11l-1.5 11l-1.5 3l-5.5 3.5l-12.5 2l-12.5-1l-12.5 0.5l-7-3.5l-3-3l-1-3l1-22l-1-9.5l1.5-4.5l4.5-4l5-2l20 0l3-1l3.5-4l6-13l3.5-2.5l6-1.5zM704.5 1459l7.5-0.5l4.5 2l2 4.5l2 9.5l-1 3l-2.5 2.5l-12.5 7l-5 0l-2-1.5l0-1.5l6-9.5l-4.5-9.5l-0.5-3l1-1.5l5-1.5zM576.5 1465l4.5 3.5l1.5 4.5l-6 25.5l-3.5 8l-3 5l-4.5 3l-5 0l-4-2.5l-1-3l4.5-19l2-5l9.5-16.5l3-3l2-0.5zM612 1534l2 0l1 1.5l-1 1.5l-2 0l0-3z"/> <path fill="#016058" d="M495 1156l24 0l0 14l-1 3l-5.5 4.5l-8 4.5l-5 1l-4.5-1l-3.5-4.5l-1-4.5l3.5-17l1 0zM346.5 1176l6.5 1l4.5 2l4.5 8l8 4.5l4.5 8l8 4.5l4.5 8l8 5l4.5 10l3.5 3.5l15.5 3l15.5 0.5l5-1l10.5-5.5l5 1l3.5 4l2 4.5l-2 11l-3 6l-7 5.5l-21.5 6.5l-19-2.5l-9-3l-11-11l-4.5-14l-2-4l-7.5-5.5l-5-7l-7.5-5.5l-6.5-8.5l-3-1.5l-6.5-0.5l0-27l1.5 0zM624.5 1243l6.5 1l11 5.5l2 3l-0.5 6.5l-3 2l-5 1l-7.5-0.5l-3.5-1l-3-4l-2.5-7l1-3.5l4.5-3zM751 1257.5l5-0.5l0 92.5l-6.5-0.5l-3-2l-3.5-11.5l-4.5-4l-14-4l-11-0.5l-12.5-2.5l-4-3l-2.5-8l0-3l2-3.5l11.5-7.5l9.5-12.5l1.5-3l0.5-6.5l1.5-3l7-4.5l10.5-3.5l8-7l4.5-2zM346.5 1347l4 1l2.5 3l0.5 9.5l-2 5l-3.5 1.5l-3 0.5l0-20.5l1.5 0zM373 1363l1.5 0l1.5 2l4 19l-0.5 3l-1.5 1l-3.5-1l-1.5-3l-0.5-12.5l0.5-8.5zM492 1384l7.5-1.5l5 2.5l2 3.5l0.5 9.5l-2.5 10.5l-13 27l-2 12.5l-5.5 3l-7.5 1.5l-23.5 0l-5-1.5l-4-4.5l0-11l2.5-6l6.5-5l1.5-3l-5-6.5l-0.5-3l0.5-1.5l4-1.5l18-0.5l5-1.5l3-4.5l6-14l3-3l3.5-1.5zM709 1384l6.5 0l2 1.5l1.5 3l-0.5 11l-2.5 3l-4 2l-9 0l-12.5-4l-16 2.5l-10-3.5l-2.5-3l2-4l4.5-2.5l8-1l12 2.5l11-6l9.5-1.5zM574.5 1475l2 0l0 1l-1.5 11l-2 3.5l-3 1.5l0-5l4.5-12zM567 1493l1.5 0.5l0 6l-3 8.5l-1.5 1.5l-2 0l-0.5-2l0.5-8l2-4l3-2.5z"/> <path fill="#003c30" d="M499.5 1167.5l2-0.5l3 0.5l3 4l-1 3l-3.5 2.5l-3.5 0l-2.5-2.5l0-3l2.5-4zM346.5 1181.5l6.5 2l6 8l7 5l5.5 7.5l7 5l5.5 7.5l7 5l2 3l3 11l2 3.5l6.5 1.5l31 0l3.5-1l9-6.5l3.5 0l2.5 2.5l1 3l-0.5 8l-1.5 4l-3.5 2.5l-10.5 4l-12.5 6l-14.5-1l-8-3l-8.5-8l-5-6.5l-7.5-15.5l-7.5-4.5l-5.5-8.5l-8-5l-4.5-7.5l-4.5-2.5l-8-0.5l0-19l1.5 0zM624.5 1247.5l3.5-0.5l3.5 2.5l0.5 1.5l-1.5 3l-2.5 1l-3.5-1.5l-1-4l1-2zM751 1260l5-0.5l0 47.5l-6.5 1.5l-1 3.5l2.5 2.5l5 1l0 29l-3-0.5l-3.5-2l-4-9.5l-3.5-4l-9.5-3.5l-8-5l-21.5-1l-3.5-2.5l-1-4.5l2.5-4l9.5-3.5l4.5-3.5l13.5-14l2.5-12.5l3-2.5l9-3.5l5-6.5l3-2zM498 1385.5l3.5 1l1.5 2l0 11l-1.5 5l-5.5 7.5l-4.5 14l-6.5 9.5l-2 11l-3.5 2.5l-5 1l-21.5 0l-3.5-1l-2-2.5l0-3l0-6.5l1.5-3l2.5-2l12.5-5l6.5-8.5l9-6.5l3-4.5l3-10.5l3.5-6l4.5-4l4.5-1.5zM674.5 1395l3.5 0.5l1.5 1l0.5 1.5l-2 1.5l-5-0.5l-1.5-1l0-1.5l3-1.5z"/> </g><g clip-path="url(#clipF2)"><path fill="none" stroke="#000" stroke-width="0.7" stroke-linejoin="round" d="M382.9 1242.7L386.7 1239.4 390.5 1235.6 391.6 1236.9 387.8 1240.7 385.1 1241.6M385.1 1241.0L391.6 1240.0 398.1 1243.2 401.3 1241.6 408.9 1243.2 413.3 1244.8 419.7 1244.8 426.2 1246.5 433.8 1249.2 438.1 1245.9 441.4 1243.8 447.9 1243.2 454.4 1242.7 460.9 1240.5 466.3 1238.9 470.6 1238.3 472.2 1235.1 473.9 1228.6 475.5 1224.8 477.7 1226.4 478.7 1230.8 479.3 1235.1M404.6 1233.5L411.1 1232.7 416.0 1236.2 414.3 1238.9 410.0 1235.1 404.6 1233.5M473.9 1210.7L476.9 1209.1 478.7 1213.4 476.0 1216.7 473.5 1214.0 473.9 1210.7M479.5 1214.0L482.0 1215.6M482.0 1211.3L485.2 1201.5 488.5 1196.1 493.9 1190.7 498.2 1188.0 503.1 1186.4 503.6 1187.5 499.3 1189.6 495.0 1195.0 491.7 1200.5 489.6 1205.9 488.5 1211.3 489.6 1215.6 492.8 1213.4 496.1 1212.4 499.3 1210.2 502.0 1211.3 503.6 1215.6 506.9 1215.1 511.2 1214.0 514.5 1213.4 517.7 1214.5M513.4 1215.6L514.5 1219.9 516.6 1225.4 514.5 1230.8 510.1 1232.9 508.0 1236.2 509.0 1240.5 513.4 1238.9 517.7 1237.3 522.0 1238.3 525.3 1241.6 520.9 1245.9 517.7 1248.1 513.4 1247.5 515.5 1250.2 519.9 1251.3 523.1 1253.5 525.8 1256.7 525.3 1258.9 522.0 1261.1 521.5 1265.4 519.9 1268.6 516.6 1271.9 513.4 1275.1 509.0 1276.2 503.6 1277.3 499.3 1278.4 495.0 1279.5 488.5 1281.6 482.0 1283.8M549.6 1241.6L546.9 1238.9 542.6 1237.8 540.4 1235.1 537.2 1233.5 535.0 1232.9 533.9 1234.6 535.6 1236.2 532.9 1238.9 530.1 1241.6 530.7 1244.3 533.9 1247.0 538.3 1247.5 540.4 1244.8 541.0 1247.0 543.7 1250.2 546.9 1253.5 549.6 1256.2 552.3 1257.8 556.7 1260.0 562.1 1261.6 567.5 1262.2 569.7 1257.8 571.8 1258.9 572.9 1261.6 576.1 1263.2 580.5 1264.3 584.8 1265.4 585.9 1269.7 588.1 1273.0 592.4 1275.1 595.6 1278.4 596.7 1282.7 598.9 1286.0 601.0 1289.2 602.1 1293.0M552.3 1222.1L553.4 1228.6 556.7 1233.5 552.3 1235.1M552.3 1223.2L557.7 1223.2 564.2 1219.9 570.7 1216.7 576.1 1213.4 579.4 1214.5 583.7 1214.5 590.2 1214.0 594.5 1214.0 598.9 1210.2 601.0 1205.9 600.0 1200.5 602.1 1196.1 605.4 1192.9 608.6 1188.6 614.0 1186.4 616.2 1184.2 620.0 1184.2M589.1 1228.6L593.5 1222.1 598.9 1219.9 602.1 1218.9 606.5 1215.6 611.9 1212.4 617.3 1209.1 620.0 1208.0M601.0 1222.1L603.2 1226.4 607.5 1229.7 611.9 1227.5 616.2 1225.4 620.0 1224.3M524.7 1229.1L527.4 1228.1 531.8 1229.7 529.6 1230.8 524.7 1229.7M547.5 1268.1L550.2 1266.5 553.4 1267.6 550.7 1270.3 547.5 1268.6M619.0 1184.2L623.3 1181.0 626.6 1178.8 630.3 1177.2 629.8 1183.1 628.7 1188.6 627.1 1195.0 625.5 1199.4 623.3 1203.7 619.0 1208.0M619.0 1221.0L625.5 1222.1 627.1 1224.3 626.6 1226.4 629.8 1228.6 634.1 1229.7 638.5 1232.9 643.9 1236.2 649.3 1237.3 654.7 1236.2 662.3 1235.6 668.8 1235.1 675.3 1234.6 678.0 1232.9 677.4 1228.6 676.3 1225.4 673.1 1224.3 670.9 1222.1 669.9 1217.8 670.9 1215.1 673.6 1211.3 676.3 1207.0 679.1 1204.8 681.8 1204.2M662.8 1216.7L664.4 1214.0 667.7 1208.0 669.9 1202.6 672.0 1197.8 673.1 1196.7 674.7 1198.3 673.1 1202.6 669.9 1209.1 666.6 1214.5 662.8 1216.7M382.9 1356.9L385.1 1354.8 390.5 1353.7 393.2 1351.0 398.1 1350.4 403.5 1352.1 408.9 1354.8 413.3 1358.0 414.3 1361.3 418.7 1363.4 421.9 1366.7 426.2 1369.9 429.5 1371.0 432.7 1374.3 434.9 1378.6 439.2 1379.9 443.6 1378.6 447.9 1377.5 450.6 1374.3 449.5 1371.0 452.2 1367.8M382.4 1356.9L380.8 1362.4 378.6 1367.8 375.4 1373.2 373.2 1377.5 371.6 1384.0 370.5 1387.2 365.6 1387.2 360.2 1389.4 355.9 1392.7 353.2 1397.0 354.8 1400.2 359.1 1400.2 365.6 1398.6 371.0 1395.9 373.7 1396.4 375.4 1399.2 378.6 1401.3 385.1 1402.4 389.4 1400.2 393.8 1395.9 399.2 1394.8 404.6 1393.7 410.0 1392.7 414.3 1392.1M414.3 1392.1L416.0 1395.9 414.3 1400.2 413.3 1404.6 411.1 1408.9 410.0 1413.2 408.9 1416.5 405.7 1417.6 403.0 1419.2 401.9 1423.0 401.3 1426.2 404.6 1427.8 410.0 1428.6 413.3 1428.9M421.9 1419.7L424.1 1415.4 426.2 1412.1 425.2 1406.7 424.1 1400.2 423.5 1395.9 424.6 1391.6 426.2 1389.4 428.4 1391.6 429.5 1395.9 430.6 1400.2 429.5 1405.6 430.6 1411.1 433.8 1412.1 437.1 1408.9 439.2 1411.1 438.1 1416.5 437.1 1419.7 439.2 1420.8 443.6 1419.7 446.8 1417.6 447.9 1415.4 450.1 1411.1 451.1 1406.7 452.2 1403.5 456.5 1401.3 458.7 1399.2 460.9 1394.8 462.0 1389.4 463.0 1386.2 465.2 1382.9 467.4 1380.8 469.5 1377.5 470.6 1374.3 469.5 1372.1M477.1 1292.5L471.7 1300.7 467.4 1305.0 463.0 1309.3 458.7 1311.5 452.2 1314.2 447.9 1316.4 445.7 1321.2 444.1 1325.6 445.2 1327.7 447.9 1326.6 446.8 1331.0 443.6 1334.2 441.4 1338.5 440.3 1342.9 441.4 1346.1 439.2 1350.4 437.6 1351.0 441.4 1351.7 445.7 1353.7 447.9 1356.9 445.7 1360.2 442.5 1362.4 439.2 1365.6 437.1 1367.8 439.2 1369.4 444.6 1368.8 449.0 1369.9 452.2 1372.1M470.6 1310.4L478.2 1309.3 482.0 1312.6M452.2 1337.5L457.6 1339.6 463.0 1335.3 468.5 1337.5 471.7 1341.8M458.7 1345.0L466.3 1344.0 470.6 1347.2 469.5 1352.6 463.0 1352.6 458.7 1350.4 458.7 1345.0M452.2 1356.9L460.9 1354.8 468.5 1355.9 470.6 1361.3 465.2 1362.4 457.6 1361.3 452.2 1356.9M453.3 1365.6L458.7 1363.4 464.1 1363.4 468.5 1367.8 470.6 1373.2 468.5 1377.5 463.0 1378.6M474.9 1332.0L477.1 1335.3 476.0 1344.0 474.9 1352.6 477.1 1361.3 480.4 1367.8 482.0 1369.9M410.0 1378.0L412.2 1377.5 414.3 1379.7 413.3 1381.8 410.5 1380.2 410.0 1378.0M409.5 1387.2L411.6 1386.7 413.3 1388.3 411.1 1389.4 409.5 1387.2M438.1 1389.4L441.4 1387.8 444.1 1389.4 442.5 1391.6 438.7 1391.0 438.1 1389.4M482.0 1315.8L485.2 1318.0 486.3 1320.1 483.1 1322.3 482.0 1324.5M490.6 1325.6L493.9 1326.6 496.1 1331.0 495.5 1335.3 492.8 1333.1 490.6 1327.7 490.6 1325.6M492.8 1339.6L496.1 1338.5 499.3 1342.3 496.1 1342.9 492.8 1339.6M491.7 1351.5L499.3 1348.3 498.2 1351.0 492.8 1352.6 491.7 1351.5M488.5 1356.9L492.8 1355.9 495.0 1358.0M492.3 1361.3L493.9 1358.0 498.2 1356.9 502.5 1357.5 506.9 1359.6 511.2 1363.4 515.0 1367.8 517.7 1372.1 519.3 1376.4 518.8 1379.7 518.8 1381.8 519.9 1386.2 522.0 1389.4 525.3 1387.8 529.6 1388.3 533.9 1390.5 537.2 1393.7 537.7 1398.1 536.1 1401.3 538.3 1402.4 541.0 1403.5 541.5 1406.7 539.3 1407.8 537.2 1408.9 535.0 1412.1 532.9 1416.5 530.7 1420.8 528.5 1424.0 526.9 1427.3 527.4 1430.0M482.0 1375.3L486.3 1375.9 490.6 1376.4 495.0 1375.6 498.2 1377.5 503.6 1378.6 506.9 1379.7 510.1 1380.8 513.4 1381.8 518.8 1381.8M492.8 1381.8L488.5 1385.1 486.3 1389.4 485.2 1393.7M561.0 1413.2L564.2 1410.0 568.6 1406.7 572.9 1406.2 574.5 1408.9 571.8 1411.1 569.7 1413.2 570.7 1416.5 569.7 1419.7 568.6 1423.0 567.5 1426.2 565.3 1425.1 563.2 1420.8 561.0 1416.5 561.0 1413.2M571.8 1416.5L575.1 1417.6 576.1 1419.7 574.0 1420.8 572.4 1418.6 571.8 1416.5M584.3 1393.2L585.9 1392.1 587.5 1394.8 585.9 1396.4 584.3 1393.2M594.5 1358.0L598.9 1355.9 602.1 1352.6 606.5 1350.4 609.7 1351.5 608.6 1355.9 604.3 1359.1 601.0 1361.3 597.8 1360.2 594.5 1358.0M589.1 1296.3L593.5 1300.7 595.6 1306.1 598.9 1309.3 602.1 1307.2 601.0 1302.8 596.7 1298.5 593.5 1294.2M601.0 1297.4L603.2 1295.2 606.5 1296.3 604.3 1299.6 601.0 1297.4M606.5 1292.0L611.9 1294.2 616.2 1296.3 620.0 1297.4M617.3 1307.2L618.4 1311.5 620.0 1316.9M620.0 1332.0L615.7 1333.7 613.5 1337.5 614.6 1341.8 617.3 1344.0 615.1 1346.7 611.9 1348.3 610.8 1350.4M610.8 1387.2L611.9 1391.6 612.9 1395.9 614.0 1400.2 616.2 1404.6 618.4 1408.9 620.0 1411.1M611.9 1387.2L614.6 1387.8 615.1 1392.7 617.3 1398.1 620.0 1400.2M619.0 1300.7L623.3 1299.0 623.9 1302.8 621.1 1306.1 619.0 1307.2M619.0 1315.8L622.2 1316.9 623.9 1320.1 623.3 1324.5 625.5 1328.8 627.6 1329.9 626.6 1333.1 625.5 1336.4 622.2 1335.3 619.0 1333.1M619.0 1352.6L621.1 1356.9 623.3 1361.3 625.5 1365.6 629.8 1366.7 631.4 1367.8 632.0 1374.3 635.2 1376.4 641.7 1375.9 640.6 1378.0 638.5 1379.7 638.5 1384.0 642.8 1385.1 634.1 1385.1M630.9 1390.5L635.2 1388.9 640.6 1389.4 646.0 1390.5 650.4 1391.0 654.7 1390.5 657.9 1391.6 662.3 1394.8 665.5 1399.2 664.4 1400.2 660.1 1398.1 655.8 1394.8 651.5 1393.7 647.1 1393.7 642.8 1394.8 640.6 1399.2 637.4 1400.2 634.1 1397.0 632.0 1393.7 630.9 1390.5M645.0 1401.3L649.3 1401.3 653.6 1402.4 651.5 1404.6 647.1 1405.6 643.9 1408.9 640.6 1412.1 639.5 1416.5 641.7 1417.6 643.9 1415.4 644.4 1418.6 642.8 1420.8 640.6 1424.0 638.5 1427.3 637.4 1430.0M619.0 1403.5L622.2 1406.7 624.4 1411.1 627.6 1413.2 632.0 1415.4 630.9 1418.6 626.6 1419.7 623.3 1418.6 621.1 1420.8M412.2 1430.0L408.9 1434.3 405.7 1438.7 402.4 1443.0 398.6 1445.2 398.6 1448.4 397.0 1454.9 398.1 1460.3 394.9 1465.7 391.6 1471.1 388.4 1473.3 384.0 1471.7 379.7 1469.0 375.4 1466.8M375.4 1466.8L378.6 1474.4 380.8 1476.5 384.0 1476.5 387.8 1475.5 387.3 1473.3M458.7 1430.0L454.4 1434.3 450.1 1439.7 446.8 1443.0 444.6 1448.4 442.5 1452.7 440.9 1457.1 440.3 1460.3 441.9 1463.6 443.6 1465.7 443.0 1469.0 445.7 1472.2 450.1 1471.1 454.4 1467.9 456.5 1464.6 460.9 1463.6 464.1 1461.4 466.3 1459.2 468.5 1457.1 472.8 1458.1 477.1 1459.2 482.0 1460.3M526.4 1430.0L525.3 1434.3 523.1 1437.6 519.9 1439.7 517.7 1443.0 515.5 1444.1 514.5 1448.4 513.4 1452.7 511.2 1453.3 510.1 1450.6 509.0 1452.7 506.9 1453.3 503.6 1456.0 498.2 1458.1 492.8 1458.1 487.4 1458.7 482.0 1460.3M500.4 1474.4L503.6 1473.3 506.9 1475.5 510.1 1476.5 514.5 1477.6 518.8 1477.6 520.9 1479.8 520.4 1484.1 518.8 1486.3 514.5 1488.4 510.1 1489.5 506.9 1489.5 503.6 1486.3 500.9 1484.1 500.9 1479.8 502.0 1477.6 500.4 1474.4M620.0 1448.4L615.1 1447.9 609.7 1448.9 604.3 1449.5 601.0 1447.3 596.7 1446.2 591.3 1448.4 589.1 1451.6 585.9 1457.1 583.7 1461.4 581.6 1466.8 579.4 1473.3 577.2 1479.8 576.1 1486.3 574.0 1490.6 570.7 1494.9 567.5 1499.3 564.2 1503.6 563.2 1507.9 565.3 1515.5 568.6 1522.0 571.8 1525.2 575.1 1523.1 577.2 1518.8 579.4 1516.6 582.6 1522.0 585.9 1527.4 588.1 1531.7 590.2 1532.8 593.5 1531.7 595.6 1528.5 597.8 1524.2 598.9 1519.8 600.0 1514.4 598.9 1510.1 596.7 1505.8 594.5 1501.4 593.5 1497.1 594.5 1490.6 596.7 1485.2 597.8 1479.8 598.9 1475.5 602.1 1474.4 604.3 1476.5 602.1 1480.9 601.0 1486.3 602.1 1492.8 604.3 1498.2 607.5 1501.4 611.9 1504.7 615.1 1503.6 620.0 1502.5M620.0 1507.9L616.2 1505.8 614.0 1507.9 614.6 1512.3 612.9 1516.6 612.9 1522.0 615.1 1525.2 617.3 1528.5 615.1 1531.7 611.9 1533.9 607.5 1535.0 603.2 1537.2 598.9 1539.3 596.7 1543.6 593.5 1542.6 590.2 1540.4 588.1 1539.3 585.9 1537.2 584.8 1533.9 583.7 1530.7M581.6 1525.2L579.4 1527.4 577.2 1531.7 576.1 1536.1 577.2 1539.3 577.2 1542.6 578.3 1544.7 577.2 1548.0 574.0 1550.1 570.7 1553.4 567.5 1555.6 565.3 1558.8 562.1 1561.0 557.7 1563.1 555.6 1566.4M536.1 1523.1L540.4 1523.1 542.6 1525.2 540.4 1527.4 543.7 1528.5 545.8 1530.7 543.7 1533.9 542.6 1537.2 544.8 1539.3 546.9 1542.6 549.1 1544.7 548.0 1546.9 549.1 1549.1 551.3 1551.2 556.7 1555.6 556.7 1559.9 555.6 1564.2 553.4 1566.4M536.1 1523.1L533.9 1527.4 532.9 1531.7 533.9 1536.1 535.0 1538.2 533.4 1540.4 536.1 1541.5 539.3 1544.7 540.4 1549.1 538.3 1551.2 536.1 1553.4 533.9 1556.6 535.0 1559.9 538.3 1562.0 533.9 1565.3M517.7 1551.2L519.9 1545.8 523.1 1543.6 527.4 1542.6 530.7 1541.5 532.9 1543.6 531.8 1549.1 529.6 1553.4 527.4 1556.6 524.2 1557.7 520.9 1558.8 517.7 1556.6 516.6 1554.5 517.7 1551.2M636.3 1430.0L636.8 1434.3 636.8 1439.7 635.2 1443.0 632.0 1442.4 628.7 1440.3 626.0 1441.4 628.7 1444.6 633.1 1447.3 634.1 1451.6 632.0 1454.9 629.8 1458.1 626.6 1461.4 623.3 1462.5 619.0 1462.5M619.0 1454.9L622.2 1458.1 624.4 1462.5 625.5 1466.8 629.8 1469.0 627.6 1470.0 624.4 1467.9 621.1 1464.6 619.0 1462.5M619.0 1496.0L623.3 1494.9 625.5 1498.2 624.4 1501.4 621.1 1502.0 619.0 1500.4M619.0 1512.3L620.1 1516.6 619.0 1518.8"/></g></g> <g id="patch_14"> <path d="M 264.23 752.4 C 290.48 752.4 315.66 741.96 334.22 723.40 C 352.79 704.83 363.22 679.65 363.22 653.4 C 363.22 627.14 352.79 601.96 334.22 583.39 C 315.66 564.83 290.48 554.4 264.23 554.4 C 237.97 554.4 212.79 564.83 194.23 583.39 C 175.67 601.96 165.24 627.14 165.24 653.4 C 165.24 679.65 175.67 704.83 194.23 723.40 C 212.79 741.96 237.97 752.4 264.23 752.4 L 264.23 752.4 z " clip-path="url(#pa01c754460)" style="fill: none"/> </g> <g id="line2d_51"> <path d="M 350.79 654.26 L 350.67 649.74 L 350.31 645.24 L 349.72 640.75 L 348.90 636.31 L 347.84 631.92 L 346.56 627.58 L 345.05 623.32 L 343.32 619.15 L 341.38 615.07 L 339.22 611.10 L 336.86 607.24 L 334.30 603.52 L 331.55 599.93 L 328.61 596.49 L 325.50 593.22 L 322.23 590.11 L 318.79 587.17 L 315.20 584.42 L 311.48 581.86 L 307.63 579.50 L 303.65 577.34 L 299.58 575.40 L 295.40 573.67 L 291.14 572.16 L 286.81 570.87 L 282.41 569.82 L 277.97 568.99 L 273.49 568.40 L 268.98 568.05 L 264.47 567.93 L 259.95 568.05 L 255.44 568.40 L 250.96 568.99 L 246.52 569.82 L 242.12 570.87 L 237.79 572.16 L 233.53 573.67 L 229.36 575.40 L 225.28 577.34 L 221.31 579.50 L 217.45 581.86 L 213.73 584.42 L 210.14 587.17 L 206.71 590.11 L 203.43 593.22 L 200.32 596.49 L 197.38 599.93 L 194.63 603.52 L 192.07 607.24 L 189.71 611.10 L 187.55 615.07 L 185.61 619.15 L 183.88 623.32 L 182.37 627.58 L 181.09 631.92 L 180.03 636.31 L 179.21 640.75 L 178.62 645.24 L 178.26 649.74 L 178.15 654.26 L 178.26 658.78 L 178.62 663.28 L 179.21 667.76 L 180.03 672.21 L 181.09 676.60 L 182.37 680.94 L 183.88 685.20 L 185.61 689.37 L 187.55 693.45 L 189.71 697.42 L 192.07 701.28 L 194.63 705.00 L 197.38 708.59 L 200.32 712.02 L 203.43 715.30 L 206.71 718.41 L 210.14 721.35 L 213.73 724.10 L 217.45 726.66 L 221.31 729.02 L 225.28 731.18 L 229.36 733.12 L 233.53 734.85 L 237.79 736.36 L 242.12 737.64 L 246.52 738.70 L 250.96 739.52 L 255.44 740.11 L 259.95 740.47 L 264.47 740.59 L 268.98 740.47 L 273.49 740.11 L 277.97 739.52 L 282.41 738.70 L 286.81 737.64 L 291.14 736.36 L 295.40 734.85 L 299.58 733.12 L 303.65 731.18 L 307.63 729.02 L 311.48 726.66 L 315.20 724.10 L 318.79 721.35 L 322.23 718.41 L 325.50 715.30 L 328.61 712.02 L 331.55 708.59 L 334.30 705.00 L 336.86 701.28 L 339.22 697.42 L 341.38 693.45 L 343.32 689.37 L 345.05 685.20 L 346.56 680.94 L 347.84 676.60 L 348.90 672.21 L 349.72 667.76 L 350.31 663.28 L 350.67 658.78 L 350.79 654.26 L 350.79 654.26 " clip-path="url(#p8e0f099409)" style="fill: none; stroke: #aaaaaa; stroke-width: 0.8; stroke-linecap: square"/> </g> <g id="line2d_52"> <path d="M 337.82 654.26 L 337.72 650.42 L 337.42 646.59 L 336.92 642.78 L 336.22 639.01 L 335.32 635.27 L 334.23 631.59 L 332.95 627.97 L 331.48 624.42 L 329.83 620.95 L 327.99 617.58 L 325.99 614.30 L 323.81 611.14 L 321.47 608.09 L 318.98 605.17 L 316.34 602.38 L 313.55 599.74 L 310.63 597.25 L 307.58 594.91 L 304.42 592.73 L 301.14 590.72 L 297.77 588.89 L 294.30 587.24 L 290.75 585.77 L 287.13 584.49 L 283.45 583.40 L 279.72 582.50 L 275.94 581.80 L 272.13 581.30 L 268.31 581.00 L 264.47 580.90 L 260.63 581.00 L 256.80 581.30 L 252.99 581.80 L 249.21 582.50 L 245.48 583.40 L 241.80 584.49 L 238.18 585.77 L 234.63 587.24 L 231.16 588.89 L 227.79 590.72 L 224.51 592.73 L 221.35 594.91 L 218.30 597.25 L 215.38 599.74 L 212.60 602.38 L 209.95 605.17 L 207.46 608.09 L 205.12 611.14 L 202.94 614.30 L 200.94 617.58 L 199.10 620.95 L 197.45 624.42 L 195.98 627.97 L 194.70 631.59 L 193.61 635.27 L 192.71 639.01 L 192.01 642.78 L 191.51 646.59 L 191.21 650.42 L 191.11 654.26 L 191.21 658.10 L 191.51 661.93 L 192.01 665.74 L 192.71 669.51 L 193.61 673.25 L 194.70 676.93 L 195.98 680.55 L 197.45 684.10 L 199.10 687.57 L 200.94 690.94 L 202.94 694.22 L 205.12 697.38 L 207.46 700.43 L 209.95 703.35 L 212.60 706.13 L 215.38 708.78 L 218.30 711.27 L 221.35 713.61 L 224.51 715.79 L 227.79 717.79 L 231.16 719.63 L 234.63 721.28 L 238.18 722.75 L 241.80 724.03 L 245.48 725.12 L 249.21 726.02 L 252.99 726.72 L 256.80 727.22 L 260.63 727.52 L 264.47 727.62 L 268.31 727.52 L 272.13 727.22 L 275.94 726.72 L 279.72 726.02 L 283.45 725.12 L 287.13 724.03 L 290.75 722.75 L 294.30 721.28 L 297.77 719.63 L 301.14 717.79 L 304.42 715.79 L 307.58 713.61 L 310.63 711.27 L 313.55 708.78 L 316.34 706.13 L 318.98 703.35 L 321.47 700.43 L 323.81 697.38 L 325.99 694.22 L 327.99 690.94 L 329.83 687.57 L 331.48 684.10 L 332.95 680.55 L 334.23 676.93 L 335.32 673.25 L 336.22 669.51 L 336.92 665.74 L 337.42 661.93 L 337.72 658.10 L 337.82 654.26 L 337.82 654.26 " clip-path="url(#p8e0f099409)" style="fill: none; stroke: #aaaaaa; stroke-width: 0.8; stroke-linecap: square"/> </g> <g id="line2d_53"> <path d="M 325.16 654.26 L 325.01 650.02 L 324.57 645.81 L 323.83 641.64 L 322.81 637.53 L 321.50 633.50 L 319.91 629.57 L 318.06 625.76 L 315.94 622.09 L 313.57 618.58 L 310.96 615.24 L 308.13 612.09 L 305.08 609.15 L 301.83 606.43 L 298.41 603.94 L 294.81 601.69 L 291.07 599.70 L 287.20 597.98 L 283.22 596.53 L 279.15 595.36 L 275.01 594.48 L 270.81 593.89 L 266.58 593.60 L 262.35 593.60 L 258.12 593.89 L 253.93 594.48 L 249.78 595.36 L 245.71 596.53 L 241.73 597.98 L 237.86 599.70 L 234.12 601.69 L 230.53 603.94 L 227.10 606.43 L 223.85 609.15 L 220.81 612.09 L 217.97 615.24 L 215.36 618.58 L 212.99 622.09 L 210.88 625.76 L 209.02 629.57 L 207.43 633.50 L 206.12 637.53 L 205.10 641.64 L 204.36 645.81 L 203.92 650.02 L 203.77 654.26 L 203.92 658.49 L 204.36 662.71 L 205.10 666.88 L 206.12 670.99 L 207.43 675.02 L 209.02 678.95 L 210.88 682.76 L 212.99 686.42 L 215.36 689.94 L 217.97 693.28 L 220.81 696.42 L 223.85 699.37 L 227.10 702.09 L 230.53 704.58 L 234.12 706.83 L 237.86 708.81 L 241.73 710.54 L 245.71 711.99 L 249.78 713.15 L 253.93 714.04 L 258.12 714.63 L 262.35 714.92 L 266.58 714.92 L 270.81 714.63 L 275.01 714.04 L 279.15 713.15 L 283.22 711.99 L 287.20 710.54 L 291.07 708.81 L 294.81 706.83 L 298.41 704.58 L 301.83 702.09 L 305.08 699.37 L 308.13 696.42 L 310.96 693.28 L 313.57 689.94 L 315.94 686.42 L 318.06 682.76 L 319.91 678.95 L 321.50 675.02 L 322.81 670.99 L 323.83 666.88 L 324.57 662.71 L 325.01 658.49 L 325.16 654.26 L 325.16 654.26 " clip-path="url(#p8e0f099409)" style="fill: none; stroke: #aaaaaa; stroke-width: 0.8; stroke-linecap: square"/> </g> <g id="line2d_54"> <path d="M 312.74 654.26 L 312.62 650.89 L 312.27 647.54 L 311.68 644.22 L 310.87 640.95 L 309.83 637.75 L 308.57 634.62 L 307.09 631.59 L 305.40 628.68 L 303.52 625.88 L 301.45 623.23 L 299.19 620.72 L 296.77 618.38 L 294.19 616.22 L 291.46 614.24 L 288.60 612.45 L 285.63 610.87 L 282.55 609.50 L 279.38 608.34 L 276.14 607.42 L 272.85 606.71 L 269.51 606.25 L 266.15 606.01 L 262.78 606.01 L 259.42 606.25 L 256.08 606.71 L 252.79 607.42 L 249.55 608.34 L 246.38 609.50 L 243.30 610.87 L 240.33 612.45 L 237.47 614.24 L 234.75 616.22 L 232.16 618.38 L 229.74 620.72 L 227.49 623.23 L 225.41 625.88 L 223.53 628.68 L 221.84 631.59 L 220.37 634.62 L 219.10 637.75 L 218.06 640.95 L 217.25 644.22 L 216.66 647.54 L 216.31 650.89 L 216.19 654.26 L 216.31 657.63 L 216.66 660.98 L 217.25 664.30 L 218.06 667.57 L 219.10 670.77 L 220.37 673.90 L 221.84 676.92 L 223.53 679.84 L 225.41 682.64 L 227.49 685.29 L 229.74 687.80 L 232.16 690.14 L 234.75 692.30 L 237.47 694.28 L 240.33 696.07 L 243.30 697.65 L 246.38 699.02 L 249.55 700.17 L 252.79 701.10 L 256.08 701.80 L 259.42 702.27 L 262.78 702.51 L 266.15 702.51 L 269.51 702.27 L 272.85 701.80 L 276.14 701.10 L 279.38 700.17 L 282.55 699.02 L 285.63 697.65 L 288.60 696.07 L 291.46 694.28 L 294.19 692.30 L 296.77 690.14 L 299.19 687.80 L 301.45 685.29 L 303.52 682.64 L 305.40 679.84 L 307.09 676.92 L 308.57 673.90 L 309.83 670.77 L 310.87 667.57 L 311.68 664.30 L 312.27 660.98 L 312.62 657.63 L 312.74 654.26 L 312.74 654.26 " clip-path="url(#p8e0f099409)" style="fill: none; stroke: #aaaaaa; stroke-width: 0.8; stroke-linecap: square"/> </g> <g id="line2d_55"> <path d="M 300.51 654.26 L 300.37 651.12 L 299.96 648.00 L 299.28 644.93 L 298.33 641.93 L 297.13 639.03 L 295.68 636.24 L 293.99 633.58 L 292.08 631.09 L 289.95 628.77 L 287.63 626.65 L 285.14 624.73 L 282.49 623.04 L 279.70 621.59 L 276.79 620.39 L 273.79 619.44 L 270.72 618.76 L 267.61 618.35 L 264.47 618.21 L 261.32 618.35 L 258.21 618.76 L 255.14 619.44 L 252.14 620.39 L 249.23 621.59 L 246.44 623.04 L 243.79 624.73 L 241.30 626.65 L 238.98 628.77 L 236.86 631.09 L 234.94 633.58 L 233.25 636.24 L 231.80 639.03 L 230.60 641.93 L 229.65 644.93 L 228.97 648.00 L 228.56 651.12 L 228.42 654.26 L 228.56 657.40 L 228.97 660.52 L 229.65 663.59 L 230.60 666.59 L 231.80 669.49 L 233.25 672.28 L 234.94 674.93 L 236.86 677.43 L 238.98 679.75 L 241.30 681.87 L 243.79 683.79 L 246.44 685.48 L 249.23 686.93 L 252.14 688.13 L 255.14 689.08 L 258.21 689.76 L 261.32 690.17 L 264.47 690.30 L 267.61 690.17 L 270.72 689.76 L 273.79 689.08 L 276.79 688.13 L 279.70 686.93 L 282.49 685.48 L 285.14 683.79 L 287.63 681.87 L 289.95 679.75 L 292.08 677.43 L 293.99 674.93 L 295.68 672.28 L 297.13 669.49 L 298.33 666.59 L 299.28 663.59 L 299.96 660.52 L 300.37 657.40 L 300.51 654.26 L 300.51 654.26 " clip-path="url(#p8e0f099409)" style="fill: none; stroke: #aaaaaa; stroke-width: 0.8; stroke-linecap: square"/> </g> <g id="line2d_56"> <path d="M 288.42 654.26 L 288.29 651.76 L 287.89 649.28 L 287.25 646.86 L 286.35 644.52 L 285.21 642.28 L 283.84 640.18 L 282.27 638.23 L 280.49 636.46 L 278.54 634.88 L 276.44 633.51 L 274.21 632.38 L 271.87 631.48 L 269.45 630.83 L 266.97 630.44 L 264.47 630.31 L 261.96 630.44 L 259.49 630.83 L 257.06 631.48 L 254.72 632.38 L 252.49 633.51 L 250.39 634.88 L 248.44 636.46 L 246.67 638.23 L 245.09 640.18 L 243.72 642.28 L 242.58 644.52 L 241.69 646.86 L 241.04 649.28 L 240.65 651.76 L 240.51 654.26 L 240.65 656.76 L 241.04 659.24 L 241.69 661.66 L 242.58 664.00 L 243.72 666.24 L 245.09 668.34 L 246.67 670.29 L 248.44 672.06 L 250.39 673.64 L 252.49 675.00 L 254.72 676.14 L 257.06 677.04 L 259.49 677.69 L 261.96 678.08 L 264.47 678.21 L 266.97 678.08 L 269.45 677.69 L 271.87 677.04 L 274.21 676.14 L 276.44 675.00 L 278.54 673.64 L 280.49 672.06 L 282.27 670.29 L 283.84 668.34 L 285.21 666.24 L 286.35 664.00 L 287.25 661.66 L 287.89 659.24 L 288.29 656.76 L 288.42 654.26 L 288.42 654.26 " clip-path="url(#p8e0f099409)" style="fill: none; stroke: #aaaaaa; stroke-width: 0.8; stroke-linecap: square"/> </g> <g id="line2d_57"> <path d="M 276.42 654.26 L 276.30 652.60 L 275.96 650.96 L 275.39 649.40 L 274.60 647.92 L 273.62 646.58 L 272.46 645.38 L 271.15 644.35 L 269.71 643.51 L 268.16 642.89 L 266.54 642.49 L 264.88 642.31 L 263.22 642.37 L 261.57 642.66 L 259.99 643.18 L 258.49 643.91 L 257.11 644.84 L 255.87 645.95 L 254.80 647.23 L 253.91 648.65 L 253.23 650.17 L 252.77 651.77 L 252.54 653.43 L 252.54 655.09 L 252.77 656.74 L 253.23 658.35 L 253.91 659.87 L 254.80 661.29 L 255.87 662.56 L 257.11 663.68 L 258.49 664.61 L 259.99 665.34 L 261.57 665.86 L 263.22 666.15 L 264.88 666.21 L 266.54 666.03 L 268.16 665.63 L 269.71 665.00 L 271.15 664.17 L 272.46 663.14 L 273.62 661.94 L 274.60 660.59 L 275.39 659.12 L 275.96 657.55 L 276.30 655.92 L 276.42 654.26 L 276.42 654.26 " clip-path="url(#p8e0f099409)" style="fill: none; stroke: #aaaaaa; stroke-width: 0.8; stroke-linecap: square"/> </g> <g id="line2d_58"> <path d="M 264.47 655.03 L 264.47 758.21 " clip-path="url(#p8e0f099409)" style="fill: none; stroke: #aaaaaa; stroke-width: 0.8"/> </g> <g id="line2d_59"> <path d="M 265.13 654.64 L 354.48 706.23 " clip-path="url(#p8e0f099409)" style="fill: none; stroke: #aaaaaa; stroke-width: 0.8"/> </g> <g id="line2d_60"> <path d="M 265.13 653.88 L 354.48 602.28 " clip-path="url(#p8e0f099409)" style="fill: none; stroke: #aaaaaa; stroke-width: 0.8"/> </g> <g id="line2d_61"> <path d="M 264.47 653.49 L 264.47 550.31 " clip-path="url(#p8e0f099409)" style="fill: none; stroke: #aaaaaa; stroke-width: 0.8"/> </g> <g id="line2d_62"> <path d="M 263.80 653.88 L 174.45 602.28 " clip-path="url(#p8e0f099409)" style="fill: none; stroke: #aaaaaa; stroke-width: 0.8"/> </g> <g id="line2d_63"> <path d="M 263.80 654.64 L 174.45 706.23 " clip-path="url(#p8e0f099409)" style="fill: none; stroke: #aaaaaa; stroke-width: 0.8"/> </g> <g id="line2d_64"> <path d="M 363.22 653.4 L 363.08 648.21 L 362.67 643.05 L 362.00 637.91 L 361.05 632.81 L 359.84 627.77 L 358.37 622.80 L 356.64 617.92 L 354.66 613.13 L 352.43 608.45 L 349.95 603.9 L 347.25 599.48 L 344.31 595.20 L 341.16 591.09 L 337.79 587.15 L 334.22 583.39 L 330.46 579.82 L 326.52 576.46 L 322.41 573.30 L 318.14 570.37 L 313.72 567.66 L 309.17 565.19 L 304.49 562.95 L 299.70 560.97 L 294.82 559.24 L 289.85 557.77 L 284.81 556.56 L 279.71 555.61 L 274.57 554.94 L 269.41 554.53 L 264.23 554.4 L 259.05 554.53 L 253.88 554.94 L 248.74 555.61 L 243.64 556.56 L 238.61 557.77 L 233.64 559.24 L 228.75 560.97 L 223.96 562.95 L 219.29 565.19 L 214.73 567.66 L 210.31 570.37 L 206.04 573.30 L 201.93 576.46 L 197.99 579.82 L 194.23 583.39 L 190.66 587.15 L 187.30 591.09 L 184.14 595.20 L 181.21 599.48 L 178.50 603.9 L 176.02 608.45 L 173.79 613.13 L 171.81 617.92 L 170.08 622.80 L 168.61 627.77 L 167.40 632.81 L 166.45 637.91 L 165.78 643.05 L 165.37 648.21 L 165.24 653.4 L 165.37 658.58 L 165.78 663.74 L 166.45 668.88 L 167.40 673.98 L 168.61 679.02 L 170.08 683.99 L 171.81 688.87 L 173.79 693.66 L 176.02 698.34 L 178.50 702.9 L 181.21 707.31 L 184.14 711.59 L 187.30 715.70 L 190.66 719.64 L 194.23 723.40 L 197.99 726.97 L 201.93 730.33 L 206.04 733.49 L 210.31 736.42 L 214.73 739.13 L 219.29 741.60 L 223.96 743.84 L 228.75 745.82 L 233.64 747.55 L 238.61 749.02 L 243.64 750.23 L 248.74 751.18 L 253.88 751.85 L 259.05 752.26 L 264.23 752.4 L 269.41 752.26 L 274.57 751.85 L 279.71 751.18 L 284.81 750.23 L 289.85 749.02 L 294.82 747.55 L 299.70 745.82 L 304.49 743.84 L 309.17 741.60 L 313.72 739.13 L 318.14 736.42 L 322.41 733.49 L 326.52 730.33 L 330.46 726.97 L 334.22 723.40 L 337.79 719.64 L 341.16 715.70 L 344.31 711.59 L 347.25 707.31 L 349.95 702.9 L 352.43 698.34 L 354.66 693.66 L 356.64 688.87 L 358.37 683.99 L 359.84 679.02 L 361.05 673.98 L 362.00 668.88 L 362.67 663.74 L 363.08 658.58 L 363.22 653.4 L 363.22 653.4 " clip-path="url(#pa01c754460)" style="fill: none; stroke: #000000; stroke-linecap: square"/> </g> <g id="patch_15"> <path d="M 264.47 654.88 C 264.63 654.88 264.79 654.82 264.91 654.70 C 265.02 654.58 265.09 654.42 265.09 654.26 C 265.09 654.09 265.02 653.93 264.91 653.82 C 264.79 653.70 264.63 653.64 264.47 653.64 C 264.30 653.64 264.14 653.70 264.02 653.82 C 263.91 653.93 263.84 654.09 263.84 654.26 C 263.84 654.42 263.91 654.58 264.02 654.70 C 264.14 654.82 264.30 654.88 264.47 654.88 z " clip-path="url(#pa01c754460)" style="fill: #ffffff"/> </g> <g id="text_23"> <text style="font-size: 11.5px; font-family: 'DejaVu Sans', 'Liberation Sans', sans-serif; text-anchor: middle" x="264.23" y="548.4" transform="rotate(-0 264.23 548.4)">Model - Observation</text> </g> <g id="text_24"> <text style="font-size: 9px; font-family: 'DejaVu Sans', 'Liberation Sans', sans-serif; text-anchor: end" x="363.22" y="548.4" transform="rotate(-0 363.22 548.4)">mm/day</text> </g> </g> <g id="axes_6"> <g id="patch_16"> <path d="M 379.44 717.91 L 399.39 717.91 L 399.39 588.88 L 379.44 588.88 z " style="fill: #ffffff; stroke: #ffffff; stroke-width: 0.6"/> </g> <g id="patch_17"> <path d="M 379.44 717.91 L 389.41 724.36 L 399.39 717.91 z" style="fill: #543005; stroke: #543005; stroke-width: 0.6"/> </g> <g id="patch_18"> <path d="M 379.44 588.88 L 389.41 582.43 L 399.39 588.88 z" style="fill: #003c30; stroke: #003c30; stroke-width: 0.6"/> </g> <g id="QuadMesh_3"> <path d="M 379.44 717.91 L 399.39 717.91 L 399.39 707.98 L 379.44 707.98 L 379.44 717.91 " clip-path="url(#pe85c788060)" style="fill: #543005; stroke: #543005; stroke-width: 0.6"/> <path d="M 379.44 707.98 L 399.39 707.98 L 399.39 698.06 L 379.44 698.06 L 379.44 707.98 " clip-path="url(#pe85c788060)" style="fill: #824b09; stroke: #824b09; stroke-width: 0.6"/> <path d="M 379.44 698.06 L 399.39 698.06 L 399.39 688.13 L 379.44 688.13 L 379.44 698.06 " clip-path="url(#pe85c788060)" style="fill: #ad7021; stroke: #ad7021; stroke-width: 0.6"/> <path d="M 379.44 688.13 L 399.39 688.13 L 399.39 678.21 L 379.44 678.21 L 379.44 688.13 " clip-path="url(#pe85c788060)" style="fill: #cea053; stroke: #cea053; stroke-width: 0.6"/> <path d="M 379.44 678.21 L 399.39 678.21 L 399.39 668.28 L 379.44 668.28 L 379.44 678.21 " clip-path="url(#pe85c788060)" style="fill: #e7cf94; stroke: #e7cf94; stroke-width: 0.6"/> <path d="M 379.44 668.28 L 399.39 668.28 L 399.39 658.36 L 379.44 658.36 L 379.44 668.28 " clip-path="url(#pe85c788060)" style="fill: #f6eacb; stroke: #f6eacb; stroke-width: 0.6"/> <path d="M 379.44 658.36 L 399.39 658.36 L 399.39 648.43 L 379.44 648.43 L 379.44 658.36 " clip-path="url(#pe85c788060)" style="fill: #f5f5f4; stroke: #f5f5f4; stroke-width: 0.6"/> <path d="M 379.44 648.43 L 399.39 648.43 L 399.39 638.51 L 379.44 638.51 L 379.44 648.43 " clip-path="url(#pe85c788060)" style="fill: #d0ece8; stroke: #d0ece8; stroke-width: 0.6"/> <path d="M 379.44 638.51 L 399.39 638.51 L 399.39 628.58 L 379.44 628.58 L 379.44 638.51 " clip-path="url(#pe85c788060)" style="fill: #98d7cd; stroke: #98d7cd; stroke-width: 0.6"/> <path d="M 379.44 628.58 L 399.39 628.58 L 399.39 618.66 L 379.44 618.66 L 379.44 628.58 " clip-path="url(#pe85c788060)" style="fill: #5bb3a8; stroke: #5bb3a8; stroke-width: 0.6"/> <path d="M 379.44 618.66 L 399.39 618.66 L 399.39 608.73 L 379.44 608.73 L 379.44 618.66 " clip-path="url(#pe85c788060)" style="fill: #258880; stroke: #258880; stroke-width: 0.6"/> <path d="M 379.44 608.73 L 399.39 608.73 L 399.39 598.81 L 379.44 598.81 L 379.44 608.73 " clip-path="url(#pe85c788060)" style="fill: #016058; stroke: #016058; stroke-width: 0.6"/> <path d="M 379.44 598.81 L 399.39 598.81 L 399.39 588.88 L 379.44 588.88 L 379.44 598.81 " clip-path="url(#pe85c788060)" style="fill: #003c30; stroke: #003c30; stroke-width: 0.6"/> </g> <g id="matplotlib.axis_5"/> <g id="matplotlib.axis_6"> <g id="ytick_23"> <g id="line2d_65"/> <g id="text_25"> <text style="font-size: 9px; font-family: 'DejaVu Sans', 'Liberation Sans', sans-serif; text-anchor: end" x="424.39" y="711.40" transform="rotate(-0 424.39 711.40)">-2.00</text> </g> </g> <g id="ytick_24"> <g id="line2d_66"/> <g id="text_26"> <text style="font-size: 9px; font-family: 'DejaVu Sans', 'Liberation Sans', sans-serif; text-anchor: end" x="424.39" y="701.48" transform="rotate(-0 424.39 701.48)">-1.50</text> </g> </g> <g id="ytick_25"> <g id="line2d_67"/> <g id="text_27"> <text style="font-size: 9px; font-family: 'DejaVu Sans', 'Liberation Sans', sans-serif; text-anchor: end" x="424.39" y="691.55" transform="rotate(-0 424.39 691.55)">-1.00</text> </g> </g> <g id="ytick_26"> <g id="line2d_68"/> <g id="text_28"> <text style="font-size: 9px; font-family: 'DejaVu Sans', 'Liberation Sans', sans-serif; text-anchor: end" x="424.39" y="681.63" transform="rotate(-0 424.39 681.63)">-0.75</text> </g> </g> <g id="ytick_27"> <g id="line2d_69"/> <g id="text_29"> <text style="font-size: 9px; font-family: 'DejaVu Sans', 'Liberation Sans', sans-serif; text-anchor: end" x="424.39" y="671.70" transform="rotate(-0 424.39 671.70)">-0.50</text> </g> </g> <g id="ytick_28"> <g id="line2d_70"/> <g id="text_30"> <text style="font-size: 9px; font-family: 'DejaVu Sans', 'Liberation Sans', sans-serif; text-anchor: end" x="424.39" y="661.78" transform="rotate(-0 424.39 661.78)">-0.25</text> </g> </g> <g id="ytick_29"> <g id="line2d_71"/> <g id="text_31"> <text style="font-size: 9px; font-family: 'DejaVu Sans', 'Liberation Sans', sans-serif; text-anchor: end" x="424.39" y="651.85" transform="rotate(-0 424.39 651.85)">0.25</text> </g> </g> <g id="ytick_30"> <g id="line2d_72"/> <g id="text_32"> <text style="font-size: 9px; font-family: 'DejaVu Sans', 'Liberation Sans', sans-serif; text-anchor: end" x="424.39" y="641.93" transform="rotate(-0 424.39 641.93)">0.50</text> </g> </g> <g id="ytick_31"> <g id="line2d_73"/> <g id="text_33"> <text style="font-size: 9px; font-family: 'DejaVu Sans', 'Liberation Sans', sans-serif; text-anchor: end" x="424.39" y="632.00" transform="rotate(-0 424.39 632.00)">0.75</text> </g> </g> <g id="ytick_32"> <g id="line2d_74"/> <g id="text_34"> <text style="font-size: 9px; font-family: 'DejaVu Sans', 'Liberation Sans', sans-serif; text-anchor: end" x="424.39" y="622.08" transform="rotate(-0 424.39 622.08)">1.00</text> </g> </g> <g id="ytick_33"> <g id="line2d_75"/> <g id="text_35"> <text style="font-size: 9px; font-family: 'DejaVu Sans', 'Liberation Sans', sans-serif; text-anchor: end" x="424.39" y="612.15" transform="rotate(-0 424.39 612.15)">1.50</text> </g> </g> <g id="ytick_34"> <g id="line2d_76"/> <g id="text_36"> <text style="font-size: 9px; font-family: 'DejaVu Sans', 'Liberation Sans', sans-serif; text-anchor: end" x="424.39" y="602.23" transform="rotate(-0 424.39 602.23)">2.00</text> </g> </g> <g id="ytick_35"> <g id="line2d_77"> <g> <use href="#m7389b9bb77" x="399.39" y="717.91" style="stroke: #000000; stroke-width: 0.6"/> </g> </g> </g> <g id="ytick_36"> <g id="line2d_78"> <g> <use href="#m7389b9bb77" x="399.39" y="588.88" style="stroke: #000000; stroke-width: 0.6"/> </g> </g> </g> </g> <g id="LineCollection_3"/> <g id="patch_19"> <path d="M 379.44 717.91 L 389.41 724.36 L 399.39 717.91 L 399.39 588.88 L 389.41 582.43 L 379.44 588.88 L 379.44 717.91 z " style="fill: none; stroke: #000000; stroke-width: 0.8; stroke-linejoin: miter; stroke-linecap: square"/> </g> </g> <g id="text_37"> <text style="font-size: 18px; font-family: 'DejaVu Sans', 'Liberation Sans', sans-serif; text-anchor: middle" x="306" y="37.43" transform="rotate(-0 306 37.43)">PRECT 06 polar_N</text> </g> <g id="text_38"> <text style="font-size: 9px; font-family: 'DejaVu Sans', 'Liberation Sans', sans-serif" transform="translate(379.44 77.72)">Max</text> <text style="font-size: 9px; font-family: 'DejaVu Sans', 'Liberation Sans', sans-serif" transform="translate(379.44 88.36)">Mean</text> <text style="font-size: 9px; font-family: 'DejaVu Sans', 'Liberation Sans', sans-serif" transform="translate(379.44 99)">Min</text> </g> <g id="text_39"> <text style="font-size: 9px; font-family: 'DejaVu Sans', 'Liberation Sans', sans-serif; text-anchor: end" transform="translate(440.64 77.72)">9.65</text> <text style="font-size: 9px; font-family: 'DejaVu Sans', 'Liberation Sans', sans-serif; text-anchor: end" transform="translate(440.64 88.36)">2.18</text> <text style="font-size: 9px; font-family: 'DejaVu Sans', 'Liberation Sans', sans-serif; text-anchor: end" transform="translate(440.64 99)">0.22</text> </g> <g id="text_40"> <text style="font-size: 9px; font-family: 'DejaVu Sans', 'Liberation Sans', sans-serif" transform="translate(379.44 315.32)">Max</text> <text style="font-size: 9px; font-family: 'DejaVu Sans', 'Liberation Sans', sans-serif" transform="translate(379.44 325.96)">Mean</text> <text style="font-size: 9px; font-family: 'DejaVu Sans', 'Liberation Sans', sans-serif" transform="translate(379.44 336.6)">Min</text> </g> <g id="text_41"> <text style="font-size: 9px; font-family: 'DejaVu Sans', 'Liberation Sans', sans-serif; text-anchor: end" transform="translate(440.64 315.32)">7.73</text> <text style="font-size: 9px; font-family: 'DejaVu Sans', 'Liberation Sans', sans-serif; text-anchor: end" transform="translate(440.64 325.96)">2.25</text> <text style="font-size: 9px; font-family: 'DejaVu Sans', 'Liberation Sans', sans-serif; text-anchor: end" transform="translate(440.64 336.6)">0.21</text> </g> <g id="text_42"> <text style="font-size: 9px; font-family: 'DejaVu Sans', 'Liberation Sans', sans-serif" transform="translate(379.44 552.92)">Max</text> <text style="font-size: 9px; font-family: 'DejaVu Sans', 'Liberation Sans', sans-serif" transform="translate(379.44 563.56)">Mean</text> <text style="font-size: 9px; font-family: 'DejaVu Sans', 'Liberation Sans', sans-serif" transform="translate(379.44 574.2)">Min</text> </g> <g id="text_43"> <text style="font-size: 9px; font-family: 'DejaVu Sans', 'Liberation Sans', sans-serif; text-anchor: end" transform="translate(440.64 552.92)">5.80</text> <text style="font-size: 9px; font-family: 'DejaVu Sans', 'Liberation Sans', sans-serif; text-anchor: end" transform="translate(440.64 563.56)">-0.07</text> <text style="font-size: 9px; font-family: 'DejaVu Sans', 'Liberation Sans', sans-serif; text-anchor: end" transform="translate(440.64 574.2)">-3.37</text> </g> <g id="text_44"> <text style="font-size: 9px; font-family: 'DejaVu Sans', 'Liberation Sans', sans-serif" transform="translate(379.44 741.76)">RMSE</text> <text style="font-size: 9px; font-family: 'DejaVu Sans', 'Liberation Sans', sans-serif" transform="translate(379.44 752.4)">CORR</text> </g> <g id="text_45"> <text style="font-size: 9px; font-family: 'DejaVu Sans', 'Liberation Sans', sans-serif; text-anchor: end" transform="translate(440.64 741.76)">0.99</text> <text style="font-size: 9px; font-family: 'DejaVu Sans', 'Liberation Sans', sans-serif; text-anchor: end" transform="translate(440.64 752.4)">0.65</text> </g> </g> <defs> <clipPath id="p30380c0dd8"> <rect x="165.24" y="79.2" width="197.98" height="198"/> </clipPath> <clipPath id="p5b7d30ce52"> <path d="M 264.23 277.2 C 290.48 277.2 315.66 266.76 334.22 248.20 C 352.79 229.63 363.22 204.45 363.22 178.2 C 363.22 151.94 352.79 126.76 334.22 108.19 C 315.66 89.63 290.48 79.2 264.23 79.2 C 237.97 79.2 212.79 89.63 194.23 108.19 C 175.67 126.76 165.24 151.94 165.24 178.2 C 165.24 204.45 175.67 229.63 194.23 248.20 C 212.79 266.76 237.97 277.2 264.23 277.2 z "/> </clipPath> <clipPath id="p6d5c730205"> <rect x="379.44" y="113.68" width="19.95" height="129.02"/> </clipPath> <clipPath id="p254148b0d5"> <rect x="165.24" y="316.8" width="197.98" height="198"/> </clipPath> <clipPath id="pfb6401b332"> <path d="M 264.23 514.8 C 290.48 514.8 315.66 504.36 334.22 485.80 C 352.79 467.23 363.22 442.05 363.22 415.8 C 363.22 389.54 352.79 364.36 334.22 345.79 C 315.66 327.23 290.48 316.8 264.23 316.8 C 237.97 316.8 212.79 327.23 194.23 345.79 C 175.67 364.36 165.24 389.54 165.24 415.8 C 165.24 442.05 175.67 467.23 194.23 485.80 C 212.79 504.36 237.97 514.8 264.23 514.8 z "/> </clipPath> <clipPath id="p558d03f585"> <rect x="379.44" y="351.28" width="19.95" height="129.02"/> </clipPath> <clipPath id="pa01c754460"> <rect x="165.24" y="554.4" width="197.98" height="198"/> </clipPath> <clipPath id="p8e0f099409"> <path d="M 264.23 752.4 C 290.48 752.4 315.66 741.96 334.22 723.40 C 352.79 704.83 363.22 679.65 363.22 653.4 C 363.22 627.14 352.79 601.96 334.22 583.39 C 315.66 564.83 290.48 554.4 264.23 554.4 C 237.97 554.4 212.79 564.83 194.23 583.39 C 175.67 601.96 165.24 627.14 165.24 653.4 C 165.24 679.65 175.67 704.83 194.23 723.40 C 212.79 741.96 237.97 752.4 264.23 752.4 z "/> </clipPath> <clipPath id="pe85c788060"> <rect x="379.44" y="588.88" width="19.95" height="129.02"/> </clipPath> </defs> </svg> 
</body></html>
